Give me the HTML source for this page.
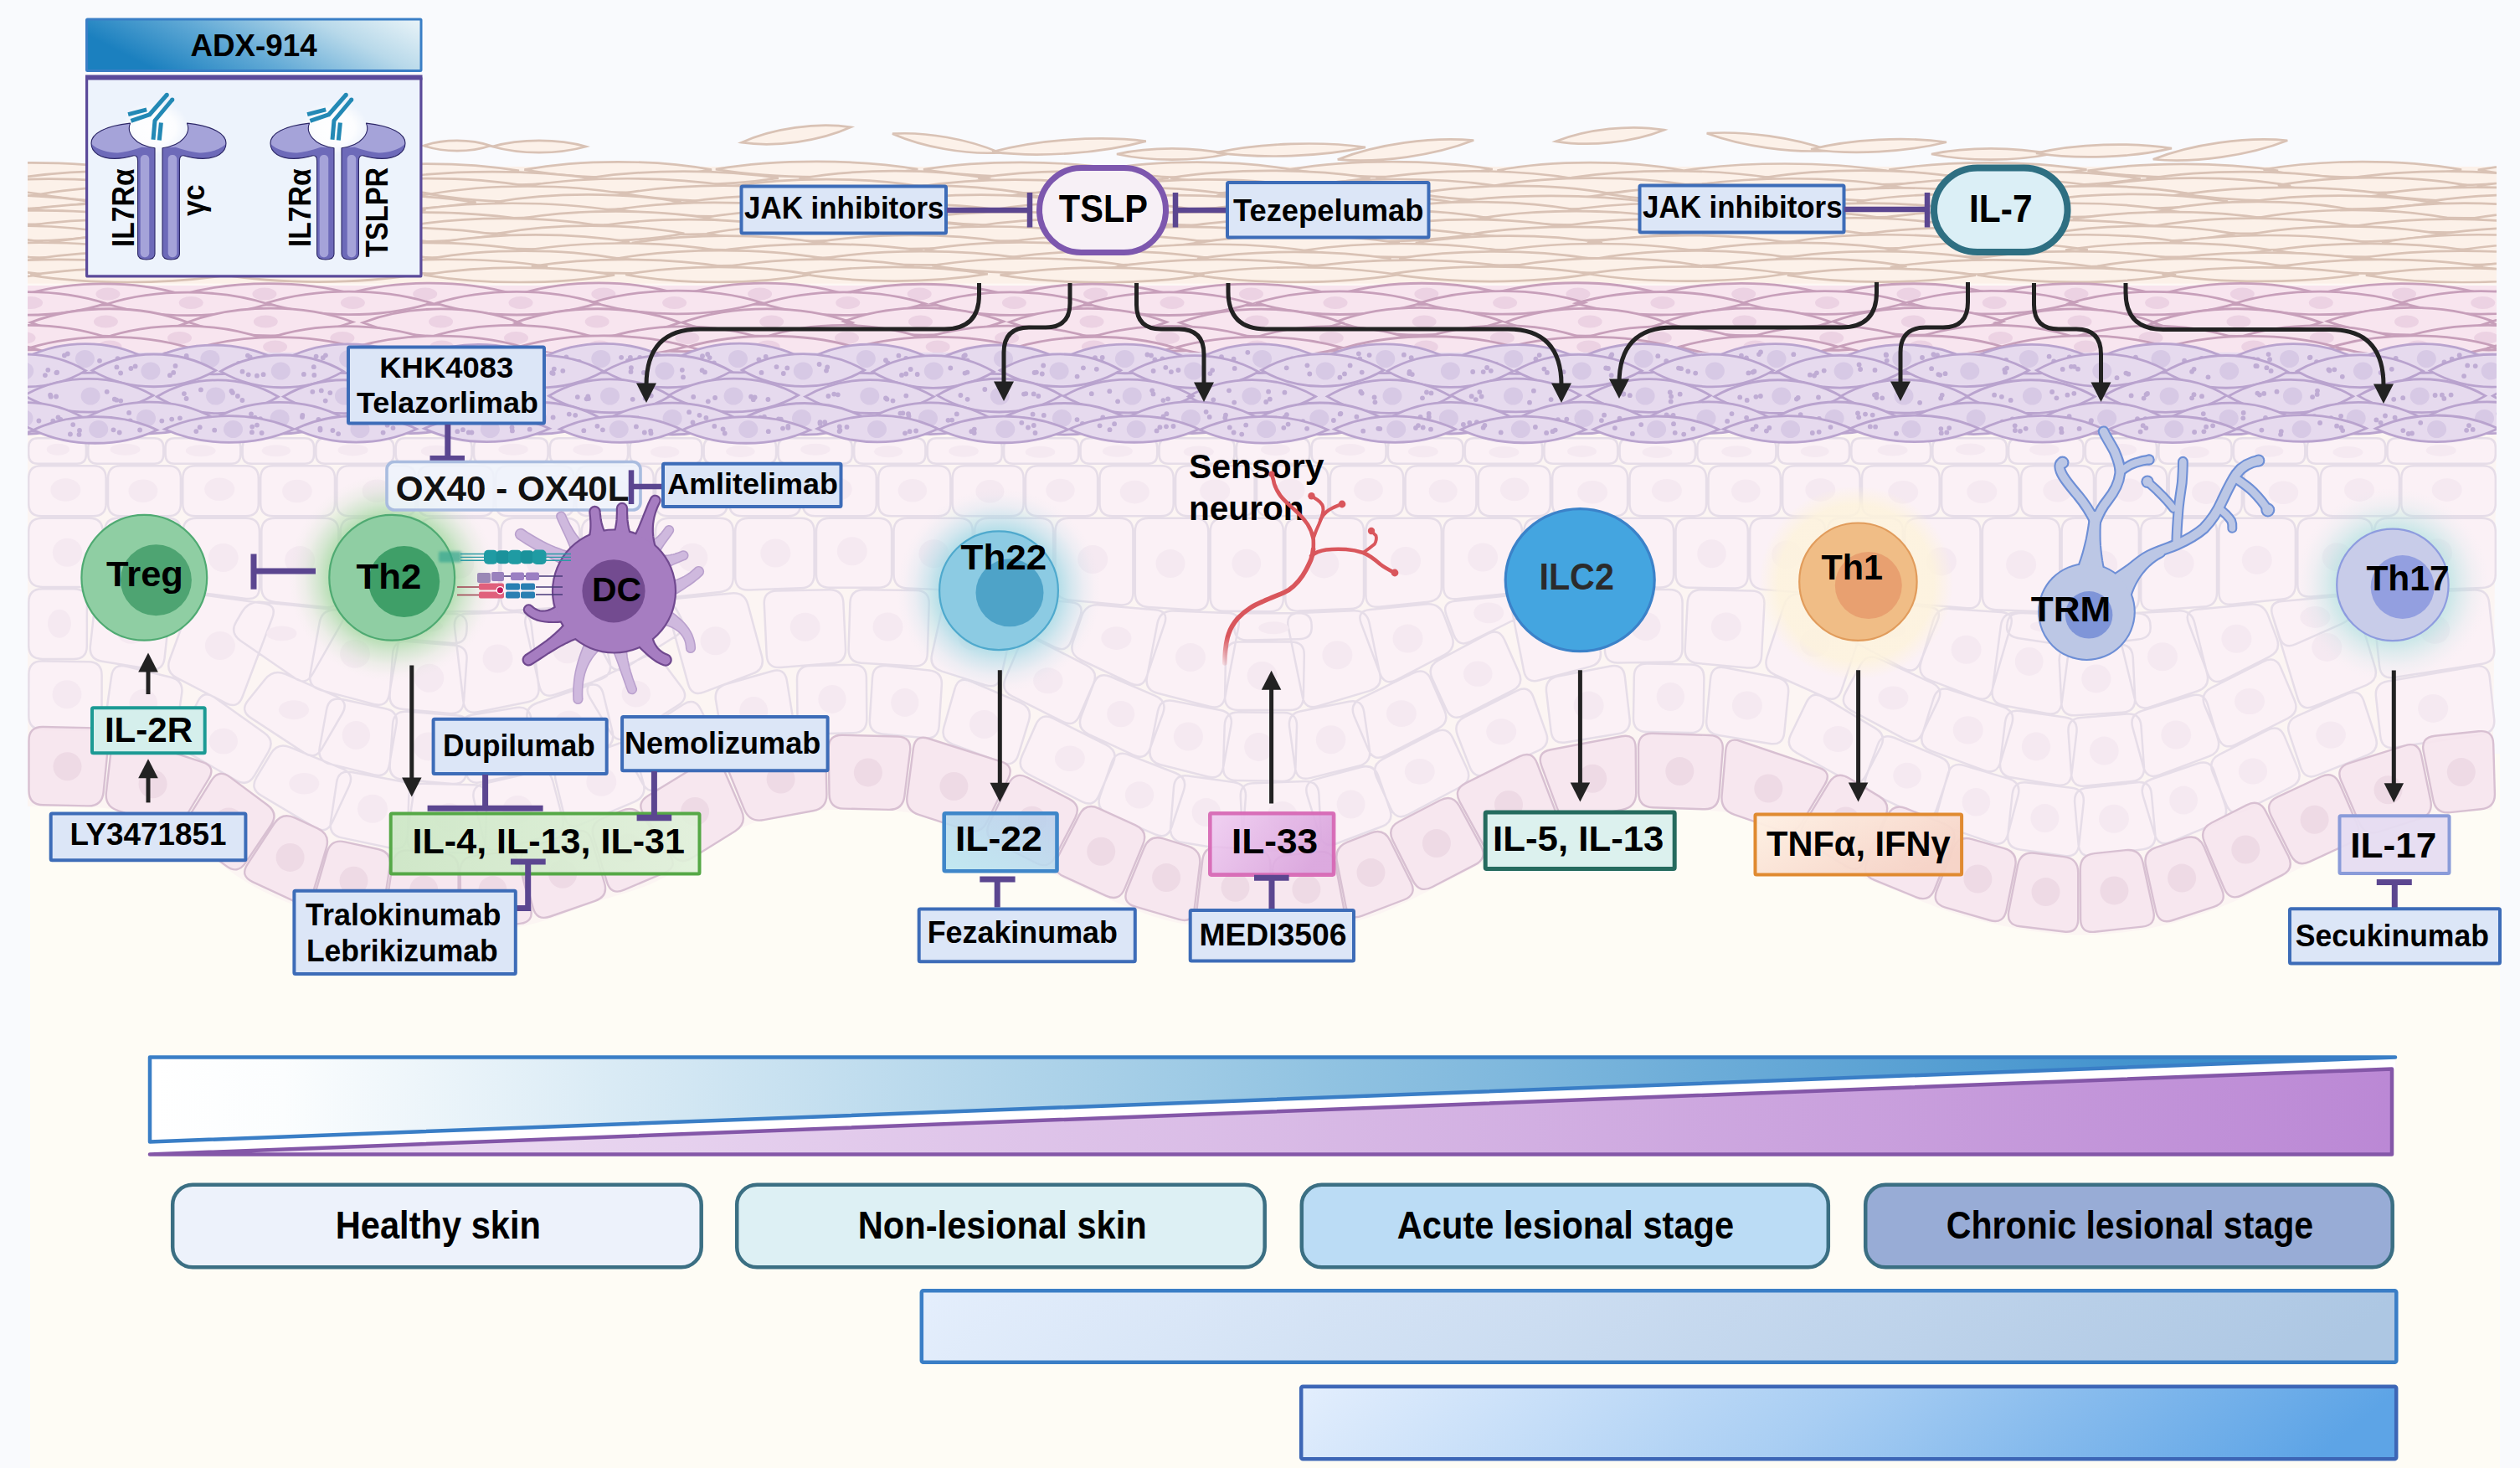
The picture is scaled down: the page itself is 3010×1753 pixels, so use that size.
<!DOCTYPE html>
<html lang="en"><head><meta charset="utf-8"><title>Atopic dermatitis pathways</title>
<style>html,body{margin:0;padding:0;background:#f9fafd;}svg{display:block;}</style></head>
<body>
<svg width="3010" height="1753" viewBox="0 0 3010 1753" font-family="'Liberation Sans', Arial, sans-serif" font-weight="700">
<defs>
<linearGradient id="gADX" x1="0" x2="1" y1="0.3" y2="0"><stop offset="0" stop-color="#1b80bf"/><stop offset="0.35" stop-color="#62aad6"/><stop offset="0.7" stop-color="#b8d9ea"/><stop offset="1" stop-color="#eaf4f8"/></linearGradient>
<radialGradient id="gCup"><stop offset="0" stop-color="#fff" stop-opacity="1"/><stop offset="0.6" stop-color="#fff" stop-opacity="0.85"/><stop offset="1" stop-color="#fff" stop-opacity="0"/></radialGradient>
<radialGradient id="glTh2"><stop offset="0%" stop-color="#a3d9a1" stop-opacity="0.780"/><stop offset="60%" stop-color="#a3d9a1" stop-opacity="0.780"/><stop offset="72%" stop-color="#a3d9a1" stop-opacity="0.429"/><stop offset="84%" stop-color="#a3d9a1" stop-opacity="0.156"/><stop offset="94%" stop-color="#a3d9a1" stop-opacity="0.031"/><stop offset="100%" stop-color="#a3d9a1" stop-opacity="0.000"/></radialGradient>
<filter id="fBlur" x="-20%" y="-40%" width="140%" height="180%"><feGaussianBlur stdDeviation="1.6"/></filter>
<linearGradient id="gIL4" x1="0" x2="1"><stop offset="0" stop-color="#cbe7c4" stop-opacity="0.9"/><stop offset="1" stop-color="#e0f1da" stop-opacity="0.9"/></linearGradient>
<radialGradient id="glTh22"><stop offset="0%" stop-color="#9dd8e4" stop-opacity="0.750"/><stop offset="58%" stop-color="#9dd8e4" stop-opacity="0.750"/><stop offset="70.6%" stop-color="#9dd8e4" stop-opacity="0.413"/><stop offset="83.2%" stop-color="#9dd8e4" stop-opacity="0.150"/><stop offset="93.7%" stop-color="#9dd8e4" stop-opacity="0.030"/><stop offset="100%" stop-color="#9dd8e4" stop-opacity="0.000"/></radialGradient>
<linearGradient id="gIL22" x1="0" x2="1" y1="1" y2="0"><stop offset="0" stop-color="#b9e6f0"/><stop offset="1" stop-color="#bbcfec"/></linearGradient>
<linearGradient id="gNeu" gradientUnits="userSpaceOnUse" x1="0" y1="760" x2="0" y2="796"><stop offset="0" stop-color="#d9565c"/><stop offset="1" stop-color="#d9565c" stop-opacity="0.1"/></linearGradient>
<linearGradient id="gIL33" x1="0" x2="1" y1="0" y2="0.4"><stop offset="0" stop-color="#efcdf1"/><stop offset="1" stop-color="#d9a3dd"/></linearGradient>
<radialGradient id="glTh1"><stop offset="0%" stop-color="#fdf3dc" stop-opacity="0.850"/><stop offset="80%" stop-color="#fdf3dc" stop-opacity="0.850"/><stop offset="100%" stop-color="#fdf3dc" stop-opacity="0.000"/></radialGradient>
<linearGradient id="gTNF" x1="0" x2="1" y1="0" y2="0.6"><stop offset="0" stop-color="#fef1e4"/><stop offset="1" stop-color="#f6d3c6"/></linearGradient>
<radialGradient id="glTh17"><stop offset="0%" stop-color="#a8e0de" stop-opacity="0.600"/><stop offset="58%" stop-color="#a8e0de" stop-opacity="0.600"/><stop offset="70.6%" stop-color="#a8e0de" stop-opacity="0.330"/><stop offset="83.2%" stop-color="#a8e0de" stop-opacity="0.120"/><stop offset="93.7%" stop-color="#a8e0de" stop-opacity="0.024"/><stop offset="100%" stop-color="#a8e0de" stop-opacity="0.000"/></radialGradient>
<linearGradient id="gBlueW" x1="0" x2="1" y1="0" y2="0"><stop offset="0" stop-color="#ffffff"/><stop offset="0.06" stop-color="#fbfdfe"/><stop offset="0.5" stop-color="#96c6e3"/><stop offset="1" stop-color="#2a84c7"/></linearGradient>
<linearGradient id="gPurW" x1="0" x2="1" y1="0" y2="0"><stop offset="0" stop-color="#f1e4f5"/><stop offset="0.5" stop-color="#d9bbe6"/><stop offset="1" stop-color="#bb88d5"/></linearGradient>
<linearGradient id="gBar1" x1="0" x2="1" y1="0" y2="0.05"><stop offset="0" stop-color="#e4eefc"/><stop offset="1" stop-color="#adc7e3"/></linearGradient>
<linearGradient id="gBar2" x1="0" x2="1" y1="0" y2="0.08"><stop offset="0" stop-color="#e3eefd"/><stop offset="0.5" stop-color="#a9cef3"/><stop offset="1" stop-color="#5da4e6"/></linearGradient>
</defs>
<rect x="0" y="0" width="3010" height="1753" fill="#f9fafd"/>
<clipPath id="skinclip"><rect x="33" y="0" width="2949" height="1753"/></clipPath>
<rect x="36" y="900" width="2950" height="853" fill="#fefcf5"/>
<g clip-path="url(#skinclip)">
<path d="M33 500 L33 963 L41 963 L49 963 L57 963 L65 963 L73 963 L81 963.1 L89 963.1 L97 963.3 L105 963.6 L113 964 L121 964.6 L129 965.5 L137 966.6 L145 968 L153 969.7 L161 971.7 L169 973.9 L177 976.6 L185 979.6 L193 983.1 L201 987.1 L209 991.5 L217 996.4 L225 1001.8 L233 1007.6 L241 1013.8 L249 1020.1 L257 1026.6 L265 1032.9 L273 1039 L281 1044.8 L289 1050.1 L297 1055 L305 1059.6 L313 1063.8 L321 1067.8 L329 1071.5 L337 1075 L345 1078.2 L353 1081.1 L361 1083.8 L369 1086.2 L377 1088.5 L385 1090.7 L393 1092.8 L401 1094.8 L409 1096.6 L417 1098.4 L425 1100 L433 1101.5 L441 1102.9 L449 1104.2 L457 1105.5 L465 1106.7 L473 1107.8 L481 1108.9 L489 1109.9 L497 1110.8 L505 1111.6 L513 1112.3 L521 1112.8 L529 1113.2 L537 1113.5 L545 1113.7 L553 1113.7 L561 1113.4 L569 1113 L577 1112.4 L585 1111.6 L593 1110.7 L601 1109.7 L609 1108.5 L617 1107.3 L625 1105.8 L633 1104.1 L641 1102.1 L649 1099.8 L657 1097.3 L665 1094.5 L673 1091.5 L681 1088.4 L689 1085.3 L697 1082.2 L705 1079.4 L713 1076.7 L721 1074.1 L729 1071.7 L737 1069.3 L745 1066.9 L753 1064.4 L761 1061.8 L769 1058.9 L777 1055.7 L785 1052.1 L793 1048 L801 1043.4 L809 1038.2 L817 1032.6 L825 1026.7 L833 1020.9 L841 1015.2 L849 1009.7 L857 1004.6 L865 999.8 L873 995.3 L881 991.1 L889 987.2 L897 983.7 L905 980.6 L913 977.9 L921 975.7 L929 973.8 L937 972.1 L945 970.8 L953 969.6 L961 968.7 L969 968.1 L977 967.6 L985 967.3 L993 967.1 L1001 967.1 L1009 967 L1017 967 L1025 967 L1033 967.1 L1041 967.2 L1049 967.3 L1057 967.6 L1065 968.1 L1073 968.8 L1081 969.7 L1089 970.8 L1097 972.1 L1105 973.8 L1113 975.6 L1121 977.9 L1129 980.5 L1137 983.4 L1145 986.7 L1153 990.2 L1161 994 L1169 997.8 L1177 1001.7 L1185 1005.7 L1193 1009.7 L1201 1013.8 L1209 1017.9 L1217 1022 L1225 1026.2 L1233 1030.4 L1241 1034.5 L1249 1038.7 L1257 1042.8 L1265 1046.8 L1273 1050.7 L1281 1054.6 L1289 1058.3 L1297 1061.9 L1305 1065.4 L1313 1068.9 L1321 1072.3 L1329 1075.7 L1337 1079 L1345 1082.3 L1353 1085.4 L1361 1088.5 L1369 1091.4 L1377 1094.2 L1385 1096.6 L1393 1098.9 L1401 1100.8 L1409 1102.4 L1417 1103.7 L1425 1104.8 L1433 1105.7 L1441 1106.5 L1449 1107.2 L1457 1107.9 L1465 1108.5 L1473 1109.2 L1481 1109.8 L1489 1110.3 L1497 1110.8 L1505 1111.2 L1513 1111.3 L1521 1111.3 L1529 1111 L1537 1110.6 L1545 1110 L1553 1109.2 L1561 1108.4 L1569 1107.5 L1577 1106.6 L1585 1105.6 L1593 1104.6 L1601 1103.4 L1609 1102 L1617 1100.4 L1625 1098.5 L1633 1096.2 L1641 1093.6 L1649 1090.7 L1657 1087.5 L1665 1084 L1673 1080.3 L1681 1076.5 L1689 1072.6 L1697 1068.6 L1705 1064.5 L1713 1060.5 L1721 1056.4 L1729 1052.3 L1737 1048.2 L1745 1044.1 L1753 1039.9 L1761 1035.6 L1769 1031.4 L1777 1027 L1785 1022.7 L1793 1018.3 L1801 1013.9 L1809 1009.5 L1817 1005.2 L1825 1001 L1833 997 L1841 993.1 L1849 989.5 L1857 986.1 L1865 983 L1873 980.1 L1881 977.4 L1889 974.9 L1897 972.7 L1905 970.8 L1913 969.2 L1921 968 L1929 967.1 L1937 966.4 L1945 966 L1953 965.8 L1961 965.8 L1969 965.8 L1977 965.9 L1985 966.1 L1993 966.2 L2001 966.4 L2009 966.6 L2017 966.9 L2025 967.2 L2033 967.6 L2041 968.1 L2049 968.6 L2057 969.2 L2065 970 L2073 971.1 L2081 972.5 L2089 974.3 L2097 976.7 L2105 979.7 L2113 983.2 L2121 987.1 L2129 991.5 L2137 996 L2145 1000.8 L2153 1005.7 L2161 1010.8 L2169 1015.9 L2177 1021 L2185 1026.1 L2193 1031 L2201 1035.6 L2209 1039.9 L2217 1043.9 L2225 1047.6 L2233 1051 L2241 1054.2 L2249 1057.4 L2257 1060.6 L2265 1063.8 L2273 1067 L2281 1070.3 L2289 1073.6 L2297 1076.9 L2305 1080.1 L2313 1083.3 L2321 1086.2 L2329 1089 L2337 1091.6 L2345 1094 L2353 1096.3 L2361 1098.4 L2369 1100.4 L2377 1102.3 L2385 1104 L2393 1105.7 L2401 1107.3 L2409 1108.8 L2417 1110.1 L2425 1111.4 L2433 1112.6 L2441 1113.6 L2449 1114.6 L2457 1115.3 L2465 1115.9 L2473 1116.3 L2481 1116.5 L2489 1116.5 L2497 1116.3 L2505 1115.9 L2513 1115.4 L2521 1114.8 L2529 1114 L2537 1113.2 L2545 1112.1 L2553 1111 L2561 1109.7 L2569 1108.2 L2577 1106.6 L2585 1104.8 L2593 1102.9 L2601 1100.7 L2609 1098.4 L2617 1095.9 L2625 1093.2 L2633 1090.4 L2641 1087.5 L2649 1084.4 L2657 1081.2 L2665 1077.9 L2673 1074.4 L2681 1070.7 L2689 1066.8 L2697 1062.7 L2705 1058.5 L2713 1054.3 L2721 1050.1 L2729 1045.8 L2737 1041.7 L2745 1037.7 L2753 1033.7 L2761 1029.8 L2769 1026 L2777 1022.2 L2785 1018.5 L2793 1014.8 L2801 1011.2 L2809 1007.6 L2817 1004.1 L2825 1000.6 L2833 997.2 L2841 993.9 L2849 990.8 L2857 987.9 L2865 985.2 L2873 982.8 L2881 980.6 L2889 978.5 L2897 976.6 L2905 974.9 L2913 973.2 L2921 971.8 L2929 970.5 L2937 969.5 L2945 968.6 L2953 968 L2961 967.4 L2969 967 L2977 966.7 L2982 500 Z" fill="#fcf5f3"/>
<path d="M34.2 534.2Q34.2 523.2 45.2 523.2L91.9 523.2Q102.9 523.2 102.9 534.2L102.9 542.8Q102.9 553.8 91.9 553.8L45.2 553.8Q34.2 553.8 34.2 542.8ZM105.3 534.2Q105.3 523.2 116.3 523.2L184.2 523.2Q195.2 523.2 195.2 534.2L195.2 542.8Q195.2 553.8 184.2 553.8L116.3 553.8Q105.3 553.8 105.3 542.8ZM197.6 534.2Q197.6 523.2 208.6 523.2L276.3 523.2Q287.3 523.2 287.3 534.2L287.3 542.8Q287.3 553.8 276.3 553.8L208.6 553.8Q197.6 553.8 197.6 542.8ZM289.7 534.2Q289.7 523.2 300.7 523.2L364 523.2Q375 523.2 375 534.2L375 542.8Q375 553.8 364 553.8L300.7 553.8Q289.7 553.8 289.7 542.8ZM377.4 534.2Q377.4 523.2 388.4 523.2L459.3 523.2Q470.3 523.2 470.3 534.2L470.3 542.8Q470.3 553.8 459.3 553.8L388.4 553.8Q377.4 553.8 377.4 542.8ZM472.7 534.2Q472.7 523.2 483.7 523.2L552.6 523.2Q563.6 523.2 563.6 534.2L563.6 542.8Q563.6 553.8 552.6 553.8L483.7 553.8Q472.7 553.8 472.7 542.8ZM566 534.2Q566 523.2 577 523.2L643.5 523.2Q654.5 523.2 654.5 534.2L654.5 542.8Q654.5 553.8 643.5 553.8L577 553.8Q566 553.8 566 542.8ZM656.9 534.2Q656.9 523.2 667.9 523.2L739.1 523.2Q750.1 523.2 750.1 534.2L750.1 542.8Q750.1 553.8 739.1 553.8L667.9 553.8Q656.9 553.8 656.9 542.8ZM752.5 534.2Q752.5 523.2 763.5 523.2L827.3 523.2Q838.3 523.2 838.3 534.2L838.3 542.8Q838.3 553.8 827.3 553.8L763.5 553.8Q752.5 553.8 752.5 542.8ZM840.7 534.2Q840.7 523.2 851.7 523.2L916.1 523.2Q927.1 523.2 927.1 534.2L927.1 542.8Q927.1 553.8 916.1 553.8L851.7 553.8Q840.7 553.8 840.7 542.8ZM929.5 534.2Q929.5 523.2 940.5 523.2L1006.8 523.2Q1017.8 523.2 1017.8 534.2L1017.8 542.8Q1017.8 553.8 1006.8 553.8L940.5 553.8Q929.5 553.8 929.5 542.8ZM1020.2 534.2Q1020.2 523.2 1031.2 523.2L1094.4 523.2Q1105.4 523.2 1105.4 534.2L1105.4 542.8Q1105.4 553.8 1094.4 553.8L1031.2 553.8Q1020.2 553.8 1020.2 542.8ZM1107.8 534.2Q1107.8 523.2 1118.8 523.2L1185.7 523.2Q1196.7 523.2 1196.7 534.2L1196.7 542.8Q1196.7 553.8 1185.7 553.8L1118.8 553.8Q1107.8 553.8 1107.8 542.8ZM1199.1 534.2Q1199.1 523.2 1210.1 523.2L1277.2 523.2Q1288.2 523.2 1288.2 534.2L1288.2 542.8Q1288.2 553.8 1277.2 553.8L1210.1 553.8Q1199.1 553.8 1199.1 542.8ZM1290.6 534.2Q1290.6 523.2 1301.6 523.2L1371.2 523.2Q1382.2 523.2 1382.2 534.2L1382.2 542.8Q1382.2 553.8 1371.2 553.8L1301.6 553.8Q1290.6 553.8 1290.6 542.8ZM1384.6 534.2Q1384.6 523.2 1395.6 523.2L1463.5 523.2Q1474.5 523.2 1474.5 534.2L1474.5 542.8Q1474.5 553.8 1463.5 553.8L1395.6 553.8Q1384.6 553.8 1384.6 542.8ZM1476.9 534.2Q1476.9 523.2 1487.9 523.2L1553.3 523.2Q1564.3 523.2 1564.3 534.2L1564.3 542.8Q1564.3 553.8 1553.3 553.8L1487.9 553.8Q1476.9 553.8 1476.9 542.8ZM1566.7 534.2Q1566.7 523.2 1577.7 523.2L1644.5 523.2Q1655.5 523.2 1655.5 534.2L1655.5 542.8Q1655.5 553.8 1644.5 553.8L1577.7 553.8Q1566.7 553.8 1566.7 542.8ZM1657.9 534.2Q1657.9 523.2 1668.9 523.2L1736.4 523.2Q1747.4 523.2 1747.4 534.2L1747.4 542.8Q1747.4 553.8 1736.4 553.8L1668.9 553.8Q1657.9 553.8 1657.9 542.8ZM1749.8 534.2Q1749.8 523.2 1760.8 523.2L1831.1 523.2Q1842.1 523.2 1842.1 534.2L1842.1 542.8Q1842.1 553.8 1831.1 553.8L1760.8 553.8Q1749.8 553.8 1749.8 542.8ZM1844.5 534.2Q1844.5 523.2 1855.5 523.2L1921.2 523.2Q1932.2 523.2 1932.2 534.2L1932.2 542.8Q1932.2 553.8 1921.2 553.8L1855.5 553.8Q1844.5 553.8 1844.5 542.8ZM1934.6 534.2Q1934.6 523.2 1945.6 523.2L2014 523.2Q2025 523.2 2025 534.2L2025 542.8Q2025 553.8 2014 553.8L1945.6 553.8Q1934.6 553.8 1934.6 542.8ZM2027.4 534.2Q2027.4 523.2 2038.4 523.2L2110.4 523.2Q2121.4 523.2 2121.4 534.2L2121.4 542.8Q2121.4 553.8 2110.4 553.8L2038.4 553.8Q2027.4 553.8 2027.4 542.8ZM2123.8 534.2Q2123.8 523.2 2134.8 523.2L2198 523.2Q2209 523.2 2209 534.2L2209 542.8Q2209 553.8 2198 553.8L2134.8 553.8Q2123.8 553.8 2123.8 542.8ZM2211.4 534.2Q2211.4 523.2 2222.4 523.2L2295 523.2Q2306 523.2 2306 534.2L2306 542.8Q2306 553.8 2295 553.8L2222.4 553.8Q2211.4 553.8 2211.4 542.8ZM2308.4 534.2Q2308.4 523.2 2319.4 523.2L2385.8 523.2Q2396.8 523.2 2396.8 534.2L2396.8 542.8Q2396.8 553.8 2385.8 553.8L2319.4 553.8Q2308.4 553.8 2308.4 542.8ZM2399.2 534.2Q2399.2 523.2 2410.2 523.2L2477.5 523.2Q2488.5 523.2 2488.5 534.2L2488.5 542.8Q2488.5 553.8 2477.5 553.8L2410.2 553.8Q2399.2 553.8 2399.2 542.8ZM2490.9 534.2Q2490.9 523.2 2501.9 523.2L2565 523.2Q2576 523.2 2576 534.2L2576 542.8Q2576 553.8 2565 553.8L2501.9 553.8Q2490.9 553.8 2490.9 542.8ZM2578.4 534.2Q2578.4 523.2 2589.4 523.2L2654.5 523.2Q2665.5 523.2 2665.5 534.2L2665.5 542.8Q2665.5 553.8 2654.5 553.8L2589.4 553.8Q2578.4 553.8 2578.4 542.8ZM2667.9 534.2Q2667.9 523.2 2678.9 523.2L2742.3 523.2Q2753.3 523.2 2753.3 534.2L2753.3 542.8Q2753.3 553.8 2742.3 553.8L2678.9 553.8Q2667.9 553.8 2667.9 542.8ZM2755.7 534.2Q2755.7 523.2 2766.7 523.2L2838.2 523.2Q2849.2 523.2 2849.2 534.2L2849.2 542.8Q2849.2 553.8 2838.2 553.8L2766.7 553.8Q2755.7 553.8 2755.7 542.8ZM2851.6 534.2Q2851.6 523.2 2862.6 523.2L2969.8 523.2Q2980.8 523.2 2980.8 534.2L2980.8 542.8Q2980.8 553.8 2969.8 553.8L2862.6 553.8Q2851.6 553.8 2851.6 542.8ZM34.2 571.2Q34.2 556.2 49.2 556.2L111.6 556.2Q126.6 556.2 126.6 571.2L126.6 601.3Q126.6 616.3 111.6 616.3L49.2 616.3Q34.2 616.3 34.2 601.3ZM129 571.2Q129 556.2 144 556.2L200.9 556.2Q215.9 556.2 215.9 571.2L215.9 601.3Q215.9 616.3 200.9 616.3L144 616.3Q129 616.3 129 601.3ZM218.3 571.2Q218.3 556.2 233.3 556.2L293.8 556.2Q308.8 556.2 308.8 571.2L308.8 601.3Q308.8 616.3 293.8 616.3L233.3 616.3Q218.3 616.3 218.3 601.3ZM311.2 571.2Q311.2 556.2 326.2 556.2L385 556.2Q400 556.2 400 571.2L400 601.3Q400 616.3 385 616.3L326.2 616.3Q311.2 616.3 311.2 601.3ZM402.4 571.2Q402.4 556.2 417.4 556.2L481.6 556.2Q496.6 556.2 496.6 571.2L496.6 601.3Q496.6 616.3 481.6 616.3L417.4 616.3Q402.4 616.3 402.4 601.3ZM499 571.2Q499 556.2 514 556.2L574.7 556.2Q589.7 556.2 589.7 571.2L589.7 601.3Q589.7 616.3 574.7 616.3L514 616.3Q499 616.3 499 601.3ZM592.1 571.2Q592.1 556.2 607.1 556.2L670.7 556.2Q685.7 556.2 685.7 571.2L685.7 601.3Q685.7 616.3 670.7 616.3L607.1 616.3Q592.1 616.3 592.1 601.3ZM688.1 571.2Q688.1 556.2 703.1 556.2L765.7 556.2Q780.7 556.2 780.7 571.2L780.7 601.3Q780.7 616.3 765.7 616.3L703.1 616.3Q688.1 616.3 688.1 601.3ZM783.1 571.2Q783.1 556.2 798.1 556.2L853.7 556.2Q868.7 556.2 868.7 571.2L868.7 601.3Q868.7 616.3 853.7 616.3L798.1 616.3Q783.1 616.3 783.1 601.3ZM871.1 571.2Q871.1 556.2 886.1 556.2L941.4 556.2Q956.4 556.2 956.4 571.2L956.4 601.3Q956.4 616.3 941.4 616.3L886.1 616.3Q871.1 616.3 871.1 601.3ZM958.8 571.2Q958.8 556.2 973.8 556.2L1031.8 556.2Q1046.8 556.2 1046.8 571.2L1046.8 601.3Q1046.8 616.3 1031.8 616.3L973.8 616.3Q958.8 616.3 958.8 601.3ZM1049.2 571.2Q1049.2 556.2 1064.2 556.2L1120.3 556.2Q1135.3 556.2 1135.3 571.2L1135.3 601.3Q1135.3 616.3 1120.3 616.3L1064.2 616.3Q1049.2 616.3 1049.2 601.3ZM1137.7 571.2Q1137.7 556.2 1152.7 556.2L1207.6 556.2Q1222.6 556.2 1222.6 571.2L1222.6 601.3Q1222.6 616.3 1207.6 616.3L1152.7 616.3Q1137.7 616.3 1137.7 601.3ZM1225 571.2Q1225 556.2 1240 556.2L1296.1 556.2Q1311.1 556.2 1311.1 571.2L1311.1 601.3Q1311.1 616.3 1296.1 616.3L1240 616.3Q1225 616.3 1225 601.3ZM1313.5 571.2Q1313.5 556.2 1328.5 556.2L1386.7 556.2Q1401.7 556.2 1401.7 571.2L1401.7 601.3Q1401.7 616.3 1386.7 616.3L1328.5 616.3Q1313.5 616.3 1313.5 601.3ZM1404.1 571.2Q1404.1 556.2 1419.1 556.2L1483.6 556.2Q1498.6 556.2 1498.6 571.2L1498.6 601.3Q1498.6 616.3 1483.6 616.3L1419.1 616.3Q1404.1 616.3 1404.1 601.3ZM1501 571.2Q1501 556.2 1516 556.2L1571.5 556.2Q1586.5 556.2 1586.5 571.2L1586.5 601.3Q1586.5 616.3 1571.5 616.3L1516 616.3Q1501 616.3 1501 601.3ZM1588.9 571.2Q1588.9 556.2 1603.9 556.2L1661.2 556.2Q1676.2 556.2 1676.2 571.2L1676.2 601.3Q1676.2 616.3 1661.2 616.3L1603.9 616.3Q1588.9 616.3 1588.9 601.3ZM1678.6 571.2Q1678.6 556.2 1693.6 556.2L1748.4 556.2Q1763.4 556.2 1763.4 571.2L1763.4 601.3Q1763.4 616.3 1748.4 616.3L1693.6 616.3Q1678.6 616.3 1678.6 601.3ZM1765.8 571.2Q1765.8 556.2 1780.8 556.2L1836.8 556.2Q1851.8 556.2 1851.8 571.2L1851.8 601.3Q1851.8 616.3 1836.8 616.3L1780.8 616.3Q1765.8 616.3 1765.8 601.3ZM1854.2 571.2Q1854.2 556.2 1869.2 556.2L1929.1 556.2Q1944.1 556.2 1944.1 571.2L1944.1 601.3Q1944.1 616.3 1929.1 616.3L1869.2 616.3Q1854.2 616.3 1854.2 601.3ZM1946.5 571.2Q1946.5 556.2 1961.5 556.2L2023.1 556.2Q2038.1 556.2 2038.1 571.2L2038.1 601.3Q2038.1 616.3 2023.1 616.3L1961.5 616.3Q1946.5 616.3 1946.5 601.3ZM2040.5 571.2Q2040.5 556.2 2055.5 556.2L2111.8 556.2Q2126.8 556.2 2126.8 571.2L2126.8 601.3Q2126.8 616.3 2111.8 616.3L2055.5 616.3Q2040.5 616.3 2040.5 601.3ZM2129.2 571.2Q2129.2 556.2 2144.2 556.2L2206.6 556.2Q2221.6 556.2 2221.6 571.2L2221.6 601.3Q2221.6 616.3 2206.6 616.3L2144.2 616.3Q2129.2 616.3 2129.2 601.3ZM2224 571.2Q2224 556.2 2239 556.2L2301.7 556.2Q2316.7 556.2 2316.7 571.2L2316.7 601.3Q2316.7 616.3 2301.7 616.3L2239 616.3Q2224 616.3 2224 601.3ZM2319.1 571.2Q2319.1 556.2 2334.1 556.2L2396.7 556.2Q2411.7 556.2 2411.7 571.2L2411.7 601.3Q2411.7 616.3 2396.7 616.3L2334.1 616.3Q2319.1 616.3 2319.1 601.3ZM2414.1 571.2Q2414.1 556.2 2429.1 556.2L2486 556.2Q2501 556.2 2501 571.2L2501 601.3Q2501 616.3 2486 616.3L2429.1 616.3Q2414.1 616.3 2414.1 601.3ZM2503.4 571.2Q2503.4 556.2 2518.4 556.2L2573.3 556.2Q2588.3 556.2 2588.3 571.2L2588.3 601.3Q2588.3 616.3 2573.3 616.3L2518.4 616.3Q2503.4 616.3 2503.4 601.3ZM2590.7 571.2Q2590.7 556.2 2605.7 556.2L2662.9 556.2Q2677.9 556.2 2677.9 571.2L2677.9 601.3Q2677.9 616.3 2662.9 616.3L2605.7 616.3Q2590.7 616.3 2590.7 601.3ZM2680.3 571.2Q2680.3 556.2 2695.3 556.2L2754.4 556.2Q2769.4 556.2 2769.4 571.2L2769.4 601.3Q2769.4 616.3 2754.4 616.3L2695.3 616.3Q2680.3 616.3 2680.3 601.3ZM2771.8 571.2Q2771.8 556.2 2786.8 556.2L2850.9 556.2Q2865.9 556.2 2865.9 571.2L2865.9 601.3Q2865.9 616.3 2850.9 616.3L2786.8 616.3Q2771.8 616.3 2771.8 601.3ZM2868.3 571.2Q2868.3 556.2 2883.3 556.2L2965.8 556.2Q2980.8 556.2 2980.8 571.2L2980.8 601.3Q2980.8 616.3 2965.8 616.3L2883.3 616.3Q2868.3 616.3 2868.3 601.3ZM34.2 634.7Q34.2 618.7 50.2 618.7L106.7 618.7Q122.7 618.7 122.7 634.7L122.7 685.1Q122.7 701.1 106.7 701L50.2 700.9Q34.2 700.8 34.2 684.8ZM125.1 634.7Q125.1 618.7 141.1 618.7L200.2 618.7Q216.2 618.7 216.2 634.7L216.2 689.2Q216.2 705.2 200.3 704.5L141.1 701.8Q125.1 701.1 125.1 685.1ZM218.6 634.7Q218.6 618.7 234.6 618.7L293.9 618.7Q309.9 618.7 309.9 634.7L309.9 700.9Q309.9 716.9 294 714.9L234.5 707.4Q218.6 705.4 218.6 689.4ZM312.3 634.7Q312.3 618.7 328.3 618.7L388.4 618.7Q404.4 618.7 404.4 634.7L404.4 710.7Q404.4 726.7 388.4 725.1L328.2 718.9Q312.3 717.2 312.3 701.2ZM406.8 634.7Q406.8 618.7 422.8 618.7L483.2 618.7Q499.2 618.7 499.2 634.7L499.2 714.3Q499.2 730.3 483.3 729.7L422.7 727.5Q406.8 726.9 406.8 710.9ZM501.6 634.7Q501.6 618.7 517.6 618.7L580 618.7Q596 618.7 596 634.7L596 714.1Q596 730.1 580 730.1L517.6 730.3Q501.6 730.4 501.6 714.4ZM598.4 634.7Q598.4 618.7 614.4 618.7L676.4 618.7Q692.4 618.7 692.4 634.7L692.4 707.9Q692.4 723.9 676.5 725L614.3 729Q598.4 730 598.4 714ZM694.8 634.7Q694.8 618.7 710.8 618.7L764.7 618.7Q780.7 618.7 780.7 634.7L780.7 699.7Q780.7 715.7 764.8 717.2L710.8 722.3Q694.8 723.8 694.8 707.8ZM783.1 634.7Q783.1 618.7 799.1 618.7L859.8 618.7Q875.8 618.7 875.8 634.7L875.8 689.3Q875.8 705.3 859.9 707L799 713.6Q783.1 715.3 783.1 699.3ZM878.2 634.7Q878.2 618.7 894.2 618.7L956.6 618.7Q972.6 618.7 972.6 634.7L972.6 685.7Q972.6 701.7 956.6 702.3L894.2 704.5Q878.2 705.1 878.2 689.1ZM975 634.7Q975 618.7 991 618.7L1049.1 618.7Q1065.1 618.7 1065.1 634.7L1065.1 685.8Q1065.1 701.8 1049.1 701.8L991 701.7Q975 701.7 975 685.7ZM1067.5 634.7Q1067.5 618.7 1083.5 618.7L1145.8 618.7Q1161.8 618.7 1161.8 634.7L1161.8 689.5Q1161.8 705.5 1145.8 704.9L1083.4 702.4Q1067.5 701.8 1067.5 685.8ZM1164.2 634.7Q1164.2 618.7 1180.2 618.7L1242.1 618.7Q1258.1 618.7 1258.1 634.7L1258.1 698.6Q1258.1 714.6 1242.2 713.1L1180.1 707.2Q1164.2 705.7 1164.2 689.7ZM1260.5 634.7Q1260.5 618.7 1276.5 618.7L1337.4 618.7Q1353.4 618.7 1353.4 634.7L1353.4 707.8Q1353.4 723.8 1337.4 722.3L1276.4 716.4Q1260.5 714.8 1260.5 698.8ZM1355.8 634.7Q1355.8 618.7 1371.8 618.7L1427.3 618.7Q1443.3 618.7 1443.3 634.7L1443.3 713.5Q1443.3 729.5 1427.3 728.5L1371.7 725Q1355.8 724 1355.8 708ZM1445.7 634.7Q1445.7 618.7 1461.7 618.7L1516.9 618.7Q1532.9 618.7 1532.9 634.7L1532.9 714.3Q1532.9 730.3 1516.9 730.2L1461.7 729.7Q1445.7 729.5 1445.7 713.5ZM1535.3 634.7Q1535.3 618.7 1551.3 618.7L1613 618.7Q1629 618.7 1629 634.7L1629 710.5Q1629 726.5 1613 727.1L1551.3 729.6Q1535.3 730.3 1535.3 714.3ZM1631.4 634.7Q1631.4 618.7 1647.4 618.7L1705.8 618.7Q1721.8 618.7 1721.8 634.7L1721.8 701.1Q1721.8 717.1 1705.9 718.7L1647.3 724.7Q1631.4 726.3 1631.4 710.3ZM1724.2 634.7Q1724.2 618.7 1740.2 618.7L1802 618.7Q1818 618.7 1818 634.7L1818 691.2Q1818 707.2 1802.1 708.8L1740.1 715.2Q1724.2 716.8 1724.2 700.8ZM1820.4 634.7Q1820.4 618.7 1836.4 618.7L1894.2 618.7Q1910.2 618.7 1910.2 634.7L1910.2 685.9Q1910.2 701.9 1894.3 702.8L1836.4 706.1Q1820.4 707 1820.4 691ZM1912.6 634.7Q1912.6 618.7 1928.6 618.7L1983.1 618.7Q1999.1 618.7 1999.1 634.7L1999.1 685.5Q1999.1 701.5 1983.1 701.5L1928.6 701.8Q1912.6 701.9 1912.6 685.9ZM2001.5 634.7Q2001.5 618.7 2017.5 618.7L2071.8 618.7Q2087.8 618.7 2087.8 634.7L2087.8 686.7Q2087.8 702.7 2071.8 702.4L2017.5 701.7Q2001.5 701.5 2001.5 685.5ZM2090.2 634.7Q2090.2 618.7 2106.2 618.7L2164.4 618.7Q2180.4 618.7 2180.4 634.7L2180.4 693.6Q2180.4 709.6 2164.4 708.4L2106.1 703.9Q2090.2 702.7 2090.2 686.7ZM2182.8 634.7Q2182.8 618.7 2198.8 618.7L2256.9 618.7Q2272.9 618.7 2272.9 634.7L2272.9 704.2Q2272.9 720.2 2257 718.4L2198.6 711.7Q2182.8 709.9 2182.8 693.9ZM2275.3 634.7Q2275.3 618.7 2291.3 618.7L2349.5 618.7Q2365.5 618.7 2365.5 634.7L2365.5 711.4Q2365.5 727.4 2349.6 726.2L2291.3 721.6Q2275.3 720.4 2275.3 704.4ZM2367.9 634.7Q2367.9 618.7 2383.9 618.7L2444.2 618.7Q2460.2 618.7 2460.2 634.7L2460.2 715.3Q2460.2 731.3 2444.2 730.6L2383.9 728.2Q2367.9 727.6 2367.9 711.6ZM2462.6 634.7Q2462.6 618.7 2478.6 618.7L2538.8 618.7Q2554.8 618.7 2554.8 634.7L2554.8 714.1Q2554.8 730.1 2538.8 730.3L2478.6 731.1Q2462.6 731.3 2462.6 715.3ZM2557.2 634.7Q2557.2 618.7 2573.2 618.7L2632 618.7Q2648 618.7 2648 634.7L2648 707.5Q2648 723.5 2632 724.6L2573.2 728.8Q2557.2 730 2557.2 714ZM2650.4 634.7Q2650.4 618.7 2666.4 618.7L2725.9 618.7Q2741.9 618.7 2741.9 634.7L2741.9 698Q2741.9 714 2726 715.6L2666.3 721.7Q2650.4 723.3 2650.4 707.3ZM2744.3 634.7Q2744.3 618.7 2760.3 618.7L2817.7 618.7Q2833.7 618.7 2833.7 634.7L2833.7 690.3Q2833.7 706.3 2817.7 707.7L2760.2 712.5Q2744.3 713.8 2744.3 697.8ZM2836.1 634.7Q2836.1 618.7 2852.1 618.7L2964.8 618.7Q2980.8 618.7 2980.8 634.7L2980.8 685.5Q2980.8 701.5 2964.8 702L2852.1 705.7Q2836.1 706.2 2836.1 690.2ZM34.4 805.2Q34.5 789.2 50.5 789.5L105.7 790.3Q121.7 790.6 121.6 806.6L121.5 856.2Q121.4 872.2 105.4 871.9L50.2 871Q34.2 870.8 34.3 854.8ZM133.1 807.7Q135.4 791.8 150.9 795.7L203.9 808.8Q219.4 812.6 217.1 828.4L210.3 874Q207.9 889.8 192.2 886.5L139.5 875.6Q123.8 872.3 126.1 856.5ZM236.1 838Q243.1 823.6 256.1 832.8L315.5 874.9Q328.6 884.1 320.5 897.9L303.9 926.1Q295.8 939.9 281.9 931.9L224.2 898.7Q210.3 890.7 217.3 876.3ZM323.4 900.1Q331.7 886.4 346.5 892.4L408.9 917.8Q423.7 923.8 417 938.4L396.9 981.8Q390.2 996.4 376.4 988.2L311.9 949.9Q298.2 941.8 306.5 928.1ZM402 934.7Q404.3 918.9 420.1 921.9L479.8 933.2Q495.5 936.2 493.2 952.1L486.1 1000.4Q483.8 1016.2 468.1 1013L408.2 1000.4Q392.6 997.1 395 981.3ZM488.3 951.3Q488.8 935.3 504.8 935.7L566 937.2Q582 937.6 581.5 953.6L579.9 1003.5Q579.4 1019.5 563.4 1019L502.2 1017.1Q486.2 1016.6 486.7 1000.6ZM566.1 955Q562.3 939.5 577.9 935.8L640.8 921.2Q656.3 917.5 660.4 933L671.8 976.5Q675.8 992 660.4 996.4L597.1 1014.8Q581.8 1019.2 578 1003.7ZM663.7 931.7Q659.9 916.2 675 910.8L739.3 887.8Q754.4 882.4 758.5 897.9L768.6 935.6Q772.7 951 758 957.3L692.9 984.9Q678.2 991.2 674.4 975.6ZM749.5 903Q741.8 889 755.3 880.3L816.1 841.2Q829.6 832.6 836.8 846.8L855.6 883.8Q862.9 898.1 849 906.2L788.9 941.2Q775.1 949.3 767.4 935.3ZM855.1 836.8Q852.4 821 867.8 816.7L922 801.5Q937.4 797.1 939.9 812.9L947.7 861.4Q950.2 877.2 934.6 880.8L880.8 893.5Q865.3 897.1 862.6 881.4ZM952 811.4Q951.9 795.4 967.9 795L1018.7 793.7Q1034.7 793.3 1034.9 809.3L1035.3 858.9Q1035.4 874.9 1019.4 875.3L968.6 876.5Q952.6 876.9 952.5 860.9ZM1042 809.3Q1043 793.4 1059 795.1L1110 800.6Q1125.9 802.4 1124.8 818.3L1121.7 866.9Q1120.7 882.9 1104.7 881.3L1053.8 876.4Q1037.8 874.9 1038.9 858.9ZM1140.4 822.6Q1144.8 807.2 1159.5 813.5L1218.8 839.1Q1233.5 845.5 1228.8 860.8L1216.5 900.9Q1211.8 916.2 1196.8 910.7L1138.1 888.9Q1123.1 883.4 1127.5 868ZM1237.3 865.3Q1243.8 850.7 1258.1 857.9L1321.6 889.6Q1335.9 896.8 1329.5 911.5L1312.7 949.8Q1306.3 964.5 1292 957.2L1228.5 924.7Q1214.2 917.4 1220.7 902.8ZM1327.8 910.7Q1333.1 895.6 1348 901.3L1404 923Q1418.9 928.7 1413.9 943.9L1399.5 987.5Q1394.5 1002.7 1379.8 996.3L1323.4 972Q1308.7 965.7 1313.9 950.6ZM1402 940.2Q1403.3 924.2 1419.2 926.5L1473.3 934.1Q1489.2 936.3 1487.9 952.3L1484 1001.5Q1482.7 1017.5 1466.9 1014.9L1412.6 1006.1Q1396.9 1003.5 1398.2 987.6ZM1481.8 951.7Q1481 935.7 1497 935.2L1558.6 933Q1574.6 932.4 1575.4 948.4L1577.8 997.5Q1578.6 1013.5 1562.7 1014.2L1501.1 1016.9Q1485.1 1017.6 1484.3 1001.7ZM1561.4 949.8Q1556.7 934.5 1572.2 930.4L1625.7 916Q1641.1 911.9 1646.4 927L1660.1 966.3Q1665.4 981.4 1650.5 987L1596 1007.5Q1581 1013.2 1576.3 997.9ZM1644.2 928.2Q1637.6 913.6 1651.9 906.3L1714.4 874.2Q1728.6 866.9 1735.4 881.5L1752.1 917.5Q1758.8 932 1744.7 939.5L1682 972.7Q1667.8 980.2 1661.2 965.6ZM1741 878.3Q1735.3 863.3 1749.6 856.1L1811.9 824.9Q1826.2 817.7 1831.6 832.7L1846.7 874.8Q1852.1 889.9 1837.5 896.4L1775.8 924.2Q1761.2 930.7 1755.5 915.8ZM1847.1 826.5Q1845.3 810.6 1861 807.5L1923.4 795.4Q1939.1 792.4 1940.9 808.3L1946.5 857.8Q1948.4 873.7 1932.6 876.3L1870.3 886.5Q1854.5 889.1 1852.6 873.2ZM1951.8 808Q1952 792 1968 792.4L2019.6 793.5Q2035.6 793.8 2035.4 809.8L2034.6 859.4Q2034.4 875.4 2018.4 875L1966.8 874Q1950.8 873.6 1951 857.6ZM2043.1 810.2Q2044.7 794.3 2060.4 797.3L2121.9 808.9Q2137.6 811.9 2136 827.8L2131.3 874.6Q2129.7 890.5 2113.9 888L2052.6 878Q2036.8 875.5 2038.3 859.5ZM2157.6 838.8Q2164.5 824.4 2178.3 832.6L2240 869.6Q2253.8 877.8 2246.4 892L2228.7 926Q2221.3 940.2 2207.3 932.5L2146.2 899.1Q2132.1 891.4 2139.1 877ZM2242.6 889.9Q2248 874.8 2262.8 881L2317.4 904Q2332.2 910.2 2327 925.3L2313 966.6Q2307.9 981.7 2293.5 974.9L2238.2 948.6Q2223.7 941.7 2229.2 926.7ZM2326.4 925Q2330.6 909.5 2346 914.1L2399.2 929.9Q2414.6 934.4 2410.5 949.9L2398.3 996.2Q2394.2 1011.6 2379.1 1006.4L2325.4 987.9Q2310.3 982.7 2314.6 967.3ZM2403.6 948.4Q2405.3 932.5 2421.2 934.4L2474.5 940.7Q2490.3 942.6 2488.7 958.5L2483.3 1008.4Q2481.6 1024.3 2465.8 1022L2412.5 1014.4Q2396.6 1012.2 2398.4 996.3ZM2478.2 958.5Q2476.8 942.6 2492.7 940.8L2552.6 934.2Q2568.5 932.4 2569.9 948.3L2574.3 996.1Q2575.7 1012.1 2559.9 1014.2L2499.9 1022.2Q2484 1024.3 2482.6 1008.3ZM2559.8 950.7Q2555.2 935.4 2570.4 930.2L2624.8 911.8Q2640 906.6 2644.9 921.8L2657.9 961.5Q2662.9 976.7 2648.1 982.7L2593 1005.3Q2578.1 1011.4 2573.5 996.1ZM2643.1 922.8Q2636.9 908 2651.2 900.8L2708.3 871.8Q2722.5 864.5 2728.7 879.3L2744.8 918Q2750.9 932.8 2736.6 939.9L2679.6 968.3Q2665.3 975.4 2659.1 960.7ZM2734.5 876.4Q2729.4 861.3 2744 854.8L2803.9 828.6Q2818.6 822.2 2823.5 837.4L2837.6 880.5Q2842.5 895.7 2827.7 901.7L2768.1 925.7Q2753.3 931.7 2748.1 916.6ZM2838 832Q2836.2 816.1 2852 813.4L2956.4 795.7Q2972.1 793 2973.8 808.9L2979.1 858.4Q2980.8 874.3 2965 876.7L2860.7 892.6Q2844.9 895 2843.2 879.1ZM34.3 719.2Q34.3 703.2 50.3 703.2L87.9 703.3Q103.9 703.3 103.9 719.3L103.8 771.2Q103.8 787.2 87.8 787.1L50.2 786.9Q34.2 786.8 34.2 770.8ZM113.6 719.3Q115.3 703.4 131.3 704L189.2 706.2Q205.2 706.8 203.5 722.7L196.6 785.6Q194.8 801.5 179 799L122 789.8Q106.2 787.3 107.9 771.4ZM226 724Q231.5 708.9 247.3 711.1L315.1 720.4Q330.9 722.5 325.3 737.5L289.6 832Q284 846.9 269.7 839.6L211.5 809.6Q197.2 802.2 202.8 787.2ZM316.6 811.2Q326.6 798.7 341.3 805.1L402.2 831.8Q416.9 838.2 408.9 852L384.6 893.8Q376.6 907.6 363.2 898.9L299.8 857.4Q286.4 848.7 296.4 836.2ZM390.1 847.4Q392.9 831.6 408.6 835L460.6 846.2Q476.2 849.5 473.4 865.3L465 913.2Q462.2 929 446.7 925.2L394.5 912.4Q379 908.5 381.8 892.8ZM469.1 864.6Q470.1 848.6 486.1 849.8L545.7 854.3Q561.6 855.5 560.6 871.5L557.2 921.4Q556.1 937.4 540.2 936L480.6 930.8Q464.6 929.4 465.7 913.4ZM550.8 871.8Q548.9 855.9 564.7 853.4L616.7 845.1Q632.5 842.6 634.5 858.5L640.2 904.7Q642.2 920.6 626.5 923.7L574.2 934.1Q558.5 937.3 556.7 921.4ZM630.1 860.3Q626.4 844.8 641.5 839.5L701.9 818.7Q717 813.5 720.7 829L731.5 873.6Q735.2 889.2 720 894.3L659.7 914.6Q644.6 919.7 640.8 904.1ZM704.6 833.4Q696.3 819.7 710.8 812.8L768 785.2Q782.5 778.3 792 791.1L814.1 820.6Q823.7 833.4 810.2 842L751.1 879.7Q737.6 888.3 729.3 874.6ZM798.6 731.6Q794.4 716.2 810.3 714.6L873.5 708.4Q889.4 706.8 893.5 722.2L909.9 783.2Q914.1 798.7 899.1 804.4L841.1 826.4Q826.1 832.1 821.9 816.6ZM912.8 721.6Q912 705.7 928 705.4L990.6 704.3Q1006.6 704 1007.4 720L1010 774.8Q1010.7 790.8 994.8 792.1L932.4 797Q916.5 798.2 915.7 782.2ZM1015.4 720Q1015.9 704 1031.9 704.2L1094.2 705Q1110.2 705.2 1109.7 721.2L1107.8 780.4Q1107.3 796.4 1091.4 795.4L1029.1 791.8Q1013.1 790.8 1013.6 774.8ZM1126.5 721.6Q1129.9 706 1145.9 707.3L1201.2 711.6Q1217.2 712.8 1213.7 728.4L1195.9 807.3Q1192.3 823 1177.1 818.1L1125 801.6Q1109.7 796.8 1113.2 781.2ZM1217.4 771.3Q1223.7 756.6 1238 763.8L1298.1 794.6Q1312.4 801.9 1306 816.6L1289.7 854.1Q1283.4 868.8 1269.1 861.6L1209 831.3Q1194.7 824.1 1201.1 809.4ZM1306.2 816.6Q1311.9 801.7 1326.6 808L1379.9 830.8Q1394.6 837.1 1389 852.1L1373.9 893.3Q1368.4 908.3 1353.9 901.6L1300.3 876.8Q1285.8 870 1291.5 855.1ZM1382.9 849.5Q1386 833.8 1401.7 836.9L1457.7 848Q1473.4 851.1 1470.4 866.8L1461.2 915.7Q1458.2 931.5 1442.7 927.5L1386.3 913.2Q1370.8 909.3 1374 893.6ZM1462.7 866.3Q1463.3 850.3 1479.3 850.5L1533.5 851.1Q1549.5 851.3 1549 867.3L1547.4 917.2Q1546.9 933.2 1530.9 932.9L1476.6 931.9Q1460.6 931.7 1461.1 915.7ZM1540.2 868.3Q1538 852.4 1553.7 849.3L1611.2 837.7Q1626.9 834.6 1629.3 850.4L1635.9 895.1Q1638.2 910.9 1622.7 914.7L1564.8 929.1Q1549.3 932.9 1547 917.1ZM1617.6 855.5Q1611.4 840.8 1625.8 833.8L1688.2 803.7Q1702.6 796.8 1709.1 811.4L1725.3 848.2Q1731.8 862.8 1717.6 870.1L1654.8 902.4Q1640.6 909.7 1634.4 895ZM1710.8 810.5Q1704.1 796 1718.2 788.4L1776.5 757.2Q1790.6 749.6 1797.1 764.2L1814.2 802.8Q1820.7 817.5 1806.5 824.7L1748.5 854.3Q1734.2 861.5 1727.5 847ZM1805.5 726.6Q1802.5 710.9 1818.4 709.9L1881.6 705.8Q1897.5 704.7 1900.6 720.4L1911.4 776.2Q1914.4 791.9 1899 796.1L1838.6 812.3Q1823.1 816.5 1820.1 800.8ZM1917 720.2Q1917 704.2 1933 704.1L1993.6 704Q2009.6 703.9 2009.6 719.9L2009.5 774.4Q2009.4 790.4 1993.4 790.6L1932.8 791.4Q1916.8 791.6 1916.9 775.6ZM2015.6 719.9Q2016.5 704 2032.5 704.3L2092.2 705.5Q2108.2 705.9 2107.4 721.8L2104.1 783Q2103.2 798.9 2087.3 797.5L2027.8 792Q2011.8 790.5 2012.7 774.5ZM2130.9 722.8Q2135.9 707.6 2151.8 709.4L2219.2 717Q2235.1 718.8 2230 734L2199.6 824.1Q2194.5 839.2 2179.9 832.7L2120.3 806Q2105.6 799.5 2110.7 784.3ZM2222.1 794Q2229.7 779.9 2244.3 786.6L2307.4 815.3Q2322 822 2315.1 836.4L2296.1 875.8Q2289.2 890.2 2275.1 882.7L2211 848.3Q2196.9 840.7 2204.5 826.6ZM2309.5 834.1Q2314.3 818.8 2329.5 823.7L2392.4 844.1Q2407.6 849 2403.1 864.4L2389.5 910Q2384.9 925.4 2369.9 919.9L2306.6 896.7Q2291.6 891.2 2296.4 875.9ZM2395 862.5Q2396.9 846.7 2412.8 848.9L2466.4 856.4Q2482.3 858.7 2480.4 874.6L2474.5 924.1Q2472.7 940 2456.9 937.4L2403.1 928.6Q2387.3 926 2389.2 910.1ZM2470.5 874.2Q2469.4 858.2 2485.4 856.9L2540.4 852.5Q2556.3 851.2 2557.5 867.1L2560.9 915.6Q2562 931.5 2546.1 933.1L2491 938.5Q2475.1 940.1 2474 924.1ZM2547.4 869.1Q2543.1 853.6 2558.4 848.9L2617.1 830.8Q2632.4 826 2637 841.4L2649.1 882.1Q2653.7 897.5 2638.7 903.1L2579.4 925.4Q2564.4 931 2560.1 915.6ZM2633.5 843Q2627.3 828.3 2641.6 821.1L2703.7 789.9Q2718 782.7 2724.3 797.4L2740.6 835.9Q2746.9 850.7 2732.6 857.9L2670.4 889Q2656.1 896.2 2649.8 881.5ZM2714.3 734.8Q2709.7 719.5 2725.6 718.1L2794.8 711.8Q2810.7 710.4 2815.3 725.7L2836.8 796.7Q2841.4 812 2826.6 818.1L2764.1 843.5Q2749.3 849.6 2744.6 834.3ZM2834.5 724.7Q2832.8 708.8 2848.8 708.2L2955.5 704.5Q2971.5 704 2973.2 719.9L2979.1 774.4Q2980.8 790.3 2965 792.7L2859.6 808.9Q2843.8 811.3 2842.1 795.4ZM288.9 731Q297.1 717.2 313 718.9L400.2 728.1Q416.1 729.8 408.2 743.7L373.3 805Q365.4 818.9 352.2 809.8L287.2 765Q274.1 755.9 282.3 742.1ZM381.6 743.7Q384.4 727.9 400.4 728.6L466.3 731.5Q482.3 732.2 479.4 748L464.9 829.2Q462.1 845 446.6 840.9L383.3 824.1Q367.8 820 370.6 804.2ZM469.1 780.6Q470.2 764.6 486.2 765.9L542.6 770.4Q558.6 771.7 557.5 787.6L554 837.5Q552.9 853.4 536.9 852L480.4 846.8Q464.5 845.4 465.6 829.4ZM543 749.2Q541.1 733.3 557.1 732.9L616.8 731.1Q632.8 730.7 634.7 746.6L643.4 819.5Q645.3 835.4 629.6 838.5L571 850.3Q555.3 853.4 553.4 837.5ZM627.8 746.9Q624.3 731.2 640.2 730.1L697.7 726.2Q713.7 725.1 717.2 740.7L728.5 790.7Q732 806.3 716.9 811.4L662.8 829.4Q647.7 834.5 644.1 818.9ZM700.2 740.5Q692.7 726.3 708.6 724.7L785.2 716.9Q801.2 715.3 808.8 729.3L813 737.1Q820.7 751.1 807.1 759.7L748 796.9Q734.4 805.4 727 791.3ZM1188.3 721.5Q1192.3 710.4 1208.2 712L1279.7 719.3Q1295.7 720.9 1290.2 735.9L1279.6 764.9Q1274.1 780 1259.8 772.9L1197.7 742.1Q1183.4 735 1187.4 723.9ZM1291.9 736.2Q1297 721 1313 722.4L1380.2 728.3Q1396.1 729.7 1391 744.9L1369.8 807.6Q1364.7 822.8 1350.2 815.9L1291 788Q1276.5 781.2 1281.7 766.1ZM1382.4 744.6Q1385.4 728.9 1401.4 729.5L1466.4 731.9Q1482.4 732.5 1479.4 748.2L1463.4 831.9Q1460.4 847.6 1444.9 843.7L1382.6 827.7Q1367.1 823.8 1370.1 808.1ZM1464 782.4Q1464.3 766.4 1480.3 766.4L1542.1 766.4Q1558.1 766.4 1557.8 782.4L1556.9 832.1Q1556.7 848.1 1540.7 848.1L1478.8 847.9Q1462.8 847.9 1463.1 831.9ZM1538.7 748.4Q1535.5 732.7 1551.5 732L1616.4 729.3Q1632.4 728.6 1635.7 744.2L1648.2 804.7Q1651.5 820.4 1636.2 824.9L1574.4 843.3Q1559.1 847.9 1555.8 832.2ZM1625.9 744.6Q1620.3 729.6 1636.2 728.1L1703.1 721.4Q1719.1 719.8 1724.7 734.7L1734.1 759.5Q1739.7 774.5 1725.5 781.9L1668.1 811.8Q1653.9 819.2 1648.3 804.2ZM1727.6 734.4Q1722 719.5 1737.9 717.8L1803.4 711.1Q1819.3 709.4 1822.9 719.1L1823.7 721.2Q1827.2 730.8 1812.9 738L1756.4 766.1Q1742.1 773.2 1736.5 758.2ZM2210.1 731.2Q2216.3 716.4 2232.3 718L2304.4 724.9Q2320.4 726.4 2314.2 741.2L2293.6 790.8Q2287.5 805.6 2273.4 798L2212.9 765.4Q2198.8 757.9 2205 743.1ZM2309 741.2Q2313.5 725.8 2329.4 726.9L2390.3 730.9Q2406.2 731.9 2401.8 747.3L2379.7 823.4Q2375.3 838.8 2360.3 833.1L2304.9 812.2Q2289.9 806.5 2294.4 791.2ZM2389.9 747.1Q2392 731.3 2408 731.8L2460.6 733.4Q2476.6 733.9 2474.5 749.7L2462.7 839.2Q2460.6 855.1 2444.9 852.1L2393.4 842.4Q2377.7 839.5 2379.8 823.6ZM2459.7 789.3Q2458.9 773.3 2474.9 772.5L2530.9 769.8Q2546.9 769 2547.7 784.9L2550.2 833.8Q2551 849.8 2535 850.8L2478.9 854.3Q2463 855.3 2462.2 839.3ZM2529 748.9Q2525.2 733.4 2541.2 732.6L2601.6 729.4Q2617.6 728.6 2621.4 744.1L2636.3 804.6Q2640.1 820.1 2625 825.3L2568.6 844.2Q2553.4 849.4 2549.6 833.8ZM2614.2 744.3Q2608.5 729.3 2624.4 727.8L2687.6 721.7Q2703.5 720.1 2709.2 735.1L2719.4 761.9Q2725.1 776.9 2710.9 784.1L2656.8 811.7Q2642.5 819 2636.8 804ZM2714.3 734.8Q2709.4 719.5 2725.3 718.1L2786.8 712.5Q2802.8 711 2806.7 723.4L2807.6 726.1Q2811.6 738.5 2797 744.9L2742.2 769.2Q2727.5 775.7 2722.6 760.5ZM471.5 745.6Q472.4 732 488.4 732.2L542.6 733Q558.6 733.3 557.6 749.3L557.4 753.4Q556.4 769.4 540.4 768L486.4 763.6Q470.5 762.3 471.3 748.6ZM1474.3 747Q1474 732.4 1490 732.3L1550.4 732.1Q1566.4 732 1566.6 746L1566.7 749.1Q1566.9 763 1550.9 763.3L1490.6 764.5Q1474.6 764.8 1474.3 750.2ZM2397.6 744.4Q2399 731.6 2414.9 732L2467.2 733.5Q2483.2 733.9 2481.5 749.8L2480.8 756.3Q2479 772.2 2463.2 769.9L2411.7 762.3Q2395.8 760 2397.2 747.2ZM2479.6 749.8Q2478.3 733.9 2494.3 733.5L2551.3 732.3Q2567.3 731.9 2568.4 745.3L2568.6 748.3Q2569.7 761.7 2553.8 763.6L2497.3 770.4Q2481.4 772.3 2480.1 756.3Z" fill="#fbf1f6" stroke="#e6dde8" stroke-width="2.5"/>
<g fill="#f5e9f1"><ellipse cx="69.4" cy="536.8" rx="13.7" ry="7"/><ellipse cx="149.5" cy="536.7" rx="18" ry="7"/><ellipse cx="239.7" cy="538.2" rx="17.9" ry="7"/><ellipse cx="329.9" cy="538.2" rx="17.1" ry="7"/><ellipse cx="421.6" cy="537.4" rx="18" ry="7"/><ellipse cx="520.8" cy="538.8" rx="18" ry="7"/><ellipse cx="613.1" cy="536.7" rx="17.7" ry="7"/><ellipse cx="702.3" cy="537.1" rx="18" ry="7"/><ellipse cx="794.2" cy="539.8" rx="17.2" ry="7"/><ellipse cx="884.4" cy="539.1" rx="17.3" ry="7"/><ellipse cx="973.9" cy="536.8" rx="17.7" ry="7"/><ellipse cx="1061.1" cy="539.2" rx="17" ry="7"/><ellipse cx="1151.1" cy="538.8" rx="17.8" ry="7"/><ellipse cx="1242.5" cy="539.7" rx="17.8" ry="7"/><ellipse cx="1334.9" cy="538.8" rx="18" ry="7"/><ellipse cx="1431.8" cy="539.4" rx="18" ry="7"/><ellipse cx="1523.5" cy="537" rx="17.5" ry="7"/><ellipse cx="1612.7" cy="537.1" rx="17.8" ry="7"/><ellipse cx="1699.9" cy="539.2" rx="17.9" ry="7"/><ellipse cx="1796.4" cy="540" rx="18" ry="7"/><ellipse cx="1889.5" cy="538.9" rx="17.5" ry="7"/><ellipse cx="1979.5" cy="539.9" rx="18" ry="7"/><ellipse cx="2074.3" cy="539.2" rx="18" ry="7"/><ellipse cx="2167.7" cy="539.1" rx="17" ry="7"/><ellipse cx="2260.6" cy="537.6" rx="18" ry="7"/><ellipse cx="2353.6" cy="536.6" rx="17.7" ry="7"/><ellipse cx="2441.9" cy="537" rx="17.8" ry="7"/><ellipse cx="2535.1" cy="537" rx="17" ry="7"/><ellipse cx="2621.3" cy="540" rx="17.4" ry="7"/><ellipse cx="2710.3" cy="538.7" rx="17.1" ry="7"/><ellipse cx="2804.4" cy="540" rx="18" ry="7"/><ellipse cx="2915.7" cy="537.9" rx="18" ry="7"/><ellipse cx="78.3" cy="585" rx="18" ry="13.8"/><ellipse cx="170.9" cy="586.2" rx="17.4" ry="13.8"/><ellipse cx="262.2" cy="584.3" rx="18" ry="13.8"/><ellipse cx="354.9" cy="586.5" rx="17.8" ry="13.8"/><ellipse cx="450.6" cy="586.3" rx="18" ry="13.8"/><ellipse cx="545.4" cy="584.5" rx="18" ry="13.8"/><ellipse cx="640.6" cy="587.7" rx="18" ry="13.8"/><ellipse cx="733.8" cy="585.8" rx="18" ry="13.8"/><ellipse cx="826.7" cy="584.5" rx="17.1" ry="13.8"/><ellipse cx="912" cy="584.9" rx="17.1" ry="13.8"/><ellipse cx="1000.1" cy="584.3" rx="17.6" ry="13.8"/><ellipse cx="1089.9" cy="585.7" rx="17.2" ry="13.8"/><ellipse cx="1182.4" cy="586.7" rx="17" ry="13.8"/><ellipse cx="1266.5" cy="585.6" rx="17.2" ry="13.8"/><ellipse cx="1355.3" cy="587.6" rx="17.6" ry="13.8"/><ellipse cx="1451.2" cy="586.2" rx="18" ry="13.8"/><ellipse cx="1541.4" cy="585.6" rx="17.1" ry="13.8"/><ellipse cx="1634.5" cy="584.9" rx="17.4" ry="13.8"/><ellipse cx="1723.7" cy="586.4" rx="17" ry="13.8"/><ellipse cx="1809.1" cy="584.4" rx="17.2" ry="13.8"/><ellipse cx="1902.1" cy="587.7" rx="18" ry="13.8"/><ellipse cx="1990.9" cy="585.7" rx="18" ry="13.8"/><ellipse cx="2085.3" cy="586.4" rx="17.3" ry="13.8"/><ellipse cx="2174.3" cy="585.1" rx="18" ry="13.8"/><ellipse cx="2273.2" cy="587.7" rx="18" ry="13.8"/><ellipse cx="2367.3" cy="587.2" rx="18" ry="13.8"/><ellipse cx="2457.7" cy="585.7" rx="17.4" ry="13.8"/><ellipse cx="2543" cy="585.4" rx="17" ry="13.8"/><ellipse cx="2635.4" cy="588.1" rx="17.4" ry="13.8"/><ellipse cx="2727.4" cy="588.2" rx="17.8" ry="13.8"/><ellipse cx="2818" cy="585.1" rx="18" ry="13.8"/><ellipse cx="2922.7" cy="585.1" rx="18" ry="13.8"/><ellipse cx="80.5" cy="659.7" rx="17.7" ry="17"/><ellipse cx="172.5" cy="659.3" rx="18" ry="17"/><ellipse cx="266.7" cy="666" rx="18" ry="17"/><ellipse cx="358.2" cy="669.1" rx="18" ry="17"/><ellipse cx="452" cy="674.8" rx="18" ry="17"/><ellipse cx="548.2" cy="674.1" rx="18" ry="17"/><ellipse cx="646.7" cy="671.5" rx="18" ry="17"/><ellipse cx="735.7" cy="670.8" rx="17.2" ry="17"/><ellipse cx="827.3" cy="665.8" rx="18" ry="17"/><ellipse cx="926.3" cy="660.5" rx="18" ry="17"/><ellipse cx="1017.8" cy="658.3" rx="18" ry="17"/><ellipse cx="1115.5" cy="661.3" rx="18" ry="17"/><ellipse cx="1210.7" cy="665.9" rx="18" ry="17"/><ellipse cx="1305.2" cy="668" rx="18" ry="17"/><ellipse cx="1398" cy="673.1" rx="17.5" ry="17"/><ellipse cx="1488.8" cy="672.8" rx="17.4" ry="17"/><ellipse cx="1581.3" cy="673.4" rx="18" ry="17"/><ellipse cx="1679" cy="669.9" rx="18" ry="17"/><ellipse cx="1771.1" cy="665.5" rx="18" ry="17"/><ellipse cx="1862.4" cy="661.3" rx="18" ry="17"/><ellipse cx="1952.9" cy="661.4" rx="17.3" ry="17"/><ellipse cx="2044.5" cy="661.3" rx="17.3" ry="17"/><ellipse cx="2134.2" cy="662.5" rx="18" ry="17"/><ellipse cx="2229.5" cy="665.3" rx="18" ry="17"/><ellipse cx="2318.9" cy="670.4" rx="18" ry="17"/><ellipse cx="2414.1" cy="674.3" rx="18" ry="17"/><ellipse cx="2511.2" cy="674.5" rx="18" ry="17"/><ellipse cx="2602.6" cy="672.8" rx="18" ry="17"/><ellipse cx="2695.8" cy="668.8" rx="18" ry="17"/><ellipse cx="2791.6" cy="665.2" rx="17.9" ry="17"/><ellipse cx="2911.1" cy="660.3" rx="18" ry="17"/><ellipse cx="80" cy="829.2" rx="17.4" ry="17"/><ellipse cx="171.3" cy="839.9" rx="16.8" ry="17"/><ellipse cx="266.9" cy="885.2" rx="17.1" ry="15.4"/><ellipse cx="363.3" cy="935.7" rx="18" ry="12.7"/><ellipse cx="445" cy="965.7" rx="18" ry="17"/><ellipse cx="536.9" cy="976.1" rx="18" ry="17"/><ellipse cx="618.4" cy="967" rx="18" ry="17"/><ellipse cx="718.3" cy="933.8" rx="18" ry="17"/><ellipse cx="802.4" cy="891.6" rx="17.6" ry="13.9"/><ellipse cx="900.2" cy="849" rx="17" ry="17"/><ellipse cx="994" cy="834.9" rx="16.6" ry="17"/><ellipse cx="1080.8" cy="838.9" rx="16.6" ry="17"/><ellipse cx="1175.7" cy="865" rx="17.7" ry="17"/><ellipse cx="1277.9" cy="905.8" rx="18" ry="15.3"/><ellipse cx="1361" cy="949.3" rx="17.2" ry="16.1"/><ellipse cx="1440.8" cy="970.1" rx="17.2" ry="17"/><ellipse cx="1531.7" cy="973.9" rx="18" ry="17"/><ellipse cx="1613.6" cy="960.5" rx="16.9" ry="17"/><ellipse cx="1695.8" cy="921.4" rx="18" ry="15.3"/><ellipse cx="1793.2" cy="873.7" rx="18" ry="15.5"/><ellipse cx="1897.6" cy="842.6" rx="18" ry="17"/><ellipse cx="1995.3" cy="832" rx="16.7" ry="17"/><ellipse cx="2086.9" cy="842.4" rx="18" ry="17"/><ellipse cx="2195.5" cy="882.5" rx="17.8" ry="15.4"/><ellipse cx="2278.1" cy="926.1" rx="16.8" ry="15.4"/><ellipse cx="2360.4" cy="957.8" rx="16.8" ry="16.8"/><ellipse cx="2442.4" cy="977.1" rx="17" ry="17"/><ellipse cx="2525" cy="977.8" rx="18" ry="17"/><ellipse cx="2608.1" cy="955.6" rx="16.9" ry="17"/><ellipse cx="2691" cy="921.1" rx="17.1" ry="15.5"/><ellipse cx="2784.1" cy="877.6" rx="17.8" ry="16.2"/><ellipse cx="2906.2" cy="845.9" rx="18" ry="17"/><ellipse cx="71" cy="744.7" rx="13.9" ry="17"/><ellipse cx="156.5" cy="751.7" rx="18" ry="17"/><ellipse cx="262.9" cy="771" rx="18" ry="17"/><ellipse cx="351" cy="847.7" rx="18" ry="11.5"/><ellipse cx="425.4" cy="878" rx="16.7" ry="17"/><ellipse cx="511.7" cy="891.4" rx="18" ry="17"/><ellipse cx="597.6" cy="890.6" rx="16.7" ry="17"/><ellipse cx="679.5" cy="865.7" rx="18" ry="17"/><ellipse cx="759.8" cy="828.6" rx="17.2" ry="15.8"/><ellipse cx="854.6" cy="765.3" rx="18" ry="17"/><ellipse cx="961.7" cy="748.7" rx="18" ry="17"/><ellipse cx="1060.5" cy="748.5" rx="18" ry="17"/><ellipse cx="1161.6" cy="759.5" rx="17.4" ry="17"/><ellipse cx="1251.8" cy="812.8" rx="17.7" ry="15.5"/><ellipse cx="1338.7" cy="852.6" rx="16.5" ry="15.7"/><ellipse cx="1419.4" cy="879.5" rx="17.5" ry="17"/><ellipse cx="1503.5" cy="891.9" rx="17.3" ry="17"/><ellipse cx="1589.6" cy="883.3" rx="17.8" ry="17"/><ellipse cx="1673.9" cy="852.1" rx="18" ry="15.9"/><ellipse cx="1765.3" cy="804.7" rx="17.3" ry="15.1"/><ellipse cx="1860.3" cy="754.2" rx="18" ry="17"/><ellipse cx="1965.6" cy="748" rx="18" ry="17"/><ellipse cx="2061.8" cy="748.4" rx="18" ry="17"/><ellipse cx="2167.8" cy="767.6" rx="18" ry="17"/><ellipse cx="2261.4" cy="833.5" rx="18" ry="14"/><ellipse cx="2350.7" cy="871.9" rx="18" ry="16.7"/><ellipse cx="2432" cy="891.4" rx="17.1" ry="17"/><ellipse cx="2513.3" cy="896.6" rx="17.4" ry="17"/><ellipse cx="2599.2" cy="877.5" rx="17.9" ry="17"/><ellipse cx="2687" cy="837.5" rx="18" ry="15.6"/><ellipse cx="2779.3" cy="772.9" rx="18" ry="17"/><ellipse cx="2908.2" cy="751.9" rx="18" ry="17"/><ellipse cx="336.4" cy="756.4" rx="18" ry="8.9"/><ellipse cx="424.1" cy="780.8" rx="18" ry="17"/><ellipse cx="512.6" cy="809.8" rx="17.7" ry="17"/><ellipse cx="594.5" cy="786.5" rx="18" ry="17"/><ellipse cx="677.9" cy="775.2" rx="17.9" ry="17"/><ellipse cx="762.7" cy="747.6" rx="18" ry="17"/><ellipse cx="1235.1" cy="736.6" rx="18" ry="5.6"/><ellipse cx="1333.4" cy="762.1" rx="18" ry="13.8"/><ellipse cx="1422" cy="785.1" rx="18" ry="17"/><ellipse cx="1507.6" cy="807" rx="18" ry="17"/><ellipse cx="1597.4" cy="782.2" rx="18" ry="17"/><ellipse cx="1681.5" cy="762.6" rx="18" ry="17"/><ellipse cx="1778.2" cy="731.8" rx="18" ry="12.4"/><ellipse cx="2258.1" cy="752.4" rx="18" ry="9.5"/><ellipse cx="2348.6" cy="775.7" rx="18" ry="17"/><ellipse cx="2423.7" cy="789.9" rx="16.9" ry="17"/><ellipse cx="2503.8" cy="810.4" rx="17.6" ry="17"/><ellipse cx="2583" cy="784.2" rx="18" ry="17"/><ellipse cx="2671.4" cy="762.7" rx="18" ry="17"/><ellipse cx="2765.4" cy="737" rx="18" ry="12.9"/><ellipse cx="511.7" cy="747.6" rx="17.3" ry="7"/><ellipse cx="1521.3" cy="749.7" rx="18" ry="7.5"/><ellipse cx="2441.8" cy="747.9" rx="16.9" ry="6.5"/><ellipse cx="2523.2" cy="749.1" rx="17.8" ry="8.8"/></g>
<path d="M34.5 884.6Q34.5 867.6 51.5 868L114.1 869.4Q131.1 869.8 129.5 886.7L123.6 945.8Q122 962.7 105 962.4L51.5 961.3Q34.5 961 34.5 944ZM133.1 892.1Q135 875.2 151.2 880.5L241.9 910.2Q258.1 915.5 249.3 930L221 976.5Q212.2 991 196 985.8L141.2 968.2Q125 963 126.9 946.1ZM252.3 932.3Q261.3 917.9 274.9 928.1L319.4 961.2Q333.1 971.3 323.6 985.4L293.4 1030.2Q283.9 1044.3 270.3 1034.1L228.4 1002.8Q214.8 992.6 223.7 978.2ZM327.5 983.7Q336.8 969.6 352.3 976.7L379.2 989.1Q394.7 996.2 389.8 1012.5L373.3 1067.7Q368.4 1084 353 1076.8L301.8 1053.1Q286.3 1046 295.7 1031.8ZM390.6 1018Q395.3 1001.7 411.9 1005.3L451.6 1014Q468.2 1017.6 465.6 1034.4L457.7 1086.4Q455.1 1103.2 438.5 1099.5L387.9 1088.5Q371.3 1084.8 376 1068.5ZM469.1 1030.8Q471.7 1014 488.6 1015.6L530.7 1019.5Q547.6 1021 547.6 1038L547.6 1094.7Q547.5 1111.7 530.6 1110.2L475 1105.1Q458.1 1103.6 460.6 1086.8ZM549.7 1040.9Q549.5 1023.9 566.4 1021.9L599.1 1017.9Q616 1015.8 620.3 1032.3L633.8 1084.4Q638.1 1100.8 621.2 1102.9L567.4 1109.6Q550.5 1111.7 550.3 1094.7ZM623 1033.3Q618.6 1016.9 634.6 1011.3L686 993.4Q702 987.8 706.9 1004.1L721.9 1054Q726.8 1070.2 710.8 1075.8L657 1094.5Q641 1100.1 636.5 1083.6ZM708.9 999.7Q704.1 983.4 719.9 977.1L742.7 968Q758.5 961.7 768.2 975.6L800 1021.3Q809.7 1035.3 794 1042L745.4 1062.7Q729.7 1069.4 724.9 1053.1ZM769.3 973Q759.5 959.1 774 950.2L841.7 908.7Q856.2 899.8 863 915.4L885.7 967.8Q892.5 983.4 878.1 992.4L826.5 1024.6Q812.1 1033.6 802.3 1019.7ZM867.8 914.8Q861.4 899 878.1 895.9L969.1 878.6Q985.8 875.5 986.2 892.5L987.4 948.2Q987.8 965.2 971.1 968.3L912 979.1Q895.3 982.2 888.9 966.4ZM989.7 894.2Q989.4 877.2 1006.4 877.7L1072.1 879.5Q1089.1 880 1087 896.9L1080.4 950.5Q1078.3 967.3 1061.4 966.9L1007.8 965.6Q990.8 965.2 990.5 948.2ZM1090.9 893.7Q1093.1 876.8 1109.3 882L1195.6 909.4Q1211.8 914.5 1204.3 929.8L1178.9 981.5Q1171.5 996.8 1155.3 991.6L1097.5 972.9Q1081.3 967.7 1083.5 950.8ZM1204.7 936Q1212.2 920.8 1227.3 928.5L1276.8 953.9Q1292 961.6 1284.2 976.7L1260.4 1023.1Q1252.6 1038.3 1237.5 1030.5L1189.3 1005.9Q1174.2 998.1 1181.7 982.9ZM1289.1 973.4Q1296.8 958.2 1312.3 965.3L1356.3 985.3Q1371.7 992.3 1365.3 1008L1343.4 1061.1Q1337 1076.8 1321.5 1069.8L1270.7 1046.7Q1255.3 1039.6 1263 1024.5ZM1366.7 1012.2Q1373.1 996.5 1389.4 1001.4L1418.9 1010.3Q1435.1 1015.3 1433.1 1032.2L1426.6 1085.8Q1424.6 1102.7 1408.3 1097.9L1356.1 1082.7Q1339.8 1078 1346.2 1062.2ZM1436.3 1027.2Q1438.3 1010.3 1455.3 1011.5L1500.3 1014.7Q1517.3 1015.9 1517.5 1032.9L1518.4 1092.3Q1518.7 1109.3 1501.7 1108.2L1444.5 1104.2Q1427.5 1103.1 1429.5 1086.2ZM1520.2 1040Q1519.8 1023 1536.7 1021.3L1575 1017.2Q1591.9 1015.4 1595.1 1032.1L1604.9 1083.5Q1608.1 1100.2 1591.2 1102L1538.6 1107.5Q1521.7 1109.3 1521.3 1092.3ZM1596.9 1028.7Q1593.6 1012 1609.4 1005.7L1637 994.8Q1652.8 988.5 1660.4 1003.7L1685.2 1053.2Q1692.8 1068.4 1676.9 1074.5L1626.9 1093.6Q1611 1099.6 1607.7 1083ZM1663.8 1004Q1656.1 988.8 1671.2 981L1720 955.7Q1735.1 947.8 1743.2 962.8L1768.8 1009.9Q1776.9 1024.8 1761.8 1032.6L1710.6 1059.2Q1695.5 1067.1 1687.8 1051.9ZM1743.7 957.6Q1735.5 942.7 1750.8 935.1L1814.8 903.4Q1830 895.8 1836.1 911.7L1856.8 965.8Q1862.9 981.7 1847.7 989.3L1794.7 1015.8Q1779.5 1023.4 1771.4 1008.4ZM1841.2 914.3Q1835.4 898.4 1852.1 895.2L1936.9 879.3Q1953.6 876.1 1953.7 893.1L1954.2 946.8Q1954.3 963.8 1937.6 967L1882.4 977.4Q1865.7 980.6 1859.8 964.7ZM1957 892.3Q1956.9 875.3 1973.9 875.8L2042.1 878Q2059 878.6 2057.7 895.5L2053.4 949.9Q2052.1 966.8 2035.1 966.3L1974.3 964.3Q1957.3 963.8 1957.2 946.8ZM2061.2 896.5Q2062.7 879.5 2078.8 885L2172.4 916.7Q2188.5 922.1 2179.7 936.7L2151.8 982.8Q2143.1 997.3 2127 991.8L2071.2 972.6Q2055.1 967.1 2056.6 950.1ZM2184.7 934.7Q2193.6 920.2 2208.1 929L2244.5 950.9Q2259 959.7 2251.9 975.1L2227.5 1027.8Q2220.3 1043.3 2205.7 1034.6L2160.2 1007.5Q2145.6 998.9 2154.5 984.3ZM2254.2 974.5Q2261.1 959 2276.9 965.4L2323.4 984.4Q2339.1 990.8 2332.8 1006.6L2310.7 1062Q2304.4 1077.7 2288.6 1071.3L2238.8 1050.9Q2223 1044.5 2230 1029ZM2332.9 1013.2Q2339.1 997.4 2355.4 1002.1L2394.1 1013.2Q2410.4 1017.9 2407.1 1034.6L2396.5 1087Q2393.1 1103.7 2376.8 1099L2323.5 1083.6Q2307.2 1078.8 2313.4 1063ZM2410.1 1033.3Q2413.4 1016.7 2430.3 1018.7L2465.4 1023.1Q2482.3 1025.1 2482.2 1042.1L2482.2 1097.5Q2482.2 1114.5 2465.3 1112.5L2412.9 1106.3Q2396.1 1104.3 2399.4 1087.6ZM2484.8 1037.9Q2484.7 1020.9 2501.6 1019.1L2539.1 1015.1Q2556 1013.3 2559.6 1030L2572.2 1088.2Q2575.7 1104.8 2558.8 1106.6L2502.1 1112.7Q2485.2 1114.5 2485.1 1097.5ZM2563.1 1033.7Q2559.4 1017.1 2575.6 1011.9L2609.8 1000.7Q2625.9 995.5 2632.5 1011.1L2653.9 1062Q2660.4 1077.7 2644.3 1082.9L2594.8 1099Q2578.7 1104.2 2575 1087.6ZM2633.1 1005.8Q2626.5 990.2 2641.7 982.5L2683.5 961.4Q2698.6 953.7 2706.3 968.9L2733.3 1022.3Q2740.9 1037.5 2725.7 1045.1L2678.4 1068.9Q2663.2 1076.5 2656.6 1060.8ZM2712.6 974Q2705 958.8 2720.4 951.6L2772.3 927.5Q2787.8 920.3 2794.5 936L2815.3 984.1Q2822.1 999.7 2806.7 1006.8L2759 1028.9Q2743.6 1036.1 2736 1020.9ZM2796.3 932.2Q2789.6 916.6 2805.8 911.4L2872.5 890.3Q2888.7 885.2 2892.1 901.8L2903.2 955.8Q2906.6 972.5 2890.4 977.6L2841 993.3Q2824.8 998.5 2818.1 982.8ZM2894.7 897.3Q2891.3 880.6 2908.2 878.8L2960.8 873.3Q2977.7 871.5 2978.2 888.5L2979.9 947.6Q2980.4 964.6 2963.5 966.3L2926.5 970.1Q2909.6 971.9 2906.3 955.2Z" fill="#f7e6ee" fill-opacity="0.94" stroke="#d8c0d2" stroke-width="2.4"/>
<g fill="#eedae5"><circle cx="80.5" cy="915.3" r="17"/><circle cx="182.6" cy="936.2" r="17"/><circle cx="273.2" cy="981.5" r="17"/><circle cx="346.6" cy="1023.9" r="17"/><circle cx="422.5" cy="1051.8" r="17"/><circle cx="506.2" cy="1062.6" r="17"/><circle cx="588.5" cy="1063.1" r="17"/><circle cx="672.1" cy="1043.8" r="17"/><circle cx="750.5" cy="1012.4" r="17"/><circle cx="830.1" cy="969" r="17"/><circle cx="932.6" cy="930.5" r="17"/><circle cx="1036.9" cy="922.4" r="17"/><circle cx="1139.4" cy="939" r="17"/><circle cx="1232.7" cy="979.7" r="17"/><circle cx="1315.2" cy="1016.7" r="17"/><circle cx="1393.1" cy="1048.1" r="17"/><circle cx="1475.5" cy="1059.7" r="17"/><circle cx="1560.4" cy="1062" r="17"/><circle cx="1637.5" cy="1042.1" r="17"/><circle cx="1715.9" cy="1007.1" r="17"/><circle cx="1802" cy="960.9" r="17"/><circle cx="1902.2" cy="929.7" r="17"/><circle cx="2006.3" cy="921.1" r="17"/><circle cx="2112.3" cy="941.5" r="17"/><circle cx="2204.6" cy="980.5" r="17"/><circle cx="2281.9" cy="1018" r="17"/><circle cx="2362.4" cy="1049.5" r="17"/><circle cx="2443.5" cy="1065.1" r="17"/><circle cx="2525.4" cy="1063.4" r="17"/><circle cx="2606.1" cy="1048.6" r="17"/><circle cx="2682.3" cy="1014.5" r="17"/><circle cx="2764.6" cy="978.7" r="17"/><circle cx="2852.5" cy="943.2" r="17"/><circle cx="2939.8" cy="922.1" r="17"/></g>
<rect x="33" y="199" width="2949" height="142" fill="#fcf1e9"/>
<path d="M-309.8 202.4C-236.1 189.9 -137.7 189.9 -64 202.4C-137.7 214.8 -236.1 214.8 -309.8 202.4ZM-84.2 203.3C-10.9 191.3 86.8 191.3 160.1 203.3C86.8 215.4 -10.9 215.4 -84.2 203.3ZM162.1 202.3C231.1 191 323.2 191 392.2 202.3C323.2 213.6 231.1 213.6 162.1 202.3ZM399.4 203.9C465.5 192.8 553.7 192.8 619.9 203.9C553.7 215 465.5 215 399.4 203.9ZM626.4 202.7C693.5 190.2 782.9 190.2 850 202.7C782.9 215.2 693.5 215.2 626.4 202.7ZM854.9 202.1C927.3 189.9 1023.8 189.9 1096.3 202.1C1023.8 214.3 927.3 214.3 854.9 202.1ZM1103 202.4C1172.8 191.1 1265.8 191.1 1335.5 202.4C1265.8 213.7 1172.8 213.7 1103 202.4ZM1315.1 202.8C1384 190.5 1475.9 190.5 1544.8 202.8C1475.9 215.2 1384 215.2 1315.1 202.8ZM1541.6 202.1C1613.9 190 1710.4 190 1782.7 202.1C1710.4 214.2 1613.9 214.2 1541.6 202.1ZM1788.4 203.5C1855 191.1 1943.8 191.1 2010.4 203.5C1943.8 215.9 1855 215.9 1788.4 203.5ZM2010.1 203.9C2083.1 192.7 2180.4 192.7 2253.4 203.9C2180.4 215.1 2083.1 215.1 2010.1 203.9ZM2256.3 202.6C2327.2 191.6 2421.6 191.6 2492.5 202.6C2421.6 213.7 2327.2 213.7 2256.3 202.6ZM2493.6 203.8C2561.8 193.3 2652.8 193.3 2721.1 203.8C2652.8 214.4 2561.8 214.4 2493.6 203.8ZM2703.5 202.5C2774.5 190 2869.1 190 2940.1 202.5C2869.1 214.9 2774.5 214.9 2703.5 202.5ZM2959.8 202.8C3029.6 190.3 3122.6 190.3 3192.4 202.8C3122.6 215.3 3029.6 215.3 2959.8 202.8Z" fill="#fcf1e9" stroke="#d9c2b5" stroke-width="2.7"/>
<path d="M-205.7 212C-136.3 200.4 -43.8 200.4 25.6 212C-43.8 223.5 -136.3 223.5 -205.7 212ZM19 213.1C91.2 201.1 187.6 201.1 259.9 213.1C187.6 225.2 91.2 225.2 19 213.1ZM241.4 212.3C312.2 201.1 406.5 201.1 477.3 212.3C406.5 223.5 312.2 223.5 241.4 212.3ZM468.2 213.1C540.3 202.4 636.5 202.4 708.6 213.1C636.5 223.8 540.3 223.8 468.2 213.1ZM703.1 212.7C771.1 202 861.8 202 929.8 212.7C861.8 223.4 771.1 223.4 703.1 212.7ZM954.5 213.6C1023.1 201 1114.6 201 1183.2 213.6C1114.6 226.1 1023.1 226.1 954.5 213.6ZM1168.4 212.6C1236.6 201.9 1327.4 201.9 1395.6 212.6C1327.4 223.3 1236.6 223.3 1168.4 212.6ZM1398 212.4C1469.6 201 1565 201 1636.6 212.4C1565 223.9 1469.6 223.9 1398 212.4ZM1643.5 213.3C1714.4 201.4 1808.9 201.4 1879.7 213.3C1808.9 225.2 1714.4 225.2 1643.5 213.3ZM1877.2 212.2C1948.4 201.4 2043.3 201.4 2114.5 212.2C2043.3 223 1948.4 223 1877.2 212.2ZM2108 212C2178.4 200.7 2272.4 200.7 2342.8 212C2272.4 223.3 2178.4 223.3 2108 212ZM2330 213.4C2398 202.3 2488.7 202.3 2556.7 213.4C2488.7 224.4 2398 224.4 2330 213.4ZM2563.6 213.6C2634.1 202.4 2728.2 202.4 2798.8 213.6C2728.2 224.8 2634.1 224.8 2563.6 213.6ZM2806.4 212.9C2876.4 201.9 2969.7 201.9 3039.7 212.9C2969.7 223.9 2876.4 223.9 2806.4 212.9ZM3024.2 213.2C3097.9 202.5 3196.2 202.5 3269.9 213.2C3196.2 224 3097.9 224 3024.2 213.2Z" fill="#fcf1e9" stroke="#d9c2b5" stroke-width="2.7"/>
<path d="M-302.1 221.4C-229 210.8 -131.5 210.8 -58.4 221.4C-131.5 232.1 -229 232.1 -302.1 221.4ZM-53.9 223.1C13.7 210.5 103.7 210.5 171.3 223.1C103.7 235.6 13.7 235.6 -53.9 223.1ZM172.5 221.7C241.5 209.4 333.5 209.4 402.4 221.7C333.5 234 241.5 234 172.5 221.7ZM391.1 222.4C463.2 209.9 559.3 209.9 631.4 222.4C559.3 234.9 463.2 234.9 391.1 222.4ZM631.4 221.5C702.3 210.5 796.8 210.5 867.7 221.5C796.8 232.5 702.3 232.5 631.4 221.5ZM874.3 222.5C942 211.4 1032.2 211.4 1099.9 222.5C1032.2 233.6 942 233.6 874.3 222.5ZM1099.8 222.6C1167.4 212 1257.7 212 1325.4 222.6C1257.7 233.1 1167.4 233.1 1099.8 222.6ZM1329 222.8C1396.6 211.6 1486.6 211.6 1554.1 222.8C1486.6 234 1396.6 234 1329 222.8ZM1553.9 222C1624.3 211.3 1718 211.3 1788.3 222C1718 232.7 1624.3 232.7 1553.9 222ZM1785.7 221.5C1856 209.7 1949.8 209.7 2020.1 221.5C1949.8 233.4 1856 233.4 1785.7 221.5ZM2020.4 221.8C2091.9 210.4 2187.1 210.4 2258.6 221.8C2187.1 233.2 2091.9 233.2 2020.4 221.8ZM2255.9 221.9C2329.4 210.7 2427.2 210.7 2500.7 221.9C2427.2 233.1 2329.4 233.1 2255.9 221.9ZM2505.1 221.9C2574.4 209.6 2666.8 209.6 2736.1 221.9C2666.8 234.2 2574.4 234.2 2505.1 221.9ZM2720.9 221.2C2788.5 209.2 2878.7 209.2 2946.3 221.2C2878.7 233.2 2788.5 233.2 2720.9 221.2ZM2958.7 222C3031.7 210.6 3129.1 210.6 3202.1 222C3129.1 233.4 3031.7 233.4 2958.7 222Z" fill="#fcf1e9" stroke="#d9c2b5" stroke-width="2.7"/>
<path d="M-184.1 231.9C-114.4 221 -21.6 221 48.1 231.9C-21.6 242.8 -114.4 242.8 -184.1 231.9ZM47.4 232C118.4 219.6 213.1 219.6 284.2 232C213.1 244.4 118.4 244.4 47.4 232ZM284.2 231.4C353.2 219.8 445.1 219.8 514.1 231.4C445.1 242.9 353.2 242.9 284.2 231.4ZM513.4 231.8C583.5 219.4 677 219.4 747.1 231.8C677 244.2 583.5 244.2 513.4 231.8ZM743.9 231.1C816.2 218.5 912.6 218.5 984.9 231.1C912.6 243.6 816.2 243.6 743.9 231.1ZM981 230.9C1054.3 218.4 1152.1 218.4 1225.5 230.9C1152.1 243.4 1054.3 243.4 981 230.9ZM1223.3 232C1296.5 220.7 1394.2 220.7 1467.4 232C1394.2 243.4 1296.5 243.4 1223.3 232ZM1453.8 231.2C1526.2 220.4 1622.8 220.4 1695.2 231.2C1622.8 242.1 1526.2 242.1 1453.8 231.2ZM1692.2 231.2C1761.4 218.9 1853.7 218.9 1922.9 231.2C1853.7 243.4 1761.4 243.4 1692.2 231.2ZM1919.1 231.6C1986.9 220.2 2077.3 220.2 2145.1 231.6C2077.3 242.9 1986.9 242.9 1919.1 231.6ZM2157.3 232.6C2224.3 221.6 2313.8 221.6 2380.8 232.6C2313.8 243.6 2224.3 243.6 2157.3 232.6ZM2391.1 230.9C2457.5 219.2 2546.1 219.2 2612.5 230.9C2546.1 242.6 2457.5 242.6 2391.1 230.9ZM2609.1 231.9C2681.7 221.1 2778.4 221.1 2850.9 231.9C2778.4 242.7 2681.7 242.7 2609.1 231.9ZM2839.5 232C2910.4 220.8 3005 220.8 3075.9 232C3005 243.1 2910.4 243.1 2839.5 232ZM3074.7 231.7C3144.1 219.8 3236.6 219.8 3306 231.7C3236.6 243.6 3144.1 243.6 3074.7 231.7Z" fill="#fcf1e9" stroke="#d9c2b5" stroke-width="2.7"/>
<path d="M-356.6 241.9C-285.8 230.4 -191.3 230.4 -120.4 241.9C-191.3 253.5 -285.8 253.5 -356.6 241.9ZM-128 241.3C-55.9 229.9 40.2 229.9 112.3 241.3C40.2 252.8 -55.9 252.8 -128 241.3ZM118.6 240.6C185.5 229.8 274.8 229.8 341.7 240.6C274.8 251.4 185.5 251.4 118.6 240.6ZM337 241.7C406.5 230.1 499.1 230.1 568.6 241.7C499.1 253.3 406.5 253.3 337 241.7ZM591.2 241.4C658 229.4 747 229.4 813.7 241.4C747 253.5 658 253.5 591.2 241.4ZM814 242.3C880.5 230.7 969.3 230.7 1035.8 242.3C969.3 253.9 880.5 253.9 814 242.3ZM1059.8 241.9C1127 229.6 1216.5 229.6 1283.7 241.9C1216.5 254.2 1127 254.2 1059.8 241.9ZM1282.8 241.4C1355.1 230.4 1451.6 230.4 1524 241.4C1451.6 252.3 1355.1 252.3 1282.8 241.4ZM1493.4 242C1566.8 229.6 1664.8 229.6 1738.2 242C1664.8 254.4 1566.8 254.4 1493.4 242ZM1730.2 241.9C1803.4 231.2 1901.1 231.2 1974.3 241.9C1901.1 252.6 1803.4 252.6 1730.2 241.9ZM1970.2 242C2037.5 229.7 2127.3 229.7 2194.7 242C2127.3 254.4 2037.5 254.4 1970.2 242ZM2217.9 240.8C2285.1 229.3 2374.7 229.3 2441.9 240.8C2374.7 252.4 2285.1 252.4 2217.9 240.8ZM2433.9 240.5C2502.1 228.9 2592.9 228.9 2661 240.5C2592.9 252 2502.1 252 2433.9 240.5ZM2681.8 241.8C2749.3 230.9 2839.3 230.9 2906.8 241.8C2839.3 252.6 2749.3 252.6 2681.8 241.8ZM2901 240.6C2974 229.7 3071.3 229.7 3144.3 240.6C3071.3 251.5 2974 251.5 2901 240.6Z" fill="#fcf1e9" stroke="#d9c2b5" stroke-width="2.7"/>
<path d="M-190.2 251.1C-119.2 239.8 -24.6 239.8 46.4 251.1C-24.6 262.4 -119.2 262.4 -190.2 251.1ZM24 252C94.6 239.6 188.7 239.6 259.3 252C188.7 264.3 94.6 264.3 24 252ZM272 250.5C343 239.2 437.6 239.2 508.5 250.5C437.6 261.9 343 261.9 272 250.5ZM488.9 251.5C562.6 239.8 660.9 239.8 734.6 251.5C660.9 263.2 562.6 263.2 488.9 251.5ZM737.1 250.1C806.6 239.2 899.3 239.2 968.8 250.1C899.3 261 806.6 261 737.1 250.1ZM961.8 252C1034.2 240.9 1130.7 240.9 1203.1 252C1130.7 263 1034.2 263 961.8 252ZM1189 250C1259.6 238.1 1353.7 238.1 1424.3 250C1353.7 261.9 1259.6 261.9 1189 250ZM1435.3 250.9C1501.7 240 1590.2 240 1656.6 250.9C1590.2 261.7 1501.7 261.7 1435.3 250.9ZM1649.6 250.5C1719.6 238.1 1813 238.1 1883 250.5C1813 262.8 1719.6 262.8 1649.6 250.5ZM1876.7 250.7C1947.8 240.1 2042.6 240.1 2113.7 250.7C2042.6 261.3 1947.8 261.3 1876.7 250.7ZM2121 251.2C2187.9 239.9 2277.1 239.9 2344.1 251.2C2277.1 262.4 2187.9 262.4 2121 251.2ZM2356.4 250.9C2427 240 2521.2 240 2591.8 250.9C2521.2 261.9 2427 261.9 2356.4 250.9ZM2585.1 250.3C2652.2 237.8 2741.8 237.8 2808.9 250.3C2741.8 262.7 2652.2 262.7 2585.1 250.3ZM2832.6 251.6C2899.5 239.7 2988.6 239.7 3055.5 251.6C2988.6 263.4 2899.5 263.4 2832.6 251.6ZM3040.1 251.3C3109.3 240.2 3201.5 240.2 3270.7 251.3C3201.5 262.4 3109.3 262.4 3040.1 251.3Z" fill="#fcf1e9" stroke="#d9c2b5" stroke-width="2.7"/>
<path d="M-310.7 261.5C-241.9 249.6 -150.1 249.6 -81.3 261.5C-150.1 273.3 -241.9 273.3 -310.7 261.5ZM-72.5 259.7C-0.8 248.6 94.8 248.6 166.6 259.7C94.8 270.7 -0.8 270.7 -72.5 259.7ZM146.1 259.7C216.2 248.3 309.8 248.3 380 259.7C309.8 271.1 216.2 271.1 146.1 259.7ZM382.4 261.5C454.5 250.9 550.6 250.9 622.7 261.5C550.6 272 454.5 272 382.4 261.5ZM623.9 260.6C691.1 249.7 780.7 249.7 847.9 260.6C780.7 271.6 691.1 271.6 623.9 260.6ZM839.1 260.2C910.2 248 1004.9 248 1075.9 260.2C1004.9 272.4 910.2 272.4 839.1 260.2ZM1092.7 261.2C1161.1 250.5 1252.3 250.5 1320.7 261.2C1252.3 271.8 1161.1 271.8 1092.7 261.2ZM1318.3 261.1C1389.9 250.5 1485.3 250.5 1556.9 261.1C1485.3 271.6 1389.9 271.6 1318.3 261.1ZM1544.1 260.1C1613.7 248 1706.7 248 1776.3 260.1C1706.7 272.1 1613.7 272.1 1544.1 260.1ZM1770.7 260.3C1837.7 249.3 1926.9 249.3 1993.8 260.3C1926.9 271.3 1837.7 271.3 1770.7 260.3ZM2013.9 261C2085.7 249.1 2181.5 249.1 2253.4 261C2181.5 273 2085.7 273 2013.9 261ZM2242.2 261.2C2310.4 249.5 2401.2 249.5 2469.4 261.2C2401.2 272.8 2310.4 272.8 2242.2 261.2ZM2475.9 261.5C2546 250.4 2639.5 250.4 2709.6 261.5C2639.5 272.6 2546 272.6 2475.9 261.5ZM2696.7 260.1C2764.5 247.8 2854.9 247.8 2922.7 260.1C2854.9 272.5 2764.5 272.5 2696.7 260.1ZM2950.8 261.1C3018.7 249 3109.3 249 3177.2 261.1C3109.3 273.1 3018.7 273.1 2950.8 261.1Z" fill="#fcf1e9" stroke="#d9c2b5" stroke-width="2.7"/>
<path d="M-222.7 271C-149.9 259.8 -52.7 259.8 20.1 271C-52.7 282.2 -149.9 282.2 -222.7 271ZM22.7 271.2C93.6 259.2 188.2 259.2 259.2 271.2C188.2 283.1 93.6 283.1 22.7 271.2ZM257.5 270.9C327.2 258.7 420.2 258.7 489.9 270.9C420.2 283.2 327.2 283.2 257.5 270.9ZM486.9 269.8C556.3 257.8 648.9 257.8 718.4 269.8C648.9 281.8 556.3 281.8 486.9 269.8ZM709.9 271C777.7 259.2 868 259.2 935.7 271C868 282.8 777.7 282.8 709.9 271ZM943.5 271.1C1010.7 260.5 1100.3 260.5 1167.6 271.1C1100.3 281.7 1010.7 281.7 943.5 271.1ZM1171 269.3C1239.8 258.5 1331.5 258.5 1400.2 269.3C1331.5 280.1 1239.8 280.1 1171 269.3ZM1414.6 270.7C1486.1 258.8 1581.3 258.8 1652.7 270.7C1581.3 282.5 1486.1 282.5 1414.6 270.7ZM1646.6 270.8C1713.3 259.1 1802.1 259.1 1868.7 270.8C1802.1 282.6 1713.3 282.6 1646.6 270.8ZM1861.9 270.9C1934.3 258.6 2030.8 258.6 2103.2 270.9C2030.8 283.3 1934.3 283.3 1861.9 270.9ZM2093.7 269.6C2166.8 257.1 2264.3 257.1 2337.4 269.6C2264.3 282.1 2166.8 282.1 2093.7 269.6ZM2353.7 270.8C2420.6 260.2 2509.9 260.2 2576.9 270.8C2509.9 281.4 2420.6 281.4 2353.7 270.8ZM2573.8 269.8C2644.8 257.6 2739.4 257.6 2810.4 269.8C2739.4 282 2644.8 282 2573.8 269.8ZM2815.7 269.6C2882.5 258.9 2971.7 258.9 3038.6 269.6C2971.7 280.3 2882.5 280.3 2815.7 269.6ZM3027.2 269.7C3095.7 258.3 3187.2 258.3 3255.7 269.7C3187.2 281.1 3095.7 281.1 3027.2 269.7Z" fill="#fcf1e9" stroke="#d9c2b5" stroke-width="2.7"/>
<path d="M-337.8 280.7C-266.2 269.4 -170.7 269.4 -99.1 280.7C-170.7 292 -266.2 292 -337.8 280.7ZM-95.9 278.9C-25.9 266.6 67.4 266.6 137.3 278.9C67.4 291.1 -25.9 291.1 -95.9 278.9ZM141 279.5C210.2 268.1 302.6 268.1 371.9 279.5C302.6 290.9 210.2 290.9 141 279.5ZM355.9 280.5C427.4 268.9 522.7 268.9 594.3 280.5C522.7 292.2 427.4 292.2 355.9 280.5ZM594.6 278.8C661.4 266.6 750.5 266.6 817.3 278.8C750.5 291 661.4 291 594.6 278.8ZM844.6 278.8C912.2 266.7 1002.4 266.7 1070.1 278.8C1002.4 290.9 912.2 290.9 844.6 278.8ZM1068.5 279.2C1138.4 267.6 1231.6 267.6 1301.5 279.2C1231.6 290.7 1138.4 290.7 1068.5 279.2ZM1301.3 279.3C1371.2 268.1 1464.4 268.1 1534.3 279.3C1464.4 290.6 1371.2 290.6 1301.3 279.3ZM1512.8 280.2C1586.1 269.1 1683.9 269.1 1757.3 280.2C1683.9 291.3 1586.1 291.3 1512.8 280.2ZM1760.6 279C1830.5 268.2 1923.8 268.2 1993.7 279C1923.8 289.7 1830.5 289.7 1760.6 279ZM1992.5 280.1C2064.7 268.1 2160.9 268.1 2233 280.1C2160.9 292 2064.7 292 1992.5 280.1ZM2220.6 280.6C2289.4 269.2 2381.2 269.2 2450.1 280.6C2381.2 291.9 2289.4 291.9 2220.6 280.6ZM2447.2 279.2C2514 266.9 2603 266.9 2669.8 279.2C2603 291.6 2514 291.6 2447.2 279.2ZM2688.3 279.6C2756.5 267.2 2847.3 267.2 2915.5 279.6C2847.3 291.9 2756.5 291.9 2688.3 279.6ZM2911.5 279.9C2984.3 268.8 3081.5 268.8 3154.4 279.9C3081.5 290.9 2984.3 290.9 2911.5 279.9Z" fill="#fcf1e9" stroke="#d9c2b5" stroke-width="2.7"/>
<path d="M-188.7 289.1C-116.8 277.2 -21 277.2 50.9 289.1C-21 300.9 -116.8 300.9 -188.7 289.1ZM58.4 289.9C125.7 277.6 215.5 277.6 282.8 289.9C215.5 302.1 125.7 302.1 58.4 289.9ZM292.9 289.6C360.3 278.1 450.2 278.1 517.6 289.6C450.2 301 360.3 301 292.9 289.6ZM528.1 288.9C595.2 277.4 684.7 277.4 751.8 288.9C684.7 300.4 595.2 300.4 528.1 288.9ZM754.9 290.1C822.5 278.9 912.6 278.9 980.2 290.1C912.6 301.2 822.5 301.2 754.9 290.1ZM976.5 289.1C1043.8 278.2 1133.5 278.2 1200.8 289.1C1133.5 299.9 1043.8 299.9 976.5 289.1ZM1205.7 288.8C1275.8 277.9 1369.3 277.9 1439.4 288.8C1369.3 299.6 1275.8 299.6 1205.7 288.8ZM1426.5 290.3C1500.1 278.3 1598.2 278.3 1671.8 290.3C1598.2 302.4 1500.1 302.4 1426.5 290.3ZM1690.8 290C1757.7 278.7 1846.9 278.7 1913.8 290C1846.9 301.3 1757.7 301.3 1690.8 290ZM1895.9 289.7C1967.6 278.2 2063.2 278.2 2135 289.7C2063.2 301.1 1967.6 301.1 1895.9 289.7ZM2140.5 288.5C2207.4 277.5 2296.7 277.5 2363.6 288.5C2296.7 299.4 2207.4 299.4 2140.5 288.5ZM2376.1 289.4C2445.2 277.2 2537.5 277.2 2606.6 289.4C2537.5 301.6 2445.2 301.6 2376.1 289.4ZM2591.8 289.6C2662.8 278.1 2757.4 278.1 2828.4 289.6C2757.4 301.1 2662.8 301.1 2591.8 289.6ZM2845.1 289.3C2914.4 277.2 3006.6 277.2 3075.9 289.3C3006.6 301.3 2914.4 301.3 2845.1 289.3ZM3063.3 288.9C3133.8 276.8 3227.8 276.8 3298.3 288.9C3227.8 300.9 3133.8 300.9 3063.3 288.9Z" fill="#fcf1e9" stroke="#d9c2b5" stroke-width="2.7"/>
<path d="M-300.2 299.7C-227.3 287.6 -130.2 287.6 -57.3 299.7C-130.2 311.8 -227.3 311.8 -300.2 299.7ZM-71.5 298.6C-0.2 286.8 94.9 286.8 166.2 298.6C94.9 310.5 -0.2 310.5 -71.5 298.6ZM160.3 299.6C231.2 288.8 325.8 288.8 396.8 299.6C325.8 310.3 231.2 310.3 160.3 299.6ZM387.2 298.8C458.7 287 554.2 287 625.8 298.8C554.2 310.7 458.7 310.7 387.2 298.8ZM626.3 299.4C695.9 287.5 788.7 287.5 858.3 299.4C788.7 311.2 695.9 311.2 626.3 299.4ZM858.1 299.6C931.3 288.6 1029 288.6 1102.2 299.6C1029 310.5 931.3 310.5 858.1 299.6ZM1104.7 298.1C1173.8 286.5 1265.9 286.5 1335 298.1C1265.9 309.6 1173.8 309.6 1104.7 298.1ZM1330.1 299.9C1400.4 289 1494.1 289 1564.4 299.9C1494.1 310.7 1400.4 310.7 1330.1 299.9ZM1557.4 299.1C1627.5 288.3 1721 288.3 1791.1 299.1C1721 309.8 1627.5 309.8 1557.4 299.1ZM1788.5 299.7C1860.1 288.1 1955.5 288.1 2027.2 299.7C1955.5 311.2 1860.1 311.2 1788.5 299.7ZM2030.4 298.4C2100.5 287 2194 287 2264.1 298.4C2194 309.8 2100.5 309.8 2030.4 298.4ZM2255.8 298.2C2327.2 286.9 2422.3 286.9 2493.7 298.2C2422.3 309.6 2327.2 309.6 2255.8 298.2ZM2467.1 298.5C2540.7 287.3 2638.9 287.3 2712.6 298.5C2638.9 309.8 2540.7 309.8 2467.1 298.5ZM2715.2 298.8C2784.4 288.3 2876.6 288.3 2945.8 298.8C2876.6 309.4 2784.4 309.4 2715.2 298.8ZM2939.7 298.4C3011.2 287.2 3106.5 287.2 3177.9 298.4C3106.5 309.7 3011.2 309.7 2939.7 298.4Z" fill="#fcf1e9" stroke="#d9c2b5" stroke-width="2.7"/>
<path d="M-195.1 309.2C-121.8 297.6 -24.1 297.6 49.3 309.2C-24.1 320.8 -121.8 320.8 -195.1 309.2ZM41.7 309.2C110.8 298.2 203 298.2 272.1 309.2C203 320.1 110.8 320.1 41.7 309.2ZM276.5 308.7C348.9 296.9 445.3 296.9 517.6 308.7C445.3 320.6 348.9 320.6 276.5 308.7ZM513.2 308.9C581 296.4 671.5 296.4 739.4 308.9C671.5 321.4 581 321.4 513.2 308.9ZM740.4 308.2C812.8 296 909.3 296 981.7 308.2C909.3 320.4 812.8 320.4 740.4 308.2ZM984.6 308.3C1054.9 297.5 1148.7 297.5 1219 308.3C1148.7 319.1 1054.9 319.1 984.6 308.3ZM1201.8 308.1C1274.4 297 1371.3 297 1443.9 308.1C1371.3 319.2 1274.4 319.2 1201.8 308.1ZM1430.2 309C1499.6 298.1 1592.1 298.1 1661.5 309C1592.1 320 1499.6 320 1430.2 309ZM1671.3 308.6C1739.5 297.5 1830.6 297.5 1898.8 308.6C1830.6 319.6 1739.5 319.6 1671.3 308.6ZM1910 308.3C1979.4 296.5 2071.9 296.5 2141.3 308.3C2071.9 320.2 1979.4 320.2 1910 308.3ZM2121.1 309.3C2194.4 297 2292 297 2365.2 309.3C2292 321.5 2194.4 321.5 2121.1 309.3ZM2355.4 309.3C2428.5 297.1 2525.9 297.1 2598.9 309.3C2525.9 321.4 2428.5 321.4 2355.4 309.3ZM2587.8 309.5C2658.8 298.9 2753.4 298.9 2824.4 309.5C2753.4 320.1 2658.8 320.1 2587.8 309.5ZM2821.7 307.9C2892.8 296.8 2987.7 296.8 3058.8 307.9C2987.7 318.9 2892.8 318.9 2821.7 307.9ZM3064.9 307.9C3132.8 295.8 3223.4 295.8 3291.3 307.9C3223.4 320 3132.8 320 3064.9 307.9Z" fill="#fcf1e9" stroke="#d9c2b5" stroke-width="2.7"/>
<path d="M-281.8 318.4C-209.6 307.5 -113.4 307.5 -41.2 318.4C-113.4 329.3 -209.6 329.3 -281.8 318.4ZM-49.6 318.8C22.5 306.9 118.6 306.9 190.7 318.8C118.6 330.7 22.5 330.7 -49.6 318.8ZM176.8 318.3C249.4 307.3 346.1 307.3 418.7 318.3C346.1 329.2 249.4 329.2 176.8 318.3ZM414.6 318.3C486.4 306.9 582.2 306.9 654 318.3C582.2 329.7 486.4 329.7 414.6 318.3ZM634.9 318.2C703 307.2 793.9 307.2 862 318.2C793.9 329.2 703 329.2 634.9 318.2ZM869.6 318.2C936.2 306.7 1025 306.7 1091.5 318.2C1025 329.7 936.2 329.7 869.6 318.2ZM1113.3 317.2C1183.2 305.6 1276.5 305.6 1346.4 317.2C1276.5 328.9 1183.2 328.9 1113.3 317.2ZM1333.7 318.5C1406.3 307 1503 307 1575.6 318.5C1503 330 1406.3 330 1333.7 318.5ZM1562.3 319.1C1634.8 307.8 1731.5 307.8 1804.1 319.1C1731.5 330.4 1634.8 330.4 1562.3 319.1ZM1809.2 317.3C1875.9 305.4 1964.9 305.4 2031.6 317.3C1964.9 329.1 1875.9 329.1 1809.2 317.3ZM2041.5 317.9C2112.3 305.9 2206.7 305.9 2277.5 317.9C2206.7 329.8 2112.3 329.8 2041.5 317.9ZM2258 319C2331.7 307.4 2429.8 307.4 2503.5 319C2429.8 330.6 2331.7 330.6 2258 319ZM2505.5 317.9C2571.9 305.9 2660.4 305.9 2726.8 317.9C2660.4 329.9 2571.9 329.9 2505.5 317.9ZM2723.3 318.3C2796 307 2893 307 2965.7 318.3C2893 329.5 2796 329.5 2723.3 318.3ZM2955.5 318C3027.6 307.1 3123.6 307.1 3195.6 318C3123.6 329 3027.6 329 2955.5 318Z" fill="#fcf1e9" stroke="#d9c2b5" stroke-width="2.7"/>
<path d="M-192.1 327.6C-119.7 316.5 -23.1 316.5 49.4 327.6C-23.1 338.7 -119.7 338.7 -192.1 327.6ZM36.3 328.7C106.3 317.7 199.6 317.7 269.5 328.7C199.6 339.8 106.3 339.8 36.3 328.7ZM262.1 327.4C333.3 315.3 428.1 315.3 499.3 327.4C428.1 339.6 333.3 339.6 262.1 327.4ZM506 328.4C574.4 316.6 665.6 316.6 734 328.4C665.6 340.1 574.4 340.1 506 328.4ZM747.3 327.9C813.7 315.9 902.3 315.9 968.7 327.9C902.3 339.9 813.7 339.9 747.3 327.9ZM958.1 327.2C1024.6 316 1113.2 316 1179.7 327.2C1113.2 338.3 1024.6 338.3 958.1 327.2ZM1194.6 328.4C1267.8 316.6 1365.3 316.6 1438.5 328.4C1365.3 340.2 1267.8 340.2 1194.6 328.4ZM1425.8 328.1C1498.8 316.3 1596.3 316.3 1669.4 328.1C1596.3 339.8 1498.8 339.8 1425.8 328.1ZM1662 327.2C1733.5 315.5 1828.7 315.5 1900.2 327.2C1828.7 339 1733.5 339 1662 327.2ZM1896.4 327C1967.6 315.5 2062.5 315.5 2133.8 327C2062.5 338.5 1967.6 338.5 1896.4 327ZM2134.8 328.6C2202.3 318 2292.4 318 2359.9 328.6C2292.4 339.2 2202.3 339.2 2134.8 328.6ZM2361.9 328.4C2433.1 317.1 2527.9 317.1 2599.1 328.4C2527.9 339.7 2433.1 339.7 2361.9 328.4ZM2582.6 327.6C2653.1 316.6 2747 316.6 2817.4 327.6C2747 338.7 2653.1 338.7 2582.6 327.6ZM2825.9 328.7C2894.5 317.2 2985.9 317.2 3054.4 328.7C2985.9 340.1 2894.5 340.1 2825.9 328.7ZM3046.8 327C3113.3 315.3 3202.1 315.3 3268.6 327C3202.1 338.7 3113.3 338.7 3046.8 327Z" fill="#fcf1e9" stroke="#d9c2b5" stroke-width="2.7"/>
<rect x="33" y="338.5" width="2949" height="3.5" fill="#fdf8f4"/>
<path transform="rotate(0 546 174)" d="M506 174C530 165.8 562 165.8 586 174C562 182.2 530 182.2 506 174Z" fill="#fcf1e9" stroke="#d9c2b5" stroke-width="2.7"/>
<path transform="rotate(0 644 175)" d="M588 175C621.6 165.5 666.4 165.5 700 175C666.4 184.5 621.6 184.5 588 175Z" fill="#fcf1e9" stroke="#d9c2b5" stroke-width="2.7"/>
<path transform="rotate(-8 951 161)" d="M885 161C924.6 149.4 977.4 149.4 1017 161C977.4 172.6 924.6 172.6 885 161Z" fill="#fcf1e9" stroke="#d9c2b5" stroke-width="2.7"/>
<path transform="rotate(10 1130 171)" d="M1065 171C1104 161.5 1156 161.5 1195 171C1156 180.5 1104 180.5 1065 171Z" fill="#fcf1e9" stroke="#d9c2b5" stroke-width="2.7"/>
<path transform="rotate(-4 1277 175)" d="M1185 175C1240.2 164.1 1313.8 164.1 1369 175C1313.8 185.9 1240.2 185.9 1185 175Z" fill="#fcf1e9" stroke="#d9c2b5" stroke-width="2.7"/>
<path transform="rotate(0 1400 184)" d="M1334 184C1373.6 175.2 1426.4 175.2 1466 184C1426.4 192.8 1373.6 192.8 1334 184Z" fill="#fcf1e9" stroke="#d9c2b5" stroke-width="2.7"/>
<path transform="rotate(-2 1542 179)" d="M1453 179C1506.4 169.5 1577.6 169.5 1631 179C1577.6 188.5 1506.4 188.5 1453 179Z" fill="#fcf1e9" stroke="#d9c2b5" stroke-width="2.7"/>
<path transform="rotate(-8 1679 179)" d="M1597 179C1646.2 167.4 1711.8 167.4 1761 179C1711.8 190.6 1646.2 190.6 1597 179Z" fill="#fcf1e9" stroke="#d9c2b5" stroke-width="2.7"/>
<path transform="rotate(-6 1923 162)" d="M1858 162C1897 151.1 1949 151.1 1988 162C1949 172.9 1897 172.9 1858 162Z" fill="#fcf1e9" stroke="#d9c2b5" stroke-width="2.7"/>
<path transform="rotate(8 2112 169.5)" d="M2038 169.5C2082.4 160 2141.6 160 2186 169.5C2141.6 179 2082.4 179 2038 169.5Z" fill="#fcf1e9" stroke="#d9c2b5" stroke-width="2.7"/>
<path transform="rotate(-3 2244 174)" d="M2163 174C2211.6 164.5 2276.4 164.5 2325 174C2276.4 183.5 2211.6 183.5 2163 174Z" fill="#fcf1e9" stroke="#d9c2b5" stroke-width="2.7"/>
<path transform="rotate(0 2378 184)" d="M2307 184C2349.6 175.2 2406.4 175.2 2449 184C2406.4 192.8 2349.6 192.8 2307 184Z" fill="#fcf1e9" stroke="#d9c2b5" stroke-width="2.7"/>
<path transform="rotate(-2 2513 180)" d="M2432 180C2480.6 170.5 2545.4 170.5 2594 180C2545.4 189.5 2480.6 189.5 2432 180Z" fill="#fcf1e9" stroke="#d9c2b5" stroke-width="2.7"/>
<path transform="rotate(-8 2652 179)" d="M2571 179C2619.6 167.4 2684.4 167.4 2733 179C2684.4 190.6 2619.6 190.6 2571 179Z" fill="#fcf1e9" stroke="#d9c2b5" stroke-width="2.7"/>
<rect x="33" y="341" width="2949" height="83" fill="#f8e4ee"/>
<path d="M-170.3 352.3C-110.2 335.3 -30 335.3 30.2 352.3C-30 369.3 -110.2 369.3 -170.3 352.3ZM30.4 351.7C86.4 334.7 160.9 334.7 216.9 351.7C160.9 368.7 86.4 368.7 30.4 351.7ZM219 351.3C280 334.3 361.4 334.3 422.5 351.3C361.4 368.3 280 368.3 219 351.3ZM414.8 350.8C474 333.8 553.1 333.8 612.3 350.8C553.1 367.8 474 367.8 414.8 350.8ZM622.1 350.7C677.9 333.7 752.5 333.7 808.3 350.7C752.5 367.7 677.9 367.7 622.1 350.7ZM819.6 350.8C875.9 333.8 951 333.8 1007.3 350.8C951 367.8 875.9 367.8 819.6 350.8ZM1002.5 352C1062.1 335 1141.7 335 1201.4 352C1141.7 369 1062.1 369 1002.5 352ZM1210.7 351.9C1266.9 334.9 1341.7 334.9 1397.8 351.9C1341.7 368.9 1266.9 368.9 1210.7 351.9ZM1392.5 351.8C1452.2 334.8 1531.8 334.8 1591.5 351.8C1531.8 368.8 1452.2 368.8 1392.5 351.8ZM1601 351C1659.3 334 1737.1 334 1795.4 351C1737.1 368 1659.3 368 1601 351ZM1783.7 350.5C1843.4 333.5 1922.9 333.5 1982.6 350.5C1922.9 367.5 1843.4 367.5 1783.7 350.5ZM1979.6 351.1C2039.8 334.1 2120.1 334.1 2180.3 351.1C2120.1 368.1 2039.8 368.1 1979.6 351.1ZM2190.8 351.5C2247.5 334.5 2323.2 334.5 2379.9 351.5C2323.2 368.5 2247.5 368.5 2190.8 351.5ZM2381.6 351.4C2439.4 334.4 2516.4 334.4 2574.2 351.4C2516.4 368.4 2439.4 368.4 2381.6 351.4ZM2582.2 351.2C2638.8 334.2 2714.3 334.2 2770.9 351.2C2714.3 368.2 2638.8 368.2 2582.2 351.2ZM2769.4 351.3C2828.6 334.3 2907.5 334.3 2966.7 351.3C2907.5 368.3 2828.6 368.3 2769.4 351.3ZM2967 351.6C3027.8 334.6 3109 334.6 3169.8 351.6C3109 368.6 3027.8 368.6 2967 351.6Z" fill="#f8e5ef" stroke="#c79fba" stroke-width="2.8"/>
<g fill="#ecd2e3"><ellipse cx="-70.7" cy="351" rx="14.5" ry="7.5"/><ellipse cx="128.9" cy="351" rx="14.5" ry="7.5"/><ellipse cx="315.9" cy="351" rx="14.5" ry="7.5"/><ellipse cx="507.7" cy="351" rx="14.5" ry="7.5"/><ellipse cx="720.8" cy="351" rx="14.5" ry="7.5"/><ellipse cx="907.6" cy="351" rx="14.5" ry="7.5"/><ellipse cx="1098.2" cy="351" rx="14.5" ry="7.5"/><ellipse cx="1308.6" cy="351" rx="14.5" ry="7.5"/><ellipse cx="1494.5" cy="351" rx="14.5" ry="7.5"/><ellipse cx="1703.8" cy="351" rx="14.5" ry="7.5"/><ellipse cx="1884.9" cy="351" rx="14.5" ry="7.5"/><ellipse cx="2082.7" cy="351" rx="14.5" ry="7.5"/><ellipse cx="2280" cy="351" rx="14.5" ry="7.5"/><ellipse cx="2480" cy="351" rx="14.5" ry="7.5"/><ellipse cx="2678.3" cy="351" rx="14.5" ry="7.5"/><ellipse cx="2871.5" cy="351" rx="14.5" ry="7.5"/><ellipse cx="3065.9" cy="351" rx="14.5" ry="7.5"/></g>
<path d="M-60.9 362.4C-4.8 344 70.1 344 126.3 362.4C70.1 380.8 -4.8 380.8 -60.9 362.4ZM128.2 363C185.9 344.6 262.7 344.6 320.3 363C262.7 381.3 185.9 381.3 128.2 363ZM318.3 361.9C377.3 343.5 456.1 343.5 515.1 361.9C456.1 380.2 377.3 380.2 318.3 361.9ZM520.8 362.2C578.6 343.8 655.8 343.8 713.6 362.2C655.8 380.6 578.6 380.6 520.8 362.2ZM708.2 361C768.3 342.6 848.5 342.6 908.6 361C848.5 379.4 768.3 379.4 708.2 361ZM911.2 362.6C969.3 344.3 1046.8 344.3 1104.9 362.6C1046.8 381 969.3 381 911.2 362.6ZM1113.5 362.6C1169.6 344.3 1244.4 344.3 1300.5 362.6C1244.4 381 1169.6 381 1113.5 362.6ZM1298.1 362.7C1357 344.3 1435.5 344.3 1494.4 362.7C1435.5 381.1 1357 381.1 1298.1 362.7ZM1500.8 361.7C1560.3 343.3 1639.6 343.3 1699.1 361.7C1639.6 380.1 1560.3 380.1 1500.8 361.7ZM1696.6 361.4C1755.4 343 1833.8 343 1892.6 361.4C1833.8 379.8 1755.4 379.8 1696.6 361.4ZM1882.5 362.2C1943.3 343.9 2024.3 343.9 2085.1 362.2C2024.3 380.6 1943.3 380.6 1882.5 362.2ZM2082.3 361.5C2140.6 343.1 2218.4 343.1 2276.7 361.5C2218.4 379.9 2140.6 379.9 2082.3 361.5ZM2278.4 361.2C2338.5 342.8 2418.5 342.8 2478.6 361.2C2418.5 379.5 2338.5 379.5 2278.4 361.2ZM2471.9 362.2C2531.8 343.8 2611.8 343.8 2671.7 362.2C2611.8 380.5 2531.8 380.5 2471.9 362.2ZM2670.4 362C2730.9 343.6 2811.6 343.6 2872.2 362C2811.6 380.3 2730.9 380.3 2670.4 362ZM2868.5 361.4C2925.4 343 3001.2 343 3058.1 361.4C3001.2 379.7 2925.4 379.7 2868.5 361.4ZM3067.5 361.8C3125.3 343.4 3202.3 343.4 3260.1 361.8C3202.3 380.2 3125.3 380.2 3067.5 361.8Z" fill="#f8e5ef" stroke="#c79fba" stroke-width="2.8"/>
<g fill="#ecd2e3"><ellipse cx="36.6" cy="361.5" rx="14.5" ry="7.5"/><ellipse cx="228.2" cy="361.5" rx="14.5" ry="7.5"/><ellipse cx="421.4" cy="361.5" rx="14.5" ry="7.5"/><ellipse cx="622" cy="361.5" rx="14.5" ry="7.5"/><ellipse cx="805.6" cy="361.5" rx="14.5" ry="7.5"/><ellipse cx="1012.7" cy="361.5" rx="14.5" ry="7.5"/><ellipse cx="1211.4" cy="361.5" rx="14.5" ry="7.5"/><ellipse cx="1400" cy="361.5" rx="14.5" ry="7.5"/><ellipse cx="1595" cy="361.5" rx="14.5" ry="7.5"/><ellipse cx="1797.6" cy="361.5" rx="14.5" ry="7.5"/><ellipse cx="1985.9" cy="361.5" rx="14.5" ry="7.5"/><ellipse cx="2182.5" cy="361.5" rx="14.5" ry="7.5"/><ellipse cx="2382.2" cy="361.5" rx="14.5" ry="7.5"/><ellipse cx="2576.6" cy="361.5" rx="14.5" ry="7.5"/><ellipse cx="2772.3" cy="361.5" rx="14.5" ry="7.5"/><ellipse cx="2965.7" cy="361.5" rx="14.5" ry="7.5"/><ellipse cx="3164" cy="361.5" rx="14.5" ry="7.5"/></g>
<path d="M-167 385.5C-110.3 363.7 -34.8 363.7 21.9 385.5C-34.8 407.3 -110.3 407.3 -167 385.5ZM36.5 385.1C92.9 363.3 168.1 363.3 224.5 385.1C168.1 406.8 92.9 406.8 36.5 385.1ZM224.7 384.5C283.7 362.8 362.4 362.8 421.4 384.5C362.4 406.3 283.7 406.3 224.7 384.5ZM433.4 385.2C489.4 363.5 564.2 363.5 620.2 385.2C564.2 407 489.4 407 433.4 385.2ZM616 385.1C674.8 363.3 753.3 363.3 812.2 385.1C753.3 406.8 674.8 406.8 616 385.1ZM814.7 385.1C875.5 363.4 956.7 363.4 1017.6 385.1C956.7 406.9 875.5 406.9 814.7 385.1ZM1008 383.9C1065.2 362.1 1141.5 362.1 1198.7 383.9C1141.5 405.7 1065.2 405.7 1008 383.9ZM1205.7 384.6C1262 362.9 1337.1 362.9 1393.4 384.6C1337.1 406.4 1262 406.4 1205.7 384.6ZM1409.1 385.3C1467.4 363.6 1545.1 363.6 1603.4 385.3C1545.1 407.1 1467.4 407.1 1409.1 385.3ZM1597.3 383.7C1656.3 362 1735 362 1794.1 383.7C1735 405.5 1656.3 405.5 1597.3 383.7ZM1798.3 384.8C1855.5 363 1931.8 363 1989.1 384.8C1931.8 406.5 1855.5 406.5 1798.3 384.8ZM1988.6 384.4C2048 362.6 2127.2 362.6 2186.6 384.4C2127.2 406.2 2048 406.2 1988.6 384.4ZM2189.2 383.9C2250.2 362.2 2331.5 362.2 2392.4 383.9C2331.5 405.7 2250.2 405.7 2189.2 383.9ZM2383.8 385.3C2441 363.5 2517.3 363.5 2574.5 385.3C2517.3 407.1 2441 407.1 2383.8 385.3ZM2571 385.1C2631.3 363.3 2711.7 363.3 2772 385.1C2711.7 406.8 2631.3 406.8 2571 385.1ZM2779.9 383.6C2839.2 361.9 2918.3 361.9 2977.5 383.6C2918.3 405.4 2839.2 405.4 2779.9 383.6ZM2974.4 384.9C3034.3 363.1 3114.1 363.1 3174 384.9C3114.1 406.6 3034.3 406.6 2974.4 384.9Z" fill="#f8e5ef" stroke="#c79fba" stroke-width="2.8"/>
<g fill="#ecd2e3"><ellipse cx="-74.1" cy="384" rx="14.5" ry="7.5"/><ellipse cx="126.4" cy="384" rx="14.5" ry="7.5"/><ellipse cx="317.3" cy="384" rx="14.5" ry="7.5"/><ellipse cx="526.6" cy="384" rx="14.5" ry="7.5"/><ellipse cx="713.2" cy="384" rx="14.5" ry="7.5"/><ellipse cx="921.7" cy="384" rx="14.5" ry="7.5"/><ellipse cx="1099.5" cy="384" rx="14.5" ry="7.5"/><ellipse cx="1304" cy="384" rx="14.5" ry="7.5"/><ellipse cx="1501.1" cy="384" rx="14.5" ry="7.5"/><ellipse cx="1701.2" cy="384" rx="14.5" ry="7.5"/><ellipse cx="1899.2" cy="384" rx="14.5" ry="7.5"/><ellipse cx="2083.6" cy="384" rx="14.5" ry="7.5"/><ellipse cx="2285.3" cy="384" rx="14.5" ry="7.5"/><ellipse cx="2484" cy="384" rx="14.5" ry="7.5"/><ellipse cx="2674" cy="384" rx="14.5" ry="7.5"/><ellipse cx="2874.5" cy="384" rx="14.5" ry="7.5"/><ellipse cx="3071.8" cy="384" rx="14.5" ry="7.5"/></g>
<path d="M-68.2 403.2C-9.2 383.5 69.4 383.5 128.4 403.2C69.4 422.9 -9.2 422.9 -68.2 403.2ZM123.1 404C180.3 384.2 256.6 384.2 313.9 404C256.6 423.7 180.3 423.7 123.1 404ZM319.5 404.4C376.6 384.6 452.8 384.6 509.9 404.4C452.8 424.1 376.6 424.1 319.5 404.4ZM511.9 403.1C571.6 383.4 651.1 383.4 710.8 403.1C651.1 422.8 571.6 422.8 511.9 403.1ZM721.2 404.7C778.2 385 854.2 385 911.3 404.7C854.2 424.5 778.2 424.5 721.2 404.7ZM912 403.2C968.6 383.5 1044.1 383.5 1100.7 403.2C1044.1 422.9 968.6 422.9 912 403.2ZM1104 403.9C1164.3 384.2 1244.8 384.2 1305.1 403.9C1244.8 423.6 1164.3 423.6 1104 403.9ZM1298.4 404.3C1358.6 384.5 1438.9 384.5 1499.1 404.3C1438.9 424 1358.6 424 1298.4 404.3ZM1494.6 404.4C1551.7 384.7 1627.7 384.7 1684.7 404.4C1627.7 424.1 1551.7 424.1 1494.6 404.4ZM1701.1 403.5C1757.7 383.8 1833.2 383.8 1889.8 403.5C1833.2 423.3 1757.7 423.3 1701.1 403.5ZM1889.8 404.7C1946.5 385 2022 385 2078.7 404.7C2022 424.4 1946.5 424.4 1889.8 404.7ZM2088.3 403.6C2145.1 383.9 2220.7 383.9 2277.5 403.6C2220.7 423.4 2145.1 423.4 2088.3 403.6ZM2290.6 403.1C2347.1 383.4 2422.4 383.4 2478.9 403.1C2422.4 422.8 2347.1 422.8 2290.6 403.1ZM2472.5 404C2531.9 384.2 2611.1 384.2 2670.5 404C2611.1 423.7 2531.9 423.7 2472.5 404ZM2672 403.7C2729.3 384 2805.6 384 2862.8 403.7C2805.6 423.4 2729.3 423.4 2672 403.7ZM2870.2 403.2C2931.3 383.5 3012.9 383.5 3074 403.2C3012.9 422.9 2931.3 422.9 2870.2 403.2ZM3056.7 404.5C3117.3 384.7 3198.1 384.7 3258.7 404.5C3198.1 424.2 3117.3 424.2 3056.7 404.5Z" fill="#f8e5ef" stroke="#c79fba" stroke-width="2.8"/>
<g fill="#ecd2e3"><ellipse cx="28" cy="403.5" rx="14.5" ry="7.5"/><ellipse cx="214.5" cy="403.5" rx="14.5" ry="7.5"/><ellipse cx="408.9" cy="403.5" rx="14.5" ry="7.5"/><ellipse cx="616.5" cy="403.5" rx="14.5" ry="7.5"/><ellipse cx="820.9" cy="403.5" rx="14.5" ry="7.5"/><ellipse cx="1011.5" cy="403.5" rx="14.5" ry="7.5"/><ellipse cx="1202.6" cy="403.5" rx="14.5" ry="7.5"/><ellipse cx="1394.4" cy="403.5" rx="14.5" ry="7.5"/><ellipse cx="1590.3" cy="403.5" rx="14.5" ry="7.5"/><ellipse cx="1794.4" cy="403.5" rx="14.5" ry="7.5"/><ellipse cx="1982.3" cy="403.5" rx="14.5" ry="7.5"/><ellipse cx="2187.7" cy="403.5" rx="14.5" ry="7.5"/><ellipse cx="2389.5" cy="403.5" rx="14.5" ry="7.5"/><ellipse cx="2569" cy="403.5" rx="14.5" ry="7.5"/><ellipse cx="2773.3" cy="403.5" rx="14.5" ry="7.5"/><ellipse cx="2969.6" cy="403.5" rx="14.5" ry="7.5"/><ellipse cx="3155.2" cy="403.5" rx="14.5" ry="7.5"/></g>
<path d="M-166.8 415.1C-105.7 398.1 -24.4 398.1 36.7 415.1C-24.4 432.1 -105.7 432.1 -166.8 415.1ZM36.4 415.2C93 398.2 168.5 398.2 225.1 415.2C168.5 432.2 93 432.2 36.4 415.2ZM237.2 415.3C294.1 398.3 369.9 398.3 426.7 415.3C369.9 432.3 294.1 432.3 237.2 415.3ZM426.3 413.9C485.2 396.9 563.7 396.9 622.6 413.9C563.7 430.9 485.2 430.9 426.3 413.9ZM621.7 413.7C681.4 396.7 760.9 396.7 820.5 413.7C760.9 430.7 681.4 430.7 621.7 413.7ZM822.2 414C881.3 397 960.1 397 1019.2 414C960.1 431 881.3 431 822.2 414ZM1020.8 415.1C1079.9 398.1 1158.7 398.1 1217.8 415.1C1158.7 432.1 1079.9 432.1 1020.8 415.1ZM1212.7 415C1269.6 398 1345.5 398 1402.4 415C1345.5 432 1269.6 432 1212.7 415ZM1404 415.1C1463.6 398.1 1543.2 398.1 1602.9 415.1C1543.2 432.1 1463.6 432.1 1404 415.1ZM1608.6 414.5C1668.9 397.5 1749.3 397.5 1809.7 414.5C1749.3 431.5 1668.9 431.5 1608.6 414.5ZM1799.4 415.2C1860 398.2 1940.9 398.2 2001.6 415.2C1940.9 432.2 1860 432.2 1799.4 415.2ZM2006 414.2C2062.8 397.2 2138.6 397.2 2195.5 414.2C2138.6 431.2 2062.8 431.2 2006 414.2ZM2197.5 413.5C2255.3 396.5 2332.4 396.5 2390.3 413.5C2332.4 430.5 2255.3 430.5 2197.5 413.5ZM2391.9 413.7C2450.1 396.7 2527.8 396.7 2586 413.7C2527.8 430.7 2450.1 430.7 2391.9 413.7ZM2588.8 414.1C2649 397.1 2729.3 397.1 2789.4 414.1C2729.3 431.1 2649 431.1 2588.8 414.1ZM2787.3 413.6C2845.2 396.6 2922.4 396.6 2980.2 413.6C2922.4 430.6 2845.2 430.6 2787.3 413.6ZM2975.2 414.5C3036.1 397.5 3117.3 397.5 3178.2 414.5C3117.3 431.5 3036.1 431.5 2975.2 414.5Z" fill="#f8e5ef" stroke="#c79fba" stroke-width="2.8"/>
<g fill="#ecd2e3"><ellipse cx="-67" cy="414" rx="14.5" ry="7.5"/><ellipse cx="131.1" cy="414" rx="14.5" ry="7.5"/><ellipse cx="328.6" cy="414" rx="14.5" ry="7.5"/><ellipse cx="527.7" cy="414" rx="14.5" ry="7.5"/><ellipse cx="716.2" cy="414" rx="14.5" ry="7.5"/><ellipse cx="917.2" cy="414" rx="14.5" ry="7.5"/><ellipse cx="1120.2" cy="414" rx="14.5" ry="7.5"/><ellipse cx="1306.4" cy="414" rx="14.5" ry="7.5"/><ellipse cx="1501.4" cy="414" rx="14.5" ry="7.5"/><ellipse cx="1703.3" cy="414" rx="14.5" ry="7.5"/><ellipse cx="1897.7" cy="414" rx="14.5" ry="7.5"/><ellipse cx="2096.7" cy="414" rx="14.5" ry="7.5"/><ellipse cx="2294.1" cy="414" rx="14.5" ry="7.5"/><ellipse cx="2491.5" cy="414" rx="14.5" ry="7.5"/><ellipse cx="2691.7" cy="414" rx="14.5" ry="7.5"/><ellipse cx="2888.2" cy="414" rx="14.5" ry="7.5"/><ellipse cx="3077.1" cy="414" rx="14.5" ry="7.5"/></g>
<rect x="33" y="421" width="2949" height="95" fill="#e6daee"/>
<path d="M-129.8 429.4C-84.8 406.3 -24.8 406.3 20.2 429.4C-24.8 452.6 -84.8 452.6 -129.8 429.4ZM29.2 428C72.8 404.9 130.8 404.9 174.4 428C130.8 451.2 72.8 451.2 29.2 428ZM180 429.4C225.2 406.3 285.5 406.3 330.7 429.4C285.5 452.6 225.2 452.6 180 429.4ZM342 428.2C386.6 405.1 446.1 405.1 490.7 428.2C446.1 451.3 386.6 451.3 342 428.2ZM494.2 428.8C540.4 405.6 602.1 405.6 648.3 428.8C602.1 451.9 540.4 451.9 494.2 428.8ZM646.5 427.7C691.5 404.6 751.5 404.6 796.5 427.7C751.5 450.9 691.5 450.9 646.5 427.7ZM808.5 427.6C853.3 404.4 913.1 404.4 957.9 427.6C913.1 450.7 853.3 450.7 808.5 427.6ZM966.3 428.4C1009.7 405.3 1067.7 405.3 1111.2 428.4C1067.7 451.5 1009.7 451.5 966.3 428.4ZM1121 429.3C1164.5 406.2 1222.6 406.2 1266.2 429.3C1222.6 452.5 1164.5 452.5 1121 429.3ZM1268.4 428.4C1313.6 405.3 1373.9 405.3 1419.2 428.4C1373.9 451.5 1313.6 451.5 1268.4 428.4ZM1431.6 428.1C1475.2 405 1533.2 405 1576.8 428.1C1533.2 451.3 1475.2 451.3 1431.6 428.1ZM1578.1 428.2C1623.6 405.1 1684.2 405.1 1729.7 428.2C1684.2 451.3 1623.6 451.3 1578.1 428.2ZM1736.7 429C1781.8 405.9 1842 405.9 1887.2 429C1842 452.1 1781.8 452.1 1736.7 429ZM1887.1 427.9C1932 404.7 1991.8 404.7 2036.7 427.9C1991.8 451 1932 451 1887.1 427.9ZM2045.8 428C2090.6 404.9 2150.4 404.9 2195.3 428C2150.4 451.2 2090.6 451.2 2045.8 428ZM2197 428.9C2242.7 405.8 2303.7 405.8 2349.5 428.9C2303.7 452.1 2242.7 452.1 2197 428.9ZM2353.3 428.7C2397.3 405.6 2455.9 405.6 2499.9 428.7C2455.9 451.8 2397.3 451.8 2353.3 428.7ZM2506.1 427.8C2551.9 404.7 2613 404.7 2658.8 427.8C2613 451 2551.9 451 2506.1 427.8ZM2665.4 428.1C2709.8 404.9 2768.9 404.9 2813.3 428.1C2768.9 451.2 2709.8 451.2 2665.4 428.1ZM2821.1 427.9C2865.3 404.8 2924.2 404.8 2968.4 427.9C2924.2 451 2865.3 451 2821.1 427.9ZM2969.1 428.9C3014.8 405.8 3075.8 405.8 3121.5 428.9C3075.8 452.1 3014.8 452.1 2969.1 428.9Z" fill="#e6daee" stroke="#b9a3ce" stroke-width="2.8"/>
<g fill="#d7c9e5"><ellipse cx="-57.6" cy="428.5" rx="11.5" ry="10.5"/><ellipse cx="101.4" cy="428.5" rx="11.5" ry="10.5"/><ellipse cx="250.9" cy="428.5" rx="11.5" ry="10.5"/><ellipse cx="416.6" cy="428.5" rx="11.5" ry="10.5"/><ellipse cx="574.3" cy="428.5" rx="11.5" ry="10.5"/><ellipse cx="717.8" cy="428.5" rx="11.5" ry="10.5"/><ellipse cx="881.5" cy="428.5" rx="11.5" ry="10.5"/><ellipse cx="1034.3" cy="428.5" rx="11.5" ry="10.5"/><ellipse cx="1198.5" cy="428.5" rx="11.5" ry="10.5"/><ellipse cx="1343.4" cy="428.5" rx="11.5" ry="10.5"/><ellipse cx="1507.6" cy="428.5" rx="11.5" ry="10.5"/><ellipse cx="1654.8" cy="428.5" rx="11.5" ry="10.5"/><ellipse cx="1807.8" cy="428.5" rx="11.5" ry="10.5"/><ellipse cx="1963.2" cy="428.5" rx="11.5" ry="10.5"/><ellipse cx="2122" cy="428.5" rx="11.5" ry="10.5"/><ellipse cx="2271.8" cy="428.5" rx="11.5" ry="10.5"/><ellipse cx="2423.3" cy="428.5" rx="11.5" ry="10.5"/><ellipse cx="2581" cy="428.5" rx="11.5" ry="10.5"/><ellipse cx="2734.6" cy="428.5" rx="11.5" ry="10.5"/><ellipse cx="2898.3" cy="428.5" rx="11.5" ry="10.5"/><ellipse cx="3041.7" cy="428.5" rx="11.5" ry="10.5"/></g>
<g fill="#bfacd4"><circle cx="-80.1" cy="425.6" r="2.9"/><circle cx="-92.9" cy="433.8" r="2.9"/><circle cx="-75.2" cy="435.7" r="2.9"/><circle cx="-16.2" cy="426.1" r="2.9"/><circle cx="-12.9" cy="429.7" r="2.9"/><circle cx="-25.2" cy="425.2" r="2.9"/><circle cx="-89.2" cy="426.6" r="2.9"/><circle cx="80.8" cy="422.5" r="2.9"/><circle cx="55.3" cy="428.9" r="2.9"/><circle cx="76.9" cy="424.5" r="2.9"/><circle cx="140.5" cy="428.1" r="2.9"/><circle cx="131.5" cy="434.4" r="2.9"/><circle cx="119" cy="430.8" r="2.9"/><circle cx="141.3" cy="429.5" r="2.9"/><circle cx="222.7" cy="424.9" r="2.9"/><circle cx="222.8" cy="427.6" r="2.9"/><circle cx="201.5" cy="430.8" r="2.9"/><circle cx="298" cy="431.1" r="2.9"/><circle cx="295.9" cy="424.6" r="2.9"/><circle cx="285" cy="434" r="2.9"/><circle cx="298.7" cy="426.5" r="2.9"/><circle cx="388.9" cy="424.3" r="2.9"/><circle cx="377.6" cy="425.6" r="2.9"/><circle cx="385.8" cy="427.2" r="2.9"/><circle cx="466.6" cy="428.2" r="2.9"/><circle cx="435.2" cy="436.5" r="2.9"/><circle cx="465.8" cy="425" r="2.9"/><circle cx="371.1" cy="429.5" r="2.9"/><circle cx="536.8" cy="425.8" r="2.9"/><circle cx="540.1" cy="427.7" r="2.9"/><circle cx="525.9" cy="426.8" r="2.9"/><circle cx="601.4" cy="430.6" r="2.9"/><circle cx="595.3" cy="430" r="2.9"/><circle cx="622.8" cy="428.6" r="2.9"/><circle cx="548.4" cy="428" r="2.9"/><circle cx="670.6" cy="429.1" r="2.9"/><circle cx="691.8" cy="431.9" r="2.9"/><circle cx="676.4" cy="426.4" r="2.9"/><circle cx="749.8" cy="431" r="2.9"/><circle cx="742.1" cy="426.8" r="2.9"/><circle cx="752.9" cy="426.9" r="2.9"/><circle cx="764.2" cy="426.9" r="2.9"/><circle cx="847.6" cy="427.1" r="2.9"/><circle cx="845.2" cy="423" r="2.9"/><circle cx="852.9" cy="433.4" r="2.9"/><circle cx="906.4" cy="429.3" r="2.9"/><circle cx="914.7" cy="425.9" r="2.9"/><circle cx="931.1" cy="427" r="2.9"/><circle cx="839" cy="425.2" r="2.9"/><circle cx="989.8" cy="427.2" r="2.9"/><circle cx="992.2" cy="428.7" r="2.9"/><circle cx="984.7" cy="429.8" r="2.9"/><circle cx="1082.2" cy="427.8" r="2.9"/><circle cx="1073.4" cy="424.7" r="2.9"/><circle cx="1058" cy="430.2" r="2.9"/><circle cx="1060.5" cy="433.4" r="2.9"/><circle cx="1155.6" cy="430.5" r="2.9"/><circle cx="1151.3" cy="425.5" r="2.9"/><circle cx="1152.8" cy="424.2" r="2.9"/><circle cx="1240.8" cy="429.3" r="2.9"/><circle cx="1231.9" cy="434.1" r="2.9"/><circle cx="1234.4" cy="427.6" r="2.9"/><circle cx="1241.4" cy="432" r="2.9"/><circle cx="1316.7" cy="427" r="2.9"/><circle cx="1308" cy="427.2" r="2.9"/><circle cx="1315.7" cy="432.5" r="2.9"/><circle cx="1388.4" cy="428.5" r="2.9"/><circle cx="1375" cy="424.5" r="2.9"/><circle cx="1370.4" cy="423.5" r="2.9"/><circle cx="1379.4" cy="429.4" r="2.9"/><circle cx="1459" cy="426.2" r="2.9"/><circle cx="1476.6" cy="433.8" r="2.9"/><circle cx="1490.3" cy="420.8" r="2.9"/><circle cx="1543.3" cy="428.5" r="2.9"/><circle cx="1555" cy="430.7" r="2.9"/><circle cx="1542.4" cy="434.4" r="2.9"/><circle cx="1473.6" cy="428.7" r="2.9"/><circle cx="1622.9" cy="422.3" r="2.9"/><circle cx="1635.6" cy="424.1" r="2.9"/><circle cx="1624.3" cy="428.5" r="2.9"/><circle cx="1693.2" cy="433.1" r="2.9"/><circle cx="1676.9" cy="423.7" r="2.9"/><circle cx="1685.7" cy="427.2" r="2.9"/><circle cx="1697.2" cy="432.3" r="2.9"/><circle cx="1780.3" cy="435.2" r="2.9"/><circle cx="1763.6" cy="428.6" r="2.9"/><circle cx="1787.2" cy="434.8" r="2.9"/><circle cx="1847.6" cy="431.8" r="2.9"/><circle cx="1857.5" cy="431.4" r="2.9"/><circle cx="1838.7" cy="424.1" r="2.9"/><circle cx="1834.4" cy="428.7" r="2.9"/><circle cx="1934.5" cy="435.2" r="2.9"/><circle cx="1925.2" cy="423.5" r="2.9"/><circle cx="1932.6" cy="432.2" r="2.9"/><circle cx="1990.3" cy="431.2" r="2.9"/><circle cx="1980.3" cy="425.2" r="2.9"/><circle cx="2008" cy="429.3" r="2.9"/><circle cx="1924.1" cy="425.3" r="2.9"/><circle cx="2086" cy="427.5" r="2.9"/><circle cx="2101" cy="423.1" r="2.9"/><circle cx="2079.9" cy="424.7" r="2.9"/><circle cx="2142.3" cy="423.2" r="2.9"/><circle cx="2156.2" cy="432.4" r="2.9"/><circle cx="2159.2" cy="431.9" r="2.9"/><circle cx="2103" cy="420.5" r="2.9"/><circle cx="2253.7" cy="430.6" r="2.9"/><circle cx="2226.4" cy="432.4" r="2.9"/><circle cx="2252.7" cy="423.4" r="2.9"/><circle cx="2309.4" cy="423.2" r="2.9"/><circle cx="2296" cy="427" r="2.9"/><circle cx="2314" cy="424.1" r="2.9"/><circle cx="2253" cy="424.2" r="2.9"/><circle cx="2376.7" cy="431.1" r="2.9"/><circle cx="2396.3" cy="429.9" r="2.9"/><circle cx="2374.6" cy="428.5" r="2.9"/><circle cx="2471.7" cy="426.5" r="2.9"/><circle cx="2453.2" cy="431.4" r="2.9"/><circle cx="2447.6" cy="425.7" r="2.9"/><circle cx="2377.4" cy="428.4" r="2.9"/><circle cx="2563.8" cy="435" r="2.9"/><circle cx="2550.9" cy="426.7" r="2.9"/><circle cx="2553" cy="433.6" r="2.9"/><circle cx="2609.1" cy="430.6" r="2.9"/><circle cx="2629.7" cy="427.9" r="2.9"/><circle cx="2628.1" cy="428.9" r="2.9"/><circle cx="2551.2" cy="428.1" r="2.9"/><circle cx="2709.6" cy="423.1" r="2.9"/><circle cx="2711.1" cy="429.2" r="2.9"/><circle cx="2691.6" cy="429" r="2.9"/><circle cx="2767" cy="432.2" r="2.9"/><circle cx="2759.5" cy="426.6" r="2.9"/><circle cx="2758.8" cy="427.1" r="2.9"/><circle cx="2696.8" cy="429.4" r="2.9"/><circle cx="2850.3" cy="432.4" r="2.9"/><circle cx="2861.7" cy="427.8" r="2.9"/><circle cx="2848.7" cy="428.8" r="2.9"/><circle cx="2928.7" cy="428.6" r="2.9"/><circle cx="2919.5" cy="432.5" r="2.9"/><circle cx="2937.7" cy="424.2" r="2.9"/><circle cx="2853.2" cy="430.6" r="2.9"/><circle cx="3011.9" cy="423" r="2.9"/><circle cx="3018.9" cy="433.9" r="2.9"/><circle cx="3014.1" cy="430.8" r="2.9"/><circle cx="3062.3" cy="429.5" r="2.9"/><circle cx="3070.7" cy="428.5" r="2.9"/><circle cx="3068.5" cy="422.4" r="2.9"/><circle cx="3014.5" cy="424.7" r="2.9"/></g>
<path d="M-43.1 442.6C0.6 416.7 58.8 416.7 102.4 442.6C58.8 468.4 0.6 468.4 -43.1 442.6ZM109.8 442.4C154.2 416.5 213.4 416.5 257.8 442.4C213.4 468.2 154.2 468.2 109.8 442.4ZM263.4 443.4C307.5 417.5 366.2 417.5 410.3 443.4C366.2 469.2 307.5 469.2 263.4 443.4ZM420.6 444C465.2 418.2 524.7 418.2 569.3 444C524.7 469.8 465.2 469.8 420.6 444ZM566.7 443.5C612.9 417.7 674.6 417.7 720.9 443.5C674.6 469.4 612.9 469.4 566.7 443.5ZM721.7 443.4C767.2 417.5 827.9 417.5 873.5 443.4C827.9 469.2 767.2 469.2 721.7 443.4ZM886.2 442C930.1 416.2 988.7 416.2 1032.6 442C988.7 467.9 930.1 467.9 886.2 442ZM1042.1 444C1085.7 418.1 1143.7 418.1 1187.2 444C1143.7 469.8 1085.7 469.8 1042.1 444ZM1194.2 442.3C1237.6 416.5 1295.3 416.5 1338.7 442.3C1295.3 468.1 1237.6 468.1 1194.2 442.3ZM1350.3 444C1396.1 418.2 1457.3 418.2 1503.1 444C1457.3 469.8 1396.1 469.8 1350.3 444ZM1506.6 442C1550.5 416.2 1609 416.2 1652.8 442C1609 467.8 1550.5 467.8 1506.6 442ZM1657 443.1C1702.1 417.2 1762.2 417.2 1807.3 443.1C1762.2 468.9 1702.1 468.9 1657 443.1ZM1809.9 442.7C1855.3 416.8 1915.7 416.8 1961.1 442.7C1915.7 468.5 1855.3 468.5 1809.9 442.7ZM1971.8 442.4C2015.7 416.6 2074.3 416.6 2118.2 442.4C2074.3 468.3 2015.7 468.3 1971.8 442.4ZM2122.8 443.7C2167.7 417.8 2227.5 417.8 2272.4 443.7C2227.5 469.5 2167.7 469.5 2122.8 443.7ZM2274.1 442.3C2318.9 416.4 2378.5 416.4 2423.3 442.3C2378.5 468.1 2318.9 468.1 2274.1 442.3ZM2432.5 442.1C2478.8 416.2 2540.6 416.2 2586.9 442.1C2540.6 467.9 2478.8 467.9 2432.5 442.1ZM2585.5 443.9C2629.6 418 2688.4 418 2732.5 443.9C2688.4 469.7 2629.6 469.7 2585.5 443.9ZM2743.5 443.2C2788.8 417.4 2849.1 417.4 2894.4 443.2C2849.1 469 2788.8 469 2743.5 443.2ZM2902.3 442.6C2947 416.8 3006.7 416.8 3051.5 442.6C3006.7 468.5 2947 468.5 2902.3 442.6ZM3045.4 443.1C3091.9 417.3 3153.8 417.3 3200.3 443.1C3153.8 469 3091.9 469 3045.4 443.1Z" fill="#e6daee" stroke="#b9a3ce" stroke-width="2.8"/>
<g fill="#d7c9e5"><ellipse cx="28.7" cy="443" rx="11.5" ry="10.5"/><ellipse cx="179.9" cy="443" rx="11.5" ry="10.5"/><ellipse cx="335.3" cy="443" rx="11.5" ry="10.5"/><ellipse cx="496.1" cy="443" rx="11.5" ry="10.5"/><ellipse cx="639.2" cy="443" rx="11.5" ry="10.5"/><ellipse cx="793.9" cy="443" rx="11.5" ry="10.5"/><ellipse cx="959.3" cy="443" rx="11.5" ry="10.5"/><ellipse cx="1115.3" cy="443" rx="11.5" ry="10.5"/><ellipse cx="1265.1" cy="443" rx="11.5" ry="10.5"/><ellipse cx="1425.7" cy="443" rx="11.5" ry="10.5"/><ellipse cx="1583.1" cy="443" rx="11.5" ry="10.5"/><ellipse cx="1732.4" cy="443" rx="11.5" ry="10.5"/><ellipse cx="1889.3" cy="443" rx="11.5" ry="10.5"/><ellipse cx="2048.4" cy="443" rx="11.5" ry="10.5"/><ellipse cx="2202.1" cy="443" rx="11.5" ry="10.5"/><ellipse cx="2352.8" cy="443" rx="11.5" ry="10.5"/><ellipse cx="2510.8" cy="443" rx="11.5" ry="10.5"/><ellipse cx="2662.7" cy="443" rx="11.5" ry="10.5"/><ellipse cx="2822.4" cy="443" rx="11.5" ry="10.5"/><ellipse cx="2975.2" cy="443" rx="11.5" ry="10.5"/><ellipse cx="3125.6" cy="443" rx="11.5" ry="10.5"/></g>
<g fill="#bfacd4"><circle cx="-13.9" cy="446.6" r="2.9"/><circle cx="-16.7" cy="439.8" r="2.9"/><circle cx="2.6" cy="436.3" r="2.9"/><circle cx="68.1" cy="444.7" r="2.9"/><circle cx="57.3" cy="441.8" r="2.9"/><circle cx="67.4" cy="445.1" r="2.9"/><circle cx="53.9" cy="448.1" r="2.9"/><circle cx="139.4" cy="438.4" r="2.9"/><circle cx="161.6" cy="437.4" r="2.9"/><circle cx="156.4" cy="440" r="2.9"/><circle cx="209.5" cy="436.9" r="2.9"/><circle cx="207.2" cy="444.9" r="2.9"/><circle cx="202.9" cy="448.2" r="2.9"/><circle cx="144.1" cy="445.5" r="2.9"/><circle cx="314.6" cy="447.2" r="2.9"/><circle cx="296.7" cy="447.3" r="2.9"/><circle cx="289.5" cy="443.7" r="2.9"/><circle cx="375.3" cy="447.9" r="2.9"/><circle cx="374.8" cy="438.2" r="2.9"/><circle cx="362.9" cy="446.9" r="2.9"/><circle cx="306.9" cy="448.7" r="2.9"/><circle cx="469.8" cy="437.1" r="2.9"/><circle cx="447.9" cy="442.4" r="2.9"/><circle cx="448.4" cy="444.5" r="2.9"/><circle cx="537.5" cy="446.3" r="2.9"/><circle cx="533.8" cy="442.5" r="2.9"/><circle cx="514.9" cy="446.3" r="2.9"/><circle cx="465" cy="443.2" r="2.9"/><circle cx="616.5" cy="437.8" r="2.9"/><circle cx="596.4" cy="440.5" r="2.9"/><circle cx="613.6" cy="449.7" r="2.9"/><circle cx="661.8" cy="440.6" r="2.9"/><circle cx="659.3" cy="445.2" r="2.9"/><circle cx="660.7" cy="445.9" r="2.9"/><circle cx="672.3" cy="442.8" r="2.9"/><circle cx="753.9" cy="439.2" r="2.9"/><circle cx="753.5" cy="443.9" r="2.9"/><circle cx="768.9" cy="444.9" r="2.9"/><circle cx="814.8" cy="441.8" r="2.9"/><circle cx="841.9" cy="444.4" r="2.9"/><circle cx="816" cy="450.4" r="2.9"/><circle cx="838.6" cy="442.2" r="2.9"/><circle cx="940.3" cy="439.4" r="2.9"/><circle cx="935.8" cy="446" r="2.9"/><circle cx="927.5" cy="438.1" r="2.9"/><circle cx="987" cy="442.6" r="2.9"/><circle cx="988.2" cy="438.5" r="2.9"/><circle cx="978.6" cy="435" r="2.9"/><circle cx="909.5" cy="444.9" r="2.9"/><circle cx="1077" cy="447.9" r="2.9"/><circle cx="1082.2" cy="446.5" r="2.9"/><circle cx="1087.7" cy="441" r="2.9"/><circle cx="1135.3" cy="439.5" r="2.9"/><circle cx="1152.5" cy="445.6" r="2.9"/><circle cx="1155.4" cy="444.6" r="2.9"/><circle cx="1095.7" cy="447" r="2.9"/><circle cx="1244.8" cy="446.5" r="2.9"/><circle cx="1237.9" cy="444.6" r="2.9"/><circle cx="1235.6" cy="445" r="2.9"/><circle cx="1293.9" cy="439.3" r="2.9"/><circle cx="1286.6" cy="449.6" r="2.9"/><circle cx="1309.8" cy="440.8" r="2.9"/><circle cx="1246.2" cy="436.5" r="2.9"/><circle cx="1377.6" cy="443" r="2.9"/><circle cx="1392.3" cy="438.8" r="2.9"/><circle cx="1398.9" cy="444.1" r="2.9"/><circle cx="1445.4" cy="446.1" r="2.9"/><circle cx="1448.1" cy="442.1" r="2.9"/><circle cx="1474.7" cy="439.9" r="2.9"/><circle cx="1407.4" cy="442" r="2.9"/><circle cx="1561.4" cy="436.3" r="2.9"/><circle cx="1564.3" cy="446.5" r="2.9"/><circle cx="1536.7" cy="439.3" r="2.9"/><circle cx="1600.4" cy="450.7" r="2.9"/><circle cx="1606" cy="446.4" r="2.9"/><circle cx="1612.6" cy="436.4" r="2.9"/><circle cx="1626.7" cy="444.6" r="2.9"/><circle cx="1683.3" cy="446.1" r="2.9"/><circle cx="1686.8" cy="447.1" r="2.9"/><circle cx="1683.6" cy="443.9" r="2.9"/><circle cx="1776.1" cy="439" r="2.9"/><circle cx="1771.7" cy="444.1" r="2.9"/><circle cx="1759.2" cy="444" r="2.9"/><circle cx="1780.8" cy="442.8" r="2.9"/><circle cx="1844.4" cy="440.6" r="2.9"/><circle cx="1847.9" cy="444.9" r="2.9"/><circle cx="1867.5" cy="444.2" r="2.9"/><circle cx="1924.7" cy="448.2" r="2.9"/><circle cx="1918.2" cy="439.5" r="2.9"/><circle cx="1920.9" cy="440" r="2.9"/><circle cx="1864.8" cy="449.9" r="2.9"/><circle cx="2025.2" cy="445.6" r="2.9"/><circle cx="2008" cy="440.2" r="2.9"/><circle cx="2016.3" cy="443.5" r="2.9"/><circle cx="2088.4" cy="445.4" r="2.9"/><circle cx="2095.4" cy="443.5" r="2.9"/><circle cx="2093.5" cy="444.6" r="2.9"/><circle cx="2005" cy="439.6" r="2.9"/><circle cx="2169.9" cy="445.3" r="2.9"/><circle cx="2167.1" cy="448.5" r="2.9"/><circle cx="2178.7" cy="442.6" r="2.9"/><circle cx="2222.1" cy="441" r="2.9"/><circle cx="2239.5" cy="441.9" r="2.9"/><circle cx="2220.6" cy="435.4" r="2.9"/><circle cx="2161.9" cy="447.7" r="2.9"/><circle cx="2315.3" cy="447.1" r="2.9"/><circle cx="2317.2" cy="447.8" r="2.9"/><circle cx="2307.1" cy="440.2" r="2.9"/><circle cx="2394.4" cy="441.4" r="2.9"/><circle cx="2395" cy="444.7" r="2.9"/><circle cx="2397" cy="439.6" r="2.9"/><circle cx="2323.5" cy="446.2" r="2.9"/><circle cx="2482" cy="440.7" r="2.9"/><circle cx="2473.9" cy="437.8" r="2.9"/><circle cx="2463.7" cy="440.9" r="2.9"/><circle cx="2539.4" cy="445.6" r="2.9"/><circle cx="2528.5" cy="451.2" r="2.9"/><circle cx="2542.3" cy="446.7" r="2.9"/><circle cx="2477.7" cy="437.8" r="2.9"/><circle cx="2618.1" cy="443.8" r="2.9"/><circle cx="2637.5" cy="450.3" r="2.9"/><circle cx="2620.6" cy="440.8" r="2.9"/><circle cx="2694.4" cy="437" r="2.9"/><circle cx="2712.6" cy="442.9" r="2.9"/><circle cx="2695.7" cy="437.2" r="2.9"/><circle cx="2707.4" cy="439.2" r="2.9"/><circle cx="2782.5" cy="442.5" r="2.9"/><circle cx="2797.8" cy="449.8" r="2.9"/><circle cx="2788.3" cy="441.3" r="2.9"/><circle cx="2856.8" cy="440.8" r="2.9"/><circle cx="2843.7" cy="445" r="2.9"/><circle cx="2846.4" cy="447.8" r="2.9"/><circle cx="2781.4" cy="441.3" r="2.9"/><circle cx="2947.2" cy="436.4" r="2.9"/><circle cx="2943.1" cy="449.1" r="2.9"/><circle cx="2956.7" cy="437.1" r="2.9"/><circle cx="3014.4" cy="440.6" r="2.9"/><circle cx="3001.2" cy="443" r="2.9"/><circle cx="3000.9" cy="444" r="2.9"/><circle cx="3009.7" cy="448.4" r="2.9"/><circle cx="3083" cy="444.3" r="2.9"/><circle cx="3087.6" cy="441.5" r="2.9"/><circle cx="3099.3" cy="447.2" r="2.9"/><circle cx="3171.4" cy="446.8" r="2.9"/><circle cx="3165" cy="441" r="2.9"/><circle cx="3167.7" cy="445.3" r="2.9"/><circle cx="3091.8" cy="444.6" r="2.9"/></g>
<path d="M-123.5 472.8C-79.1 446.3 -19.9 446.3 24.5 472.8C-19.9 499.3 -79.1 499.3 -123.5 472.8ZM28.8 472.3C75 445.8 136.7 445.8 183 472.3C136.7 498.8 75 498.8 28.8 472.3ZM187.4 473.8C230.9 447.3 288.8 447.3 332.3 473.8C288.8 500.3 230.9 500.3 187.4 473.8ZM338.4 473.6C381.8 447.1 439.7 447.1 483.1 473.6C439.7 500.2 381.8 500.2 338.4 473.6ZM489.5 473.2C535.3 446.7 596.4 446.7 642.3 473.2C596.4 499.7 535.3 499.7 489.5 473.2ZM655.6 472.8C699.1 446.3 757.2 446.3 800.7 472.8C757.2 499.4 699.1 499.4 655.6 472.8ZM799.1 472C845.4 445.5 907.2 445.5 953.5 472C907.2 498.5 845.4 498.5 799.1 472ZM961.8 473.6C1007.8 447 1069.3 447 1115.4 473.6C1069.3 500.1 1007.8 500.1 961.8 473.6ZM1119.4 472.1C1163.9 445.6 1223.3 445.6 1267.9 472.1C1223.3 498.6 1163.9 498.6 1119.4 472.1ZM1270.5 473C1316.9 446.4 1378.9 446.4 1425.3 473C1378.9 499.5 1316.9 499.5 1270.5 473ZM1419.4 473.5C1465 447 1525.9 447 1571.5 473.5C1525.9 500.1 1465 500.1 1419.4 473.5ZM1585.3 473.4C1629.6 446.9 1688.8 446.9 1733.1 473.4C1688.8 500 1629.6 500 1585.3 473.4ZM1732.9 472C1779.3 445.5 1841.2 445.5 1887.6 472C1841.2 498.5 1779.3 498.5 1732.9 472ZM1896.1 472.4C1940.2 445.9 1999.1 445.9 2043.2 472.4C1999.1 498.9 1940.2 498.9 1896.1 472.4ZM2047.6 473.6C2093.3 447.1 2154.3 447.1 2200 473.6C2154.3 500.1 2093.3 500.1 2047.6 473.6ZM2198.6 473.3C2244.1 446.8 2304.7 446.8 2350.2 473.3C2304.7 499.9 2244.1 499.9 2198.6 473.3ZM2349.2 473.6C2395.1 447.1 2456.3 447.1 2502.3 473.6C2456.3 500.1 2395.1 500.1 2349.2 473.6ZM2513.7 472.4C2557.5 445.8 2615.8 445.8 2659.5 472.4C2615.8 498.9 2557.5 498.9 2513.7 472.4ZM2661.6 473.3C2706.3 446.7 2765.9 446.7 2810.6 473.3C2765.9 499.8 2706.3 499.8 2661.6 473.3ZM2816.8 472.6C2862.4 446.1 2923.1 446.1 2968.7 472.6C2923.1 499.2 2862.4 499.2 2816.8 472.6ZM2977.5 472.7C3022.9 446.2 3083.3 446.2 3128.7 472.7C3083.3 499.2 3022.9 499.2 2977.5 472.7Z" fill="#e6daee" stroke="#b9a3ce" stroke-width="2.8"/>
<g fill="#d7c9e5"><ellipse cx="-53.9" cy="473" rx="11.5" ry="10.5"/><ellipse cx="108.1" cy="473" rx="11.5" ry="10.5"/><ellipse cx="257.6" cy="473" rx="11.5" ry="10.5"/><ellipse cx="411.5" cy="473" rx="11.5" ry="10.5"/><ellipse cx="568.6" cy="473" rx="11.5" ry="10.5"/><ellipse cx="728.5" cy="473" rx="11.5" ry="10.5"/><ellipse cx="876.1" cy="473" rx="11.5" ry="10.5"/><ellipse cx="1038.8" cy="473" rx="11.5" ry="10.5"/><ellipse cx="1194.3" cy="473" rx="11.5" ry="10.5"/><ellipse cx="1352.2" cy="473" rx="11.5" ry="10.5"/><ellipse cx="1494.9" cy="473" rx="11.5" ry="10.5"/><ellipse cx="1663" cy="473" rx="11.5" ry="10.5"/><ellipse cx="1807.5" cy="473" rx="11.5" ry="10.5"/><ellipse cx="1965.1" cy="473" rx="11.5" ry="10.5"/><ellipse cx="2127.8" cy="473" rx="11.5" ry="10.5"/><ellipse cx="2274" cy="473" rx="11.5" ry="10.5"/><ellipse cx="2427.4" cy="473" rx="11.5" ry="10.5"/><ellipse cx="2591.1" cy="473" rx="11.5" ry="10.5"/><ellipse cx="2738.4" cy="473" rx="11.5" ry="10.5"/><ellipse cx="2890.2" cy="473" rx="11.5" ry="10.5"/><ellipse cx="3052" cy="473" rx="11.5" ry="10.5"/></g>
<g fill="#bfacd4"><circle cx="-93.1" cy="477" r="2.9"/><circle cx="-96.7" cy="473" r="2.9"/><circle cx="-100.4" cy="475.6" r="2.9"/><circle cx="-4" cy="470.4" r="2.9"/><circle cx="-30.1" cy="478.8" r="2.9"/><circle cx="-14.7" cy="472" r="2.9"/><circle cx="-23.8" cy="476.6" r="2.9"/><circle cx="67.1" cy="473.5" r="2.9"/><circle cx="60.1" cy="471.7" r="2.9"/><circle cx="60.7" cy="473.7" r="2.9"/><circle cx="127.7" cy="467.8" r="2.9"/><circle cx="144.2" cy="478.6" r="2.9"/><circle cx="136.8" cy="476.7" r="2.9"/><circle cx="139.2" cy="477.7" r="2.9"/><circle cx="222.6" cy="476" r="2.9"/><circle cx="219.9" cy="470.1" r="2.9"/><circle cx="239.9" cy="465.4" r="2.9"/><circle cx="289.4" cy="478" r="2.9"/><circle cx="283.9" cy="473" r="2.9"/><circle cx="277.9" cy="468.9" r="2.9"/><circle cx="276.5" cy="466.9" r="2.9"/><circle cx="394.3" cy="469.1" r="2.9"/><circle cx="373.3" cy="467.8" r="2.9"/><circle cx="383.8" cy="466.4" r="2.9"/><circle cx="439.1" cy="478.1" r="2.9"/><circle cx="429.4" cy="472.8" r="2.9"/><circle cx="448.6" cy="476.3" r="2.9"/><circle cx="388.7" cy="478.6" r="2.9"/><circle cx="543.2" cy="472.5" r="2.9"/><circle cx="551.2" cy="480.2" r="2.9"/><circle cx="533" cy="478.6" r="2.9"/><circle cx="587.5" cy="474.9" r="2.9"/><circle cx="609.5" cy="471.3" r="2.9"/><circle cx="588.7" cy="467.5" r="2.9"/><circle cx="590.3" cy="477.2" r="2.9"/><circle cx="689.8" cy="474.1" r="2.9"/><circle cx="700.6" cy="476.3" r="2.9"/><circle cx="703" cy="476.1" r="2.9"/><circle cx="770.7" cy="475.7" r="2.9"/><circle cx="755.7" cy="476.8" r="2.9"/><circle cx="777.8" cy="472.6" r="2.9"/><circle cx="702.3" cy="473.3" r="2.9"/><circle cx="854.1" cy="475" r="2.9"/><circle cx="845.8" cy="479.3" r="2.9"/><circle cx="828.2" cy="474" r="2.9"/><circle cx="897.1" cy="473.7" r="2.9"/><circle cx="899.8" cy="477.2" r="2.9"/><circle cx="901.6" cy="474.5" r="2.9"/><circle cx="917.4" cy="477" r="2.9"/><circle cx="996.2" cy="470.6" r="2.9"/><circle cx="989.4" cy="473" r="2.9"/><circle cx="1000.8" cy="471.3" r="2.9"/><circle cx="1082.3" cy="472.6" r="2.9"/><circle cx="1066.5" cy="478.6" r="2.9"/><circle cx="1059.4" cy="476.7" r="2.9"/><circle cx="1058" cy="475.4" r="2.9"/><circle cx="1147.4" cy="472" r="2.9"/><circle cx="1155.6" cy="476.8" r="2.9"/><circle cx="1176.3" cy="465" r="2.9"/><circle cx="1234.7" cy="470.4" r="2.9"/><circle cx="1223" cy="470.6" r="2.9"/><circle cx="1225.3" cy="470.1" r="2.9"/><circle cx="1240.3" cy="473" r="2.9"/><circle cx="1303.8" cy="470.2" r="2.9"/><circle cx="1325.3" cy="467.2" r="2.9"/><circle cx="1335.1" cy="479.3" r="2.9"/><circle cx="1377.5" cy="470.4" r="2.9"/><circle cx="1389.4" cy="478.1" r="2.9"/><circle cx="1376.2" cy="466.3" r="2.9"/><circle cx="1395.1" cy="476.3" r="2.9"/><circle cx="1449.3" cy="477.3" r="2.9"/><circle cx="1468" cy="466.3" r="2.9"/><circle cx="1474.2" cy="480.6" r="2.9"/><circle cx="1512.2" cy="480" r="2.9"/><circle cx="1516.8" cy="476.7" r="2.9"/><circle cx="1515.1" cy="467.7" r="2.9"/><circle cx="1534.4" cy="468.7" r="2.9"/><circle cx="1626.7" cy="469.6" r="2.9"/><circle cx="1625.3" cy="467.7" r="2.9"/><circle cx="1641.6" cy="474.5" r="2.9"/><circle cx="1699" cy="475.3" r="2.9"/><circle cx="1704" cy="468.5" r="2.9"/><circle cx="1709.5" cy="469.4" r="2.9"/><circle cx="1642.4" cy="480.3" r="2.9"/><circle cx="1769.6" cy="473.5" r="2.9"/><circle cx="1757.7" cy="473.2" r="2.9"/><circle cx="1762.8" cy="477.1" r="2.9"/><circle cx="1827" cy="480.7" r="2.9"/><circle cx="1852.6" cy="477.1" r="2.9"/><circle cx="1831.9" cy="466.7" r="2.9"/><circle cx="1767.3" cy="468.1" r="2.9"/><circle cx="1939.3" cy="470.5" r="2.9"/><circle cx="1946.8" cy="472.2" r="2.9"/><circle cx="1938.8" cy="470.6" r="2.9"/><circle cx="1995.7" cy="479.4" r="2.9"/><circle cx="2006.7" cy="470.7" r="2.9"/><circle cx="1996.1" cy="473.5" r="2.9"/><circle cx="1994.8" cy="468.4" r="2.9"/><circle cx="2102.9" cy="473" r="2.9"/><circle cx="2078.2" cy="474.4" r="2.9"/><circle cx="2086.7" cy="477.9" r="2.9"/><circle cx="2172" cy="474.5" r="2.9"/><circle cx="2147.7" cy="475" r="2.9"/><circle cx="2145.9" cy="476.6" r="2.9"/><circle cx="2097.4" cy="473.8" r="2.9"/><circle cx="2241.4" cy="474.8" r="2.9"/><circle cx="2241.4" cy="471" r="2.9"/><circle cx="2239" cy="471.6" r="2.9"/><circle cx="2318.2" cy="475.6" r="2.9"/><circle cx="2319.7" cy="471.8" r="2.9"/><circle cx="2293.1" cy="480.8" r="2.9"/><circle cx="2248.2" cy="475.3" r="2.9"/><circle cx="2401.7" cy="477.9" r="2.9"/><circle cx="2382.1" cy="471.7" r="2.9"/><circle cx="2390.9" cy="473.8" r="2.9"/><circle cx="2477.3" cy="469.8" r="2.9"/><circle cx="2469.4" cy="471.7" r="2.9"/><circle cx="2451.1" cy="468" r="2.9"/><circle cx="2456.4" cy="475.3" r="2.9"/><circle cx="2563.5" cy="471.1" r="2.9"/><circle cx="2545.6" cy="472.4" r="2.9"/><circle cx="2560.6" cy="475.6" r="2.9"/><circle cx="2620.5" cy="471.2" r="2.9"/><circle cx="2630" cy="473.2" r="2.9"/><circle cx="2618.1" cy="475.3" r="2.9"/><circle cx="2565" cy="470" r="2.9"/><circle cx="2696.4" cy="469.6" r="2.9"/><circle cx="2699" cy="471.6" r="2.9"/><circle cx="2704.2" cy="469.9" r="2.9"/><circle cx="2767.7" cy="470.9" r="2.9"/><circle cx="2768" cy="466.6" r="2.9"/><circle cx="2762.1" cy="474.1" r="2.9"/><circle cx="2719.5" cy="467.7" r="2.9"/><circle cx="2870.2" cy="475.2" r="2.9"/><circle cx="2844.8" cy="470.4" r="2.9"/><circle cx="2859.2" cy="476.8" r="2.9"/><circle cx="2927.6" cy="471.6" r="2.9"/><circle cx="2908.6" cy="472" r="2.9"/><circle cx="2919.3" cy="475.9" r="2.9"/><circle cx="2916.9" cy="471.7" r="2.9"/><circle cx="3004.4" cy="470.5" r="2.9"/><circle cx="3002.9" cy="474.6" r="2.9"/><circle cx="3022.7" cy="475.2" r="2.9"/><circle cx="3079.8" cy="467.1" r="2.9"/><circle cx="3093.9" cy="471.8" r="2.9"/><circle cx="3086.3" cy="473" r="2.9"/><circle cx="3005.2" cy="475.1" r="2.9"/></g>
<path d="M-43.8 499.4C-0.5 474.3 57.3 474.3 100.6 499.4C57.3 524.6 -0.5 524.6 -43.8 499.4ZM102.4 498.9C148.2 473.8 209.2 473.8 254.9 498.9C209.2 524.1 148.2 524.1 102.4 498.9ZM257.2 499.2C303.2 474 364.7 474 410.8 499.2C364.7 524.3 303.2 524.3 257.2 499.2ZM415.5 498.8C460.5 473.6 520.6 473.6 565.6 498.8C520.6 523.9 460.5 523.9 415.5 498.8ZM572.4 499.4C615.8 474.2 673.6 474.2 717 499.4C673.6 524.5 615.8 524.5 572.4 499.4ZM726 500.1C772.3 474.9 833.9 474.9 880.2 500.1C833.9 525.3 772.3 525.3 726 500.1ZM886.8 500.3C931.4 475.2 990.9 475.2 1035.6 500.3C990.9 525.5 931.4 525.5 886.8 500.3ZM1039 499.8C1082.4 474.6 1140.2 474.6 1183.6 499.8C1140.2 524.9 1082.4 524.9 1039 499.8ZM1195.1 500.3C1240.9 475.2 1301.9 475.2 1347.7 500.3C1301.9 525.5 1240.9 525.5 1195.1 500.3ZM1346.9 498.6C1393.2 473.4 1454.9 473.4 1501.3 498.6C1454.9 523.8 1393.2 523.8 1346.9 498.6ZM1501.4 499.9C1546.5 474.7 1606.7 474.7 1651.8 499.9C1606.7 525.1 1546.5 525.1 1501.4 499.9ZM1659.4 499.1C1703.5 474 1762.3 474 1806.5 499.1C1762.3 524.3 1703.5 524.3 1659.4 499.1ZM1814.2 499C1859.3 473.8 1919.5 473.8 1964.6 499C1919.5 524.1 1859.3 524.1 1814.2 499ZM1968.4 498.7C2011.9 473.5 2069.9 473.5 2113.3 498.7C2069.9 523.9 2011.9 523.9 1968.4 498.7ZM2120 498.9C2164.3 473.7 2223.5 473.7 2267.8 498.9C2223.5 524.1 2164.3 524.1 2120 498.9ZM2281.6 499.7C2327 474.5 2387.5 474.5 2432.8 499.7C2387.5 524.8 2327 524.8 2281.6 499.7ZM2438.4 499.6C2482.6 474.4 2541.6 474.4 2585.8 499.6C2541.6 524.7 2482.6 524.7 2438.4 499.6ZM2589.6 500C2634.1 474.9 2693.5 474.9 2738 500C2693.5 525.2 2634.1 525.2 2589.6 500ZM2741.7 499.2C2786.9 474 2847.2 474 2892.4 499.2C2847.2 524.3 2786.9 524.3 2741.7 499.2ZM2896.6 498.8C2941.2 473.6 3000.5 473.6 3045 498.8C3000.5 524 2941.2 524 2896.6 498.8ZM3049.8 500.1C3096.2 475 3157.9 475 3204.2 500.1C3157.9 525.3 3096.2 525.3 3049.8 500.1Z" fill="#e6daee" stroke="#b9a3ce" stroke-width="2.8"/>
<g fill="#d7c9e5"><ellipse cx="28" cy="499.5" rx="11.5" ry="10.5"/><ellipse cx="174.5" cy="499.5" rx="11.5" ry="10.5"/><ellipse cx="334.1" cy="499.5" rx="11.5" ry="10.5"/><ellipse cx="487.6" cy="499.5" rx="11.5" ry="10.5"/><ellipse cx="641.7" cy="499.5" rx="11.5" ry="10.5"/><ellipse cx="803.1" cy="499.5" rx="11.5" ry="10.5"/><ellipse cx="957.5" cy="499.5" rx="11.5" ry="10.5"/><ellipse cx="1108.5" cy="499.5" rx="11.5" ry="10.5"/><ellipse cx="1268.4" cy="499.5" rx="11.5" ry="10.5"/><ellipse cx="1422.4" cy="499.5" rx="11.5" ry="10.5"/><ellipse cx="1575.8" cy="499.5" rx="11.5" ry="10.5"/><ellipse cx="1730.4" cy="499.5" rx="11.5" ry="10.5"/><ellipse cx="1891.9" cy="499.5" rx="11.5" ry="10.5"/><ellipse cx="2038" cy="499.5" rx="11.5" ry="10.5"/><ellipse cx="2191.1" cy="499.5" rx="11.5" ry="10.5"/><ellipse cx="2360.2" cy="499.5" rx="11.5" ry="10.5"/><ellipse cx="2516.6" cy="499.5" rx="11.5" ry="10.5"/><ellipse cx="2662.2" cy="499.5" rx="11.5" ry="10.5"/><ellipse cx="2814.2" cy="499.5" rx="11.5" ry="10.5"/><ellipse cx="2967.5" cy="499.5" rx="11.5" ry="10.5"/><ellipse cx="3124.6" cy="499.5" rx="11.5" ry="10.5"/></g>
<g fill="#bfacd4"><circle cx="-2.6" cy="499.2" r="2.9"/><circle cx="-18.3" cy="499" r="2.9"/><circle cx="-5.2" cy="499.6" r="2.9"/><circle cx="72.3" cy="501" r="2.9"/><circle cx="69.5" cy="498.5" r="2.9"/><circle cx="46.4" cy="502.5" r="2.9"/><circle cx="63.3" cy="502.6" r="2.9"/><circle cx="154.1" cy="492.9" r="2.9"/><circle cx="132.6" cy="500.1" r="2.9"/><circle cx="155.6" cy="502.5" r="2.9"/><circle cx="214.9" cy="499.3" r="2.9"/><circle cx="193.3" cy="502.6" r="2.9"/><circle cx="205.2" cy="500.6" r="2.9"/><circle cx="124.5" cy="501.8" r="2.9"/><circle cx="311" cy="500.1" r="2.9"/><circle cx="300" cy="494.5" r="2.9"/><circle cx="304.5" cy="501.7" r="2.9"/><circle cx="361" cy="498" r="2.9"/><circle cx="380.4" cy="501" r="2.9"/><circle cx="361.3" cy="496" r="2.9"/><circle cx="304.6" cy="498.6" r="2.9"/><circle cx="439.9" cy="500.7" r="2.9"/><circle cx="447.2" cy="495.9" r="2.9"/><circle cx="439.9" cy="498.2" r="2.9"/><circle cx="519.7" cy="502.1" r="2.9"/><circle cx="526.5" cy="501.9" r="2.9"/><circle cx="504.9" cy="492.2" r="2.9"/><circle cx="536" cy="502" r="2.9"/><circle cx="598.2" cy="500.4" r="2.9"/><circle cx="609.7" cy="505" r="2.9"/><circle cx="610" cy="504.3" r="2.9"/><circle cx="660.6" cy="498.4" r="2.9"/><circle cx="679.8" cy="494.6" r="2.9"/><circle cx="687.2" cy="495.8" r="2.9"/><circle cx="605" cy="495.9" r="2.9"/><circle cx="759.6" cy="499.8" r="2.9"/><circle cx="780.8" cy="503.8" r="2.9"/><circle cx="762.5" cy="499.7" r="2.9"/><circle cx="835.5" cy="495.8" r="2.9"/><circle cx="823.1" cy="492.2" r="2.9"/><circle cx="827.5" cy="504.5" r="2.9"/><circle cx="843.4" cy="498.9" r="2.9"/><circle cx="912.9" cy="497.7" r="2.9"/><circle cx="932.8" cy="500.7" r="2.9"/><circle cx="930" cy="500.3" r="2.9"/><circle cx="979.6" cy="505.9" r="2.9"/><circle cx="985.2" cy="504.2" r="2.9"/><circle cx="979.5" cy="504.2" r="2.9"/><circle cx="908.2" cy="498.7" r="2.9"/><circle cx="1085" cy="494.2" r="2.9"/><circle cx="1085.5" cy="497" r="2.9"/><circle cx="1078.3" cy="493.4" r="2.9"/><circle cx="1137.1" cy="501.6" r="2.9"/><circle cx="1132.5" cy="501.8" r="2.9"/><circle cx="1142.8" cy="494.4" r="2.9"/><circle cx="1075.4" cy="493.6" r="2.9"/><circle cx="1222.9" cy="500.3" r="2.9"/><circle cx="1233.6" cy="494.7" r="2.9"/><circle cx="1246.8" cy="495.9" r="2.9"/><circle cx="1314.9" cy="502.4" r="2.9"/><circle cx="1292.9" cy="505.8" r="2.9"/><circle cx="1286.5" cy="501.1" r="2.9"/><circle cx="1317.3" cy="498.3" r="2.9"/><circle cx="1389.5" cy="497.4" r="2.9"/><circle cx="1393.4" cy="494.2" r="2.9"/><circle cx="1377.9" cy="502.3" r="2.9"/><circle cx="1463.3" cy="499" r="2.9"/><circle cx="1464" cy="495.7" r="2.9"/><circle cx="1444.7" cy="497.9" r="2.9"/><circle cx="1440.6" cy="491.8" r="2.9"/><circle cx="1556.3" cy="503.2" r="2.9"/><circle cx="1534.6" cy="498.1" r="2.9"/><circle cx="1536.9" cy="495.2" r="2.9"/><circle cx="1592.9" cy="502" r="2.9"/><circle cx="1620.4" cy="497.7" r="2.9"/><circle cx="1601.4" cy="493.8" r="2.9"/><circle cx="1600.7" cy="494.4" r="2.9"/><circle cx="1696.6" cy="497.9" r="2.9"/><circle cx="1706.8" cy="498" r="2.9"/><circle cx="1706.7" cy="493.9" r="2.9"/><circle cx="1755.3" cy="505" r="2.9"/><circle cx="1763.9" cy="504.2" r="2.9"/><circle cx="1747.9" cy="507" r="2.9"/><circle cx="1697.3" cy="503.1" r="2.9"/><circle cx="1847.1" cy="503.9" r="2.9"/><circle cx="1860.9" cy="501.1" r="2.9"/><circle cx="1871.3" cy="500.6" r="2.9"/><circle cx="1912.9" cy="502.1" r="2.9"/><circle cx="1916.1" cy="495.7" r="2.9"/><circle cx="1934.5" cy="499.6" r="2.9"/><circle cx="1847.9" cy="502.4" r="2.9"/><circle cx="1994.1" cy="498.1" r="2.9"/><circle cx="1994.3" cy="499.1" r="2.9"/><circle cx="1990.6" cy="495.5" r="2.9"/><circle cx="2086.1" cy="498.8" r="2.9"/><circle cx="2068.5" cy="494.1" r="2.9"/><circle cx="2063.1" cy="502.9" r="2.9"/><circle cx="1998.6" cy="495.9" r="2.9"/><circle cx="2150.7" cy="495.1" r="2.9"/><circle cx="2174" cy="506" r="2.9"/><circle cx="2172.9" cy="499.9" r="2.9"/><circle cx="2219" cy="493.5" r="2.9"/><circle cx="2228" cy="494.6" r="2.9"/><circle cx="2236.7" cy="495.6" r="2.9"/><circle cx="2220.2" cy="498.3" r="2.9"/><circle cx="2321" cy="502.1" r="2.9"/><circle cx="2338.8" cy="504.7" r="2.9"/><circle cx="2312.3" cy="502.7" r="2.9"/><circle cx="2401.8" cy="502.8" r="2.9"/><circle cx="2403.7" cy="500.3" r="2.9"/><circle cx="2391.6" cy="503.7" r="2.9"/><circle cx="2403.1" cy="503" r="2.9"/><circle cx="2497.3" cy="504.1" r="2.9"/><circle cx="2473.1" cy="501.8" r="2.9"/><circle cx="2471.6" cy="497.2" r="2.9"/><circle cx="2553" cy="500.2" r="2.9"/><circle cx="2562.5" cy="500.1" r="2.9"/><circle cx="2564.4" cy="502.6" r="2.9"/><circle cx="2497.9" cy="502.2" r="2.9"/><circle cx="2631.8" cy="494.1" r="2.9"/><circle cx="2623.7" cy="503.1" r="2.9"/><circle cx="2634" cy="500.8" r="2.9"/><circle cx="2706.8" cy="502.1" r="2.9"/><circle cx="2679.3" cy="499.3" r="2.9"/><circle cx="2679.7" cy="492.9" r="2.9"/><circle cx="2706" cy="498.8" r="2.9"/><circle cx="2784.2" cy="499.1" r="2.9"/><circle cx="2796.1" cy="496.8" r="2.9"/><circle cx="2764.5" cy="497.2" r="2.9"/><circle cx="2860.6" cy="498.7" r="2.9"/><circle cx="2849" cy="496.5" r="2.9"/><circle cx="2838.4" cy="501.4" r="2.9"/><circle cx="2843.6" cy="504.8" r="2.9"/><circle cx="2921.1" cy="500.4" r="2.9"/><circle cx="2921" cy="498.6" r="2.9"/><circle cx="2934" cy="505" r="2.9"/><circle cx="3001.2" cy="505.4" r="2.9"/><circle cx="2990.8" cy="504.5" r="2.9"/><circle cx="2989.9" cy="499.9" r="2.9"/><circle cx="2984.5" cy="494" r="2.9"/><circle cx="3085.2" cy="504.6" r="2.9"/><circle cx="3083.3" cy="502" r="2.9"/><circle cx="3085.6" cy="495.6" r="2.9"/><circle cx="3166.4" cy="497.1" r="2.9"/><circle cx="3155.3" cy="499.7" r="2.9"/><circle cx="3152.5" cy="496.3" r="2.9"/><circle cx="3151.3" cy="496.7" r="2.9"/></g>
<path d="M-111.7 513.4C-66.1 492.3 -5.4 492.3 40.2 513.4C-5.4 534.5 -66.1 534.5 -111.7 513.4ZM39.9 513.4C84.2 492.3 143.3 492.3 187.6 513.4C143.3 534.5 84.2 534.5 39.9 513.4ZM196.6 512.5C242.9 491.4 304.7 491.4 351 512.5C304.7 533.6 242.9 533.6 196.6 512.5ZM353 512.3C396.4 491.2 454.3 491.2 497.7 512.3C454.3 533.3 396.4 533.3 353 512.3ZM506.7 511.8C551.6 490.7 611.4 490.7 656.3 511.8C611.4 532.9 551.6 532.9 506.7 511.8ZM668.4 512.6C711.7 491.6 769.6 491.6 813 512.6C769.6 533.7 711.7 533.7 668.4 512.6ZM815.1 513.4C860.8 492.3 921.9 492.3 967.6 513.4C921.9 534.5 860.8 534.5 815.1 513.4ZM976 512C1019.3 490.9 1077 490.9 1120.2 512C1077 533.1 1019.3 533.1 976 512ZM1121.9 512.9C1168 491.8 1229.4 491.8 1275.6 512.9C1229.4 534 1168 534 1121.9 512.9ZM1277.3 512.4C1323.7 491.3 1385.5 491.3 1431.8 512.4C1385.5 533.5 1323.7 533.5 1277.3 512.4ZM1433.1 513.2C1478.9 492.1 1540 492.1 1585.9 513.2C1540 534.3 1478.9 534.3 1433.1 513.2ZM1593.7 512.6C1637.2 491.5 1695.1 491.5 1738.5 512.6C1695.1 533.6 1637.2 533.6 1593.7 512.6ZM1744.9 512.9C1789.6 491.8 1849.2 491.8 1893.8 512.9C1849.2 534 1789.6 534 1744.9 512.9ZM1903 512.8C1948 491.7 2008 491.7 2053 512.8C2008 533.8 1948 533.8 1903 512.8ZM2058.3 512.5C2104.5 491.4 2166.2 491.4 2212.4 512.5C2166.2 533.5 2104.5 533.5 2058.3 512.5ZM2209.8 511.8C2256 490.7 2317.5 490.7 2363.7 511.8C2317.5 532.9 2256 532.9 2209.8 511.8ZM2367.3 512.2C2410.6 491.1 2468.3 491.1 2511.6 512.2C2468.3 533.3 2410.6 533.3 2367.3 512.2ZM2518.9 512.8C2564.4 491.7 2625.2 491.7 2670.7 512.8C2625.2 533.9 2564.4 533.9 2518.9 512.8ZM2672.4 511.5C2718.6 490.4 2780.2 490.4 2826.4 511.5C2780.2 532.6 2718.6 532.6 2672.4 511.5ZM2837.4 511.8C2881.2 490.7 2939.7 490.7 2983.6 511.8C2939.7 532.9 2881.2 532.9 2837.4 511.8ZM2986.6 512.8C3031.8 491.8 3092.1 491.8 3137.4 512.8C3092.1 533.9 3031.8 533.9 2986.6 512.8Z" fill="#e6daee" stroke="#b9a3ce" stroke-width="2.8"/>
<g fill="#d7c9e5"><ellipse cx="-32.7" cy="512.5" rx="11.5" ry="10.5"/><ellipse cx="117.7" cy="512.5" rx="11.5" ry="10.5"/><ellipse cx="278.5" cy="512.5" rx="11.5" ry="10.5"/><ellipse cx="430" cy="512.5" rx="11.5" ry="10.5"/><ellipse cx="585.4" cy="512.5" rx="11.5" ry="10.5"/><ellipse cx="739.2" cy="512.5" rx="11.5" ry="10.5"/><ellipse cx="893.8" cy="512.5" rx="11.5" ry="10.5"/><ellipse cx="1047.5" cy="512.5" rx="11.5" ry="10.5"/><ellipse cx="1200.8" cy="512.5" rx="11.5" ry="10.5"/><ellipse cx="1357.2" cy="512.5" rx="11.5" ry="10.5"/><ellipse cx="1512.6" cy="512.5" rx="11.5" ry="10.5"/><ellipse cx="1667.7" cy="512.5" rx="11.5" ry="10.5"/><ellipse cx="1816.3" cy="512.5" rx="11.5" ry="10.5"/><ellipse cx="1978.6" cy="512.5" rx="11.5" ry="10.5"/><ellipse cx="2138.6" cy="512.5" rx="11.5" ry="10.5"/><ellipse cx="2282.9" cy="512.5" rx="11.5" ry="10.5"/><ellipse cx="2443.3" cy="512.5" rx="11.5" ry="10.5"/><ellipse cx="2596.7" cy="512.5" rx="11.5" ry="10.5"/><ellipse cx="2749.1" cy="512.5" rx="11.5" ry="10.5"/><ellipse cx="2910.6" cy="512.5" rx="11.5" ry="10.5"/><ellipse cx="3062.6" cy="512.5" rx="11.5" ry="10.5"/></g>
<g fill="#bfacd4"><circle cx="-79.6" cy="512.5" r="2.9"/><circle cx="-61.7" cy="518.9" r="2.9"/><circle cx="-51.5" cy="518" r="2.9"/><circle cx="6.9" cy="513.1" r="2.9"/><circle cx="-0.9" cy="515.7" r="2.9"/><circle cx="13.8" cy="514.4" r="2.9"/><circle cx="-74.4" cy="508" r="2.9"/><circle cx="94.5" cy="518.9" r="2.9"/><circle cx="83.9" cy="518.5" r="2.9"/><circle cx="95" cy="513.9" r="2.9"/><circle cx="167.1" cy="513.5" r="2.9"/><circle cx="142.7" cy="516.5" r="2.9"/><circle cx="135.5" cy="513.3" r="2.9"/><circle cx="87.2" cy="507.1" r="2.9"/><circle cx="238.7" cy="510.2" r="2.9"/><circle cx="256.2" cy="513.7" r="2.9"/><circle cx="234.3" cy="515.1" r="2.9"/><circle cx="307" cy="507.6" r="2.9"/><circle cx="312.6" cy="517" r="2.9"/><circle cx="300.9" cy="516.2" r="2.9"/><circle cx="301.2" cy="509.6" r="2.9"/><circle cx="404.1" cy="518.1" r="2.9"/><circle cx="397.4" cy="514" r="2.9"/><circle cx="382.4" cy="511.7" r="2.9"/><circle cx="469.5" cy="511.1" r="2.9"/><circle cx="457.6" cy="516.6" r="2.9"/><circle cx="462.6" cy="507.7" r="2.9"/><circle cx="382.5" cy="513.5" r="2.9"/><circle cx="563.4" cy="516.5" r="2.9"/><circle cx="552.9" cy="513.2" r="2.9"/><circle cx="546.3" cy="515.2" r="2.9"/><circle cx="611.5" cy="510.5" r="2.9"/><circle cx="632.7" cy="512.7" r="2.9"/><circle cx="611.9" cy="514.4" r="2.9"/><circle cx="559.8" cy="516.4" r="2.9"/><circle cx="713.4" cy="508.8" r="2.9"/><circle cx="719.9" cy="513.3" r="2.9"/><circle cx="697.3" cy="514.2" r="2.9"/><circle cx="769.8" cy="516.5" r="2.9"/><circle cx="759.9" cy="509.4" r="2.9"/><circle cx="777.5" cy="517.5" r="2.9"/><circle cx="777.1" cy="514.6" r="2.9"/><circle cx="863.6" cy="512.5" r="2.9"/><circle cx="865.7" cy="517.5" r="2.9"/><circle cx="853.3" cy="508.9" r="2.9"/><circle cx="935" cy="511.6" r="2.9"/><circle cx="941.4" cy="510.8" r="2.9"/><circle cx="917.8" cy="515.2" r="2.9"/><circle cx="941.3" cy="509" r="2.9"/><circle cx="1011.5" cy="509.9" r="2.9"/><circle cx="1002.6" cy="515" r="2.9"/><circle cx="1002.8" cy="509.4" r="2.9"/><circle cx="1086.6" cy="515.2" r="2.9"/><circle cx="1081" cy="517.3" r="2.9"/><circle cx="1094.1" cy="514.5" r="2.9"/><circle cx="1003.4" cy="513.8" r="2.9"/><circle cx="1160.3" cy="515.2" r="2.9"/><circle cx="1163.8" cy="512.6" r="2.9"/><circle cx="1163.7" cy="517" r="2.9"/><circle cx="1228" cy="510.5" r="2.9"/><circle cx="1236.5" cy="517" r="2.9"/><circle cx="1220.3" cy="504.8" r="2.9"/><circle cx="1234.8" cy="508" r="2.9"/><circle cx="1331.1" cy="506.2" r="2.9"/><circle cx="1325.5" cy="513.2" r="2.9"/><circle cx="1313.6" cy="508.3" r="2.9"/><circle cx="1401.5" cy="509" r="2.9"/><circle cx="1381.6" cy="514.4" r="2.9"/><circle cx="1385.4" cy="510.2" r="2.9"/><circle cx="1393" cy="509.3" r="2.9"/><circle cx="1488.2" cy="507.6" r="2.9"/><circle cx="1468.8" cy="510.4" r="2.9"/><circle cx="1483.2" cy="518.6" r="2.9"/><circle cx="1538.6" cy="506.6" r="2.9"/><circle cx="1533.3" cy="510.8" r="2.9"/><circle cx="1561.1" cy="511.8" r="2.9"/><circle cx="1473.6" cy="516.5" r="2.9"/><circle cx="1648.3" cy="512.1" r="2.9"/><circle cx="1646.3" cy="511.8" r="2.9"/><circle cx="1628.2" cy="514.7" r="2.9"/><circle cx="1699.7" cy="510.5" r="2.9"/><circle cx="1691" cy="511" r="2.9"/><circle cx="1694" cy="508.1" r="2.9"/><circle cx="1709" cy="512.7" r="2.9"/><circle cx="1792.7" cy="516.4" r="2.9"/><circle cx="1771.7" cy="510.7" r="2.9"/><circle cx="1773.4" cy="508" r="2.9"/><circle cx="1857.7" cy="513.6" r="2.9"/><circle cx="1833.9" cy="510" r="2.9"/><circle cx="1847.1" cy="516.9" r="2.9"/><circle cx="1854.5" cy="515.2" r="2.9"/><circle cx="1928.9" cy="511.1" r="2.9"/><circle cx="1960.2" cy="507.1" r="2.9"/><circle cx="1949.9" cy="517.9" r="2.9"/><circle cx="2022.2" cy="512.1" r="2.9"/><circle cx="1999" cy="506.2" r="2.9"/><circle cx="2000.7" cy="516.8" r="2.9"/><circle cx="2011.2" cy="518.6" r="2.9"/><circle cx="2093.5" cy="512.7" r="2.9"/><circle cx="2113.3" cy="510.9" r="2.9"/><circle cx="2109.9" cy="514.6" r="2.9"/><circle cx="2186.5" cy="510.1" r="2.9"/><circle cx="2164.8" cy="517" r="2.9"/><circle cx="2172.7" cy="515.8" r="2.9"/><circle cx="2097.6" cy="509.1" r="2.9"/><circle cx="2265" cy="517.7" r="2.9"/><circle cx="2233.8" cy="509.4" r="2.9"/><circle cx="2240.1" cy="509.7" r="2.9"/><circle cx="2318.8" cy="517.2" r="2.9"/><circle cx="2328.2" cy="511.1" r="2.9"/><circle cx="2318.3" cy="512.1" r="2.9"/><circle cx="2325.3" cy="516.4" r="2.9"/><circle cx="2406.7" cy="508.3" r="2.9"/><circle cx="2419.7" cy="511.8" r="2.9"/><circle cx="2406.9" cy="514" r="2.9"/><circle cx="2483.6" cy="511.9" r="2.9"/><circle cx="2462.5" cy="516.2" r="2.9"/><circle cx="2462" cy="512" r="2.9"/><circle cx="2413" cy="514.8" r="2.9"/><circle cx="2559.7" cy="508.2" r="2.9"/><circle cx="2563.3" cy="511.1" r="2.9"/><circle cx="2556.6" cy="515.6" r="2.9"/><circle cx="2643.1" cy="508.3" r="2.9"/><circle cx="2632.4" cy="515.3" r="2.9"/><circle cx="2621.1" cy="516" r="2.9"/><circle cx="2635.1" cy="509.7" r="2.9"/><circle cx="2724.1" cy="518.8" r="2.9"/><circle cx="2724.8" cy="515.1" r="2.9"/><circle cx="2701.4" cy="513.6" r="2.9"/><circle cx="2796.4" cy="510.6" r="2.9"/><circle cx="2771.1" cy="505" r="2.9"/><circle cx="2791.1" cy="508.7" r="2.9"/><circle cx="2798.2" cy="514.1" r="2.9"/><circle cx="2876.8" cy="518" r="2.9"/><circle cx="2881" cy="517.5" r="2.9"/><circle cx="2891.2" cy="504.8" r="2.9"/><circle cx="2949" cy="508.1" r="2.9"/><circle cx="2946.1" cy="513.8" r="2.9"/><circle cx="2953.7" cy="512.9" r="2.9"/><circle cx="2870.3" cy="514.1" r="2.9"/><circle cx="3044.8" cy="518" r="2.9"/><circle cx="3018.8" cy="512.1" r="2.9"/><circle cx="3041.5" cy="514.9" r="2.9"/><circle cx="3086.4" cy="511.4" r="2.9"/><circle cx="3083.2" cy="520.1" r="2.9"/><circle cx="3097.6" cy="510.8" r="2.9"/><circle cx="3042.5" cy="516.2" r="2.9"/></g>
</g>
<path d="M1169.5 338 V352 Q1169.5 393 1128 393 H836 Q772 393 772 460" stroke="#222" stroke-width="5" fill="none"/>
<path d="M772 481 l-12 -23.5 h24 Z" fill="#222"/>
<path d="M1278 338 V362 Q1278 391 1249 391 H1229 Q1199 391 1199 421 V460" stroke="#222" stroke-width="5" fill="none"/>
<path d="M1199 479 l-12 -23.5 h24 Z" fill="#222"/>
<path d="M1357.5 338 V364 Q1357.5 393 1387 393 H1408 Q1438 393 1438 423 V460" stroke="#222" stroke-width="5" fill="none"/>
<path d="M1438 480 l-12 -23.5 h24 Z" fill="#222"/>
<path d="M1467 338 V348 Q1467 393 1512 393 H1801 Q1865 393 1865 460" stroke="#222" stroke-width="5" fill="none"/>
<path d="M1865 481 l-12 -23.5 h24 Z" fill="#222"/>
<path d="M2241.5 337 V349 Q2241.5 391 2199 391 H1998 Q1934 391 1934 458" stroke="#222" stroke-width="5" fill="none"/>
<path d="M1934 476 l-12 -23.5 h24 Z" fill="#222"/>
<path d="M2350.5 337 V361 Q2350.5 391 2321 391 H2300 Q2270 391 2270 421 V460" stroke="#222" stroke-width="5" fill="none"/>
<path d="M2270 479 l-12 -23.5 h24 Z" fill="#222"/>
<path d="M2429.5 338 V364 Q2429.5 393 2459 393 H2480 Q2509.5 393 2509.5 423 V460" stroke="#222" stroke-width="5" fill="none"/>
<path d="M2509.5 480 l-12 -23.5 h24 Z" fill="#222"/>
<path d="M2539 338 V349 Q2539 393.5 2584 393.5 H2783 Q2847 393.5 2847 460" stroke="#222" stroke-width="5" fill="none"/>
<path d="M2847 482 l-12 -23.5 h24 Z" fill="#222"/>
<rect x="103.5" y="23" width="399.5" height="61.5" rx="1" fill="url(#gADX)" stroke="#3a7ec6" stroke-width="3"/>
<rect x="103.6" y="92.6" width="399.3" height="237.3" rx="1" fill="#edf3fc" stroke="#5b4a9a" stroke-width="3.2"/>
<rect x="102" y="89.5" width="402.5" height="6" fill="#5b4a9a"/>
<text x="227.4" y="66.8" font-size="36.1" textLength="151.2" lengthAdjust="spacingAndGlyphs" fill="#000">ADX-914</text>
<g transform="translate(80 0) scale(0.23846)">
<ellipse cx="440" cy="640" rx="170" ry="135" fill="url(#gCup)"/>
<path d="M440.3 741 L440.3 1272 Q440.3 1300 398 1300 Q354.6 1300 354.6 1272 L354.6 805 Q354.6 778 335 779 C300 790 270 794 238 794 C170 794 121.6 765 121.6 717 C121.6 670 190 630 317 617 C296 665 340 730 440.3 741 Z" fill="#6d6ab9"/>
<path d="M317 617 C190 630 121.6 670 123 720 C150 752 220 767 255 765 C300 762 350 745 375 737 L436 740 C340 730 296 665 317 617 Z" fill="#a5a3d9"/>
<rect x="368" y="776" width="44" height="512" rx="20" fill="#a5a3d9"/>
<path d="M440.3 741 L440.3 1272 Q440.3 1300 398 1300 Q354.6 1300 354.6 1272 L354.6 805 Q354.6 778 335 779 C300 790 270 794 238 794 C170 794 121.6 765 121.6 717 C121.6 670 190 630 317 617 C296 665 340 730 440.3 741 Z" fill="none" stroke="#2c2766" stroke-width="4.6" stroke-linejoin="round"/>
<g transform="translate(918.4 0) scale(-1 1)">
<path d="M440.3 741 L440.3 1272 Q440.3 1300 398 1300 Q354.6 1300 354.6 1272 L354.6 805 Q354.6 778 335 779 C300 790 270 794 238 794 C170 794 121.6 765 121.6 717 C121.6 670 190 630 317 617 C296 665 340 730 440.3 741 Z" fill="#6d6ab9"/>
<path d="M317 617 C190 630 121.6 670 123 720 C150 752 220 767 255 765 C300 762 350 745 375 737 L436 740 C340 730 296 665 317 617 Z" fill="#a5a3d9"/>
<rect x="368" y="776" width="44" height="512" rx="20" fill="#a5a3d9"/>
<path d="M440.3 741 L440.3 1272 Q440.3 1300 398 1300 Q354.6 1300 354.6 1272 L354.6 805 Q354.6 778 335 779 C300 790 270 794 238 794 C170 794 121.6 765 121.6 717 C121.6 670 190 630 317 617 C296 665 340 730 440.3 741 Z" fill="none" stroke="#2c2766" stroke-width="4.6" stroke-linejoin="round"/>
</g>
<path d="M500.3 475 L413 574.5 L320.4 605.5 M399.2 549 L306.5 572.8 M527.6 499 L440.3 603.9 L432 699.5 M471.4 614 L462.5 702.8" stroke="#2389b5" stroke-width="21" fill="none" stroke-linecap="butt" stroke-linejoin="round"/>
<circle cx="500.3" cy="475" r="10.5" fill="#2389b5"/><circle cx="527.6" cy="499" r="10.5" fill="#2389b5"/>
</g>
<g transform="translate(294 0) scale(0.23846)">
<ellipse cx="440" cy="640" rx="170" ry="135" fill="url(#gCup)"/>
<path d="M440.3 741 L440.3 1272 Q440.3 1300 398 1300 Q354.6 1300 354.6 1272 L354.6 805 Q354.6 778 335 779 C300 790 270 794 238 794 C170 794 121.6 765 121.6 717 C121.6 670 190 630 317 617 C296 665 340 730 440.3 741 Z" fill="#6d6ab9"/>
<path d="M317 617 C190 630 121.6 670 123 720 C150 752 220 767 255 765 C300 762 350 745 375 737 L436 740 C340 730 296 665 317 617 Z" fill="#a5a3d9"/>
<rect x="368" y="776" width="44" height="512" rx="20" fill="#a5a3d9"/>
<path d="M440.3 741 L440.3 1272 Q440.3 1300 398 1300 Q354.6 1300 354.6 1272 L354.6 805 Q354.6 778 335 779 C300 790 270 794 238 794 C170 794 121.6 765 121.6 717 C121.6 670 190 630 317 617 C296 665 340 730 440.3 741 Z" fill="none" stroke="#2c2766" stroke-width="4.6" stroke-linejoin="round"/>
<g transform="translate(918.4 0) scale(-1 1)">
<path d="M440.3 741 L440.3 1272 Q440.3 1300 398 1300 Q354.6 1300 354.6 1272 L354.6 805 Q354.6 778 335 779 C300 790 270 794 238 794 C170 794 121.6 765 121.6 717 C121.6 670 190 630 317 617 C296 665 340 730 440.3 741 Z" fill="#6d6ab9"/>
<path d="M317 617 C190 630 121.6 670 123 720 C150 752 220 767 255 765 C300 762 350 745 375 737 L436 740 C340 730 296 665 317 617 Z" fill="#a5a3d9"/>
<rect x="368" y="776" width="44" height="512" rx="20" fill="#a5a3d9"/>
<path d="M440.3 741 L440.3 1272 Q440.3 1300 398 1300 Q354.6 1300 354.6 1272 L354.6 805 Q354.6 778 335 779 C300 790 270 794 238 794 C170 794 121.6 765 121.6 717 C121.6 670 190 630 317 617 C296 665 340 730 440.3 741 Z" fill="none" stroke="#2c2766" stroke-width="4.6" stroke-linejoin="round"/>
</g>
<path d="M500.3 475 L413 574.5 L320.4 605.5 M399.2 549 L306.5 572.8 M527.6 499 L440.3 603.9 L432 699.5 M471.4 614 L462.5 702.8" stroke="#2389b5" stroke-width="21" fill="none" stroke-linecap="butt" stroke-linejoin="round"/>
<circle cx="500.3" cy="475" r="10.5" fill="#2389b5"/><circle cx="527.6" cy="499" r="10.5" fill="#2389b5"/>
</g>
<text transform="translate(160 295.1) rotate(-90)" x="0" y="0" font-size="36.1" textLength="93.7" lengthAdjust="spacingAndGlyphs">IL7Rα</text>
<text transform="translate(243.5 258.1) rotate(-90)" x="0" y="0" font-size="36.1" textLength="37.6" lengthAdjust="spacingAndGlyphs">γc</text>
<text transform="translate(370.5 295.1) rotate(-90)" x="0" y="0" font-size="36.1" textLength="93.7" lengthAdjust="spacingAndGlyphs">IL7Rα</text>
<text transform="translate(462.7 306.9) rotate(-90)" x="0" y="0" font-size="36.1" textLength="107" lengthAdjust="spacingAndGlyphs">TSLPR</text>
<rect x="885.5" y="222.5" width="244.5" height="56" rx="1.5" fill="#dce6f7" stroke="#3d6cb8" stroke-width="4"/>
<text x="889.1" y="261" font-size="36.1" textLength="238.4" lengthAdjust="spacingAndGlyphs" fill="#000">JAK inhibitors</text>
<path d="M1131 251 H1230" stroke="#5b4690" stroke-width="6.5" fill="none"/>
<path d="M1230 230 V271.5" stroke="#5b4690" stroke-width="6.5" fill="none"/>
<rect x="1241.5" y="200.5" width="151" height="101" rx="50" ry="50.5" fill="#f7f0f6" stroke="#7d57ae" stroke-width="7"/>
<text x="1264.8" y="264.9" font-size="45.8" textLength="106.2" lengthAdjust="spacingAndGlyphs" fill="#000">TSLP</text>
<path d="M1466 251 H1404" stroke="#5b4690" stroke-width="6.5" fill="none"/>
<path d="M1404 230 V271.5" stroke="#5b4690" stroke-width="6.5" fill="none"/>
<rect x="1466" y="218" width="240.5" height="65.5" rx="1.5" fill="#dce6f7" stroke="#3d6cb8" stroke-width="4"/>
<text x="1473" y="263.8" font-size="36.1" textLength="227.4" lengthAdjust="spacingAndGlyphs" fill="#000">Tezepelumab</text>
<rect x="1958.5" y="221.5" width="244" height="56" rx="1.5" fill="#dce6f7" stroke="#3d6cb8" stroke-width="4"/>
<text x="1962" y="259.6" font-size="36.1" textLength="238.6" lengthAdjust="spacingAndGlyphs" fill="#000">JAK inhibitors</text>
<path d="M2203 250 H2302" stroke="#5b4690" stroke-width="6.5" fill="none"/>
<path d="M2302 230 V271.5" stroke="#5b4690" stroke-width="6.5" fill="none"/>
<rect x="2310" y="200.5" width="159.5" height="100.5" rx="52" ry="50.2" fill="#dbeff6" stroke="#2e6f82" stroke-width="8"/>
<text x="2352" y="264.9" font-size="45.8" textLength="75.5" lengthAdjust="spacingAndGlyphs" fill="#000">IL-7</text>
<rect x="416" y="414.5" width="234" height="91" rx="1.5" fill="#dce6f7" stroke="#3d6cb8" stroke-width="4"/>
<text x="453.3" y="451" font-size="35" textLength="159.9" lengthAdjust="spacingAndGlyphs" fill="#000">KHK4083</text>
<text x="426.1" y="493" font-size="35" textLength="216.8" lengthAdjust="spacingAndGlyphs" fill="#000">Telazorlimab</text>
<path d="M534.8 507 V547.3" stroke="#5b4690" stroke-width="7" fill="none"/>
<path d="M513.5 547.3 H555" stroke="#5b4690" stroke-width="6.5" fill="none"/>
<circle cx="172.3" cy="689.7" r="74.9" fill="#8fcea3" stroke="#4faa72" stroke-width="2.2"/>
<circle cx="186.4" cy="692.8" r="42.5" fill="#4ea472"/>
<text x="127.1" y="700" font-size="43.3" textLength="91.8" lengthAdjust="spacingAndGlyphs" fill="#000">Treg</text>
<circle cx="468.2" cy="689.7" r="124" fill="url(#glTh2)"/>
<path d="M377 682 H303" stroke="#5b4690" stroke-width="7" fill="none"/>
<path d="M303 661.5 V703.7" stroke="#5b4690" stroke-width="7" fill="none"/>
<rect x="462" y="551.5" width="303" height="57.5" rx="9" fill="#eef3fb" fill-opacity="0.86" stroke="#a9bcdf" stroke-width="3.6"/>
<path d="M693.2 662.5 L688.1 661.7 L683 660.7 L678 659.4 L672.9 657.9 L668 656.1 L663.1 654.2 L658.2 652.1 L653.3 649.9 L648.5 647.5 L643.8 644.9 L639.1 642.2 L634.4 639.4 L629.7 636.5 L625.1 633.4 A5.5 5.5 0 0 0 618.9 642.6 L618.9 642.6 L623.8 645.7 L628.6 648.8 L633.4 651.7 L638.3 654.6 L643.1 657.4 L648 660.2 L652.8 662.9 L657.7 665.5 L662.5 668.2 L667.4 670.8 L672.2 673.4 L677.1 676.1 L681.9 678.7 L686.8 681.5ZM699.2 652.4 L696.5 649.8 L694.1 647.2 L691.7 644.5 L689.6 641.7 L687.5 639 L685.6 636.2 L683.8 633.4 L682.2 630.6 L680.6 627.9 L679.2 625.1 L677.8 622.3 L676.5 619.6 L675.3 616.9 L674.1 614.3 A4.5 4.5 0 0 0 665.9 617.7 L665.9 617.7 L667.1 620.5 L668.3 623.4 L669.6 626.2 L671 629.1 L672.3 632.1 L673.7 635 L675.2 638.1 L676.6 641.2 L678 644.4 L679.4 647.6 L680.8 651 L682.2 654.4 L683.5 657.9 L684.8 661.6ZM785.7 661.3 L786.8 659.1 L787.9 657.1 L789.1 655.1 L790.3 653.1 L791.5 651.3 L792.8 649.4 L794.1 647.6 L795.4 645.8 L796.7 644.1 L798 642.3 L799.3 640.5 L800.6 638.7 L801.9 636.9 L803.1 635.1 A4.5 4.5 0 0 0 795.7 630.1 L795.7 630.1 L794.5 631.8 L793.3 633.4 L792.1 635.1 L790.8 636.7 L789.5 638.2 L788.1 639.7 L786.6 641.2 L785.1 642.5 L783.5 643.8 L781.8 645 L780.1 646.1 L778.2 647.1 L776.3 648 L774.3 648.7ZM792.2 680.2 L794.2 678.8 L796.1 677.5 L798 676.3 L800 675.3 L801.9 674.3 L803.8 673.4 L805.6 672.5 L807.5 671.7 L809.3 671 L811.1 670.2 L812.9 669.5 L814.7 668.8 L816.4 668.1 L818.1 667.5 A4.5 4.5 0 0 0 814.7 659.1 L814.7 659.1 L813.1 659.8 L811.4 660.4 L809.8 661 L808 661.6 L806.3 662.2 L804.4 662.7 L802.6 663.1 L800.6 663.5 L798.6 663.8 L796.6 664 L794.5 664.2 L792.3 664.2 L790.1 664 L787.8 663.8ZM797.9 714 L801.3 711.9 L804.7 709.8 L808 707.8 L811.2 705.8 L814.3 703.9 L817.3 701.9 L820.2 700 L823.1 698.1 L825.9 696.1 L828.6 694.1 L831.2 692.1 L833.8 690 L836.2 687.8 L838.5 685.5 A5 5 0 0 0 831.5 678.5 L831.5 678.5 L829.4 680.4 L827.3 682.3 L825 684.2 L822.6 685.9 L820.1 687.5 L817.5 689.1 L814.8 690.5 L811.9 691.8 L808.9 692.9 L805.8 693.9 L802.5 694.7 L799.2 695.3 L795.7 695.8 L792.1 696ZM786.6 743.9 L791.3 744.7 L795.6 745.7 L799.6 747 L803.2 748.6 L806.5 750.4 L809.4 752.4 L812 754.6 L814.2 757 L816.1 759.5 L817.6 762.1 L818.8 764.9 L819.7 767.9 L820.2 770.9 L820.5 774.2 A4.5 4.5 0 0 0 829.5 773.8 L829.5 773.8 L829.2 769.8 L828.4 765.8 L827.3 762 L825.9 758.3 L824.1 754.7 L822 751.2 L819.5 747.9 L816.7 744.6 L813.6 741.5 L810.2 738.4 L806.5 735.3 L802.5 732.2 L798.1 729.2 L793.4 726.1ZM728.7 766.9 L730.6 771 L732.4 775.2 L734.2 779.4 L735.8 783.5 L737.4 787.7 L738.9 791.8 L740.4 796 L741.9 800.2 L743.3 804.3 L744.8 808.5 L746.2 812.6 L747.7 816.8 L749.2 820.9 L750.8 825 A4.5 4.5 0 0 0 759.2 821.8 L759.2 821.8 L757.7 817.8 L756.2 813.7 L754.8 809.7 L753.5 805.6 L752.2 801.5 L751.1 797.4 L750.1 793.2 L749.2 789 L748.4 784.8 L747.9 780.5 L747.4 776.2 L747.2 771.9 L747.1 767.5 L747.3 763.1ZM703.8 758.4 L701.2 763.9 L698.8 769.4 L696.6 774.7 L694.6 780 L692.8 785.3 L691.1 790.6 L689.7 796 L688.4 801.4 L687.4 806.8 L686.6 812.3 L686.1 817.9 L685.7 823.6 L685.7 829.4 L685.9 835.3 A4.5 4.5 0 0 0 694.9 834.7 L694.9 834.7 L694.7 829.3 L694.8 823.9 L695.1 818.7 L695.7 813.6 L696.7 808.6 L697.9 803.7 L699.5 799 L701.4 794.5 L703.7 790.1 L706.3 785.9 L709.2 781.9 L712.5 778.2 L716.2 774.7 L720.2 771.6Z" fill="#cfb9de" stroke="#b9a0cd" stroke-width="3.2" stroke-linejoin="round"/>
<path d="M693.2 662.5 L688.1 661.7 L683 660.7 L678 659.4 L672.9 657.9 L668 656.1 L663.1 654.2 L658.2 652.1 L653.3 649.9 L648.5 647.5 L643.8 644.9 L639.1 642.2 L634.4 639.4 L629.7 636.5 L625.1 633.4 A5.5 5.5 0 0 0 618.9 642.6 L618.9 642.6 L623.8 645.7 L628.6 648.8 L633.4 651.7 L638.3 654.6 L643.1 657.4 L648 660.2 L652.8 662.9 L657.7 665.5 L662.5 668.2 L667.4 670.8 L672.2 673.4 L677.1 676.1 L681.9 678.7 L686.8 681.5ZM699.2 652.4 L696.5 649.8 L694.1 647.2 L691.7 644.5 L689.6 641.7 L687.5 639 L685.6 636.2 L683.8 633.4 L682.2 630.6 L680.6 627.9 L679.2 625.1 L677.8 622.3 L676.5 619.6 L675.3 616.9 L674.1 614.3 A4.5 4.5 0 0 0 665.9 617.7 L665.9 617.7 L667.1 620.5 L668.3 623.4 L669.6 626.2 L671 629.1 L672.3 632.1 L673.7 635 L675.2 638.1 L676.6 641.2 L678 644.4 L679.4 647.6 L680.8 651 L682.2 654.4 L683.5 657.9 L684.8 661.6ZM785.7 661.3 L786.8 659.1 L787.9 657.1 L789.1 655.1 L790.3 653.1 L791.5 651.3 L792.8 649.4 L794.1 647.6 L795.4 645.8 L796.7 644.1 L798 642.3 L799.3 640.5 L800.6 638.7 L801.9 636.9 L803.1 635.1 A4.5 4.5 0 0 0 795.7 630.1 L795.7 630.1 L794.5 631.8 L793.3 633.4 L792.1 635.1 L790.8 636.7 L789.5 638.2 L788.1 639.7 L786.6 641.2 L785.1 642.5 L783.5 643.8 L781.8 645 L780.1 646.1 L778.2 647.1 L776.3 648 L774.3 648.7ZM792.2 680.2 L794.2 678.8 L796.1 677.5 L798 676.3 L800 675.3 L801.9 674.3 L803.8 673.4 L805.6 672.5 L807.5 671.7 L809.3 671 L811.1 670.2 L812.9 669.5 L814.7 668.8 L816.4 668.1 L818.1 667.5 A4.5 4.5 0 0 0 814.7 659.1 L814.7 659.1 L813.1 659.8 L811.4 660.4 L809.8 661 L808 661.6 L806.3 662.2 L804.4 662.7 L802.6 663.1 L800.6 663.5 L798.6 663.8 L796.6 664 L794.5 664.2 L792.3 664.2 L790.1 664 L787.8 663.8ZM797.9 714 L801.3 711.9 L804.7 709.8 L808 707.8 L811.2 705.8 L814.3 703.9 L817.3 701.9 L820.2 700 L823.1 698.1 L825.9 696.1 L828.6 694.1 L831.2 692.1 L833.8 690 L836.2 687.8 L838.5 685.5 A5 5 0 0 0 831.5 678.5 L831.5 678.5 L829.4 680.4 L827.3 682.3 L825 684.2 L822.6 685.9 L820.1 687.5 L817.5 689.1 L814.8 690.5 L811.9 691.8 L808.9 692.9 L805.8 693.9 L802.5 694.7 L799.2 695.3 L795.7 695.8 L792.1 696ZM786.6 743.9 L791.3 744.7 L795.6 745.7 L799.6 747 L803.2 748.6 L806.5 750.4 L809.4 752.4 L812 754.6 L814.2 757 L816.1 759.5 L817.6 762.1 L818.8 764.9 L819.7 767.9 L820.2 770.9 L820.5 774.2 A4.5 4.5 0 0 0 829.5 773.8 L829.5 773.8 L829.2 769.8 L828.4 765.8 L827.3 762 L825.9 758.3 L824.1 754.7 L822 751.2 L819.5 747.9 L816.7 744.6 L813.6 741.5 L810.2 738.4 L806.5 735.3 L802.5 732.2 L798.1 729.2 L793.4 726.1ZM728.7 766.9 L730.6 771 L732.4 775.2 L734.2 779.4 L735.8 783.5 L737.4 787.7 L738.9 791.8 L740.4 796 L741.9 800.2 L743.3 804.3 L744.8 808.5 L746.2 812.6 L747.7 816.8 L749.2 820.9 L750.8 825 A4.5 4.5 0 0 0 759.2 821.8 L759.2 821.8 L757.7 817.8 L756.2 813.7 L754.8 809.7 L753.5 805.6 L752.2 801.5 L751.1 797.4 L750.1 793.2 L749.2 789 L748.4 784.8 L747.9 780.5 L747.4 776.2 L747.2 771.9 L747.1 767.5 L747.3 763.1ZM703.8 758.4 L701.2 763.9 L698.8 769.4 L696.6 774.7 L694.6 780 L692.8 785.3 L691.1 790.6 L689.7 796 L688.4 801.4 L687.4 806.8 L686.6 812.3 L686.1 817.9 L685.7 823.6 L685.7 829.4 L685.9 835.3 A4.5 4.5 0 0 0 694.9 834.7 L694.9 834.7 L694.7 829.3 L694.8 823.9 L695.1 818.7 L695.7 813.6 L696.7 808.6 L697.9 803.7 L699.5 799 L701.4 794.5 L703.7 790.1 L706.3 785.9 L709.2 781.9 L712.5 778.2 L716.2 774.7 L720.2 771.6Z" fill="#cfb9de"/>
<path d="M732.8 652.5 L729.8 649.1 L727.1 645.8 L724.8 642.4 L722.9 639.2 L721.3 635.9 L720 632.8 L718.9 629.7 L718 626.7 L717.3 623.8 L716.7 621 L716.3 618.2 L716 615.6 L715.7 613 L715.5 610.6 A5 5 0 0 0 705.5 611.4 L705.5 611.4 L705.7 614 L706 616.6 L706.2 619.3 L706.4 622.1 L706.5 625 L706.5 628.1 L706.4 631.3 L706.1 634.6 L705.6 638 L704.9 641.6 L704 645.3 L702.7 649.2 L701.1 653.3 L699.2 657.5ZM759 652 L756.7 648.2 L754.7 644.5 L753.1 640.8 L751.7 637.3 L750.7 633.9 L749.8 630.5 L749.2 627.2 L748.7 624.1 L748.4 621 L748.2 618 L748.1 615.1 L748 612.3 L748 609.6 L748 607 A5 5 0 0 0 738 607 L738 607 L738 609.6 L738 612.3 L737.9 615.1 L737.8 618 L737.6 621 L737.3 624.1 L736.8 627.2 L736.2 630.5 L735.3 633.9 L734.3 637.3 L732.9 640.8 L731.3 644.5 L729.3 648.2 L727 652ZM784.9 661.8 L782.7 656.2 L781 650.7 L779.8 645.3 L779.1 640.2 L778.7 635.2 L778.7 630.4 L779 625.8 L779.6 621.4 L780.4 617.2 L781.5 613.2 L782.7 609.4 L784.1 605.8 L785.6 602.4 L787.2 599.2 A4.8 4.8 0 0 0 778.8 594.8 L778.8 594.8 L777 598.3 L775.3 602 L773.7 605.9 L772.1 609.9 L770.4 614 L768.8 618.3 L767 622.7 L765.1 627.3 L763.1 632 L760.8 636.9 L758.3 641.9 L755.6 647.2 L752.5 652.6 L749.1 658.2ZM680.5 706.7 L676.9 712.2 L673.3 716.9 L669.5 720.8 L665.8 724.1 L662 726.7 L658.3 728.6 L654.7 729.9 L651.2 730.6 L647.9 730.8 L644.8 730.4 L641.9 729.6 L639.2 728.3 L636.6 726.5 L634.2 724.4 A4.5 4.5 0 0 0 627.8 730.6 L627.8 730.6 L631 733.6 L634.5 736 L638.3 738 L642.3 739.6 L646.6 740.7 L651.1 741.4 L655.8 741.8 L660.8 741.9 L666.2 741.7 L671.9 741.2 L678.1 740.5 L684.7 739.6 L691.9 738.5 L699.5 737.3ZM688.6 724.8 L685.8 730.5 L682.6 735.8 L679.2 740.8 L675.4 745.5 L671.4 750 L667.2 754.2 L662.8 758.3 L658.2 762.2 L653.4 765.9 L648.5 769.5 L643.5 773.1 L638.4 776.5 L633.2 780 L628 783.4 A5.5 5.5 0 0 0 634 792.6 L634 792.6 L639.3 789.2 L644.5 785.8 L649.7 782.4 L654.9 779 L660.2 775.8 L665.4 772.7 L670.7 769.7 L676.1 766.9 L681.6 764.3 L687.2 761.9 L693 759.8 L698.9 757.9 L705 756.4 L711.4 755.2ZM744.9 751.5 L749.2 756 L753.2 760.2 L757 764.2 L760.6 767.9 L764 771.4 L767.2 774.7 L770.4 777.7 L773.5 780.6 L776.6 783.3 L779.7 785.7 L782.9 788 L786.2 790 L789.6 791.7 L793.1 793.2 A5.5 5.5 0 0 0 796.9 782.8 L796.9 782.8 L794.2 781.7 L791.7 780.4 L789.3 778.8 L787 776.9 L784.8 774.7 L782.9 772.1 L781.1 769.3 L779.7 766.1 L778.6 762.6 L777.8 758.7 L777.4 754.6 L777.5 750.1 L778 745.4 L779.1 740.5Z" fill="#a67dc1" stroke="#70498f" stroke-width="4.4" stroke-linejoin="round"/>
<circle cx="733.5" cy="706" r="74.6" fill="#70498f"/>
<path d="M732.8 652.5 L729.8 649.1 L727.1 645.8 L724.8 642.4 L722.9 639.2 L721.3 635.9 L720 632.8 L718.9 629.7 L718 626.7 L717.3 623.8 L716.7 621 L716.3 618.2 L716 615.6 L715.7 613 L715.5 610.6 A5 5 0 0 0 705.5 611.4 L705.5 611.4 L705.7 614 L706 616.6 L706.2 619.3 L706.4 622.1 L706.5 625 L706.5 628.1 L706.4 631.3 L706.1 634.6 L705.6 638 L704.9 641.6 L704 645.3 L702.7 649.2 L701.1 653.3 L699.2 657.5ZM759 652 L756.7 648.2 L754.7 644.5 L753.1 640.8 L751.7 637.3 L750.7 633.9 L749.8 630.5 L749.2 627.2 L748.7 624.1 L748.4 621 L748.2 618 L748.1 615.1 L748 612.3 L748 609.6 L748 607 A5 5 0 0 0 738 607 L738 607 L738 609.6 L738 612.3 L737.9 615.1 L737.8 618 L737.6 621 L737.3 624.1 L736.8 627.2 L736.2 630.5 L735.3 633.9 L734.3 637.3 L732.9 640.8 L731.3 644.5 L729.3 648.2 L727 652ZM784.9 661.8 L782.7 656.2 L781 650.7 L779.8 645.3 L779.1 640.2 L778.7 635.2 L778.7 630.4 L779 625.8 L779.6 621.4 L780.4 617.2 L781.5 613.2 L782.7 609.4 L784.1 605.8 L785.6 602.4 L787.2 599.2 A4.8 4.8 0 0 0 778.8 594.8 L778.8 594.8 L777 598.3 L775.3 602 L773.7 605.9 L772.1 609.9 L770.4 614 L768.8 618.3 L767 622.7 L765.1 627.3 L763.1 632 L760.8 636.9 L758.3 641.9 L755.6 647.2 L752.5 652.6 L749.1 658.2ZM680.5 706.7 L676.9 712.2 L673.3 716.9 L669.5 720.8 L665.8 724.1 L662 726.7 L658.3 728.6 L654.7 729.9 L651.2 730.6 L647.9 730.8 L644.8 730.4 L641.9 729.6 L639.2 728.3 L636.6 726.5 L634.2 724.4 A4.5 4.5 0 0 0 627.8 730.6 L627.8 730.6 L631 733.6 L634.5 736 L638.3 738 L642.3 739.6 L646.6 740.7 L651.1 741.4 L655.8 741.8 L660.8 741.9 L666.2 741.7 L671.9 741.2 L678.1 740.5 L684.7 739.6 L691.9 738.5 L699.5 737.3ZM688.6 724.8 L685.8 730.5 L682.6 735.8 L679.2 740.8 L675.4 745.5 L671.4 750 L667.2 754.2 L662.8 758.3 L658.2 762.2 L653.4 765.9 L648.5 769.5 L643.5 773.1 L638.4 776.5 L633.2 780 L628 783.4 A5.5 5.5 0 0 0 634 792.6 L634 792.6 L639.3 789.2 L644.5 785.8 L649.7 782.4 L654.9 779 L660.2 775.8 L665.4 772.7 L670.7 769.7 L676.1 766.9 L681.6 764.3 L687.2 761.9 L693 759.8 L698.9 757.9 L705 756.4 L711.4 755.2ZM744.9 751.5 L749.2 756 L753.2 760.2 L757 764.2 L760.6 767.9 L764 771.4 L767.2 774.7 L770.4 777.7 L773.5 780.6 L776.6 783.3 L779.7 785.7 L782.9 788 L786.2 790 L789.6 791.7 L793.1 793.2 A5.5 5.5 0 0 0 796.9 782.8 L796.9 782.8 L794.2 781.7 L791.7 780.4 L789.3 778.8 L787 776.9 L784.8 774.7 L782.9 772.1 L781.1 769.3 L779.7 766.1 L778.6 762.6 L777.8 758.7 L777.4 754.6 L777.5 750.1 L778 745.4 L779.1 740.5Z" fill="#a67dc1"/>
<circle cx="733.5" cy="706" r="72.4" fill="#a67dc1"/>
<circle cx="733" cy="705.8" r="37.6" fill="#734b90"/>
<circle cx="468.2" cy="689.7" r="74.9" fill="#8fcea3" stroke="#4faa72" stroke-width="2.2"/>
<circle cx="482.7" cy="694.5" r="42.5" fill="#3f9f68"/>
<g>
<rect x="524" y="658.5" width="27" height="13" rx="2" fill="#35a690" opacity="0.7" filter="url(#fBlur)"/>
<path d="M550 661.5 H682 M550 665.4 H682 M550 669.2 H682" stroke="#2a9aa5" stroke-width="1.4" fill="none"/>
<rect x="578" y="656.7" width="16.5" height="17" rx="5" fill="#1f9ba3"/>
<rect x="592.5" y="657.2" width="16.5" height="16" rx="5" fill="#1a929b"/>
<rect x="607" y="656.7" width="16.5" height="17" rx="5" fill="#1f9ba3"/>
<rect x="621.5" y="657.2" width="16.5" height="16" rx="5" fill="#1a929b"/>
<rect x="636" y="656.5" width="16.5" height="17.5" rx="5" fill="#1f9ba3"/>
<path d="M600 688 H672 M640 701 H672 M640 710 H672" stroke="#4a3a7a" stroke-width="1.6" fill="none"/>
<path d="M546 701 H572 M546 710.5 H572" stroke="#a04050" stroke-width="1.6" fill="none"/>
<rect x="570" y="684" width="16" height="12" rx="2" fill="#9a88b6"/><rect x="587" y="683" width="15" height="11" rx="2" fill="#9a82bd"/>
<rect x="610" y="683.5" width="16" height="9.5" rx="2" fill="#9b7fc2"/><rect x="628" y="683.5" width="16" height="9.5" rx="2" fill="#9b7fc2"/>
<rect x="572" y="696.5" width="30" height="8" rx="2" fill="#e0607c"/><rect x="572" y="706.5" width="30" height="8" rx="2" fill="#e0607c"/>
<rect x="604" y="696.5" width="17" height="8" rx="2" fill="#2a7fb2"/><rect x="622" y="696.5" width="17" height="8" rx="2" fill="#2a7fb2"/>
<rect x="604" y="706.5" width="17" height="8" rx="2" fill="#2a7fb2"/><rect x="622" y="706.5" width="17" height="8" rx="2" fill="#2a7fb2"/>
<circle cx="597.4" cy="704.8" r="4.2" fill="#c2185b" stroke="#fff" stroke-width="1.3"/>
</g>
<text x="425.6" y="703" font-size="43.3" textLength="77.7" lengthAdjust="spacingAndGlyphs" fill="#000">Th2</text>
<text x="706.9" y="718" font-size="41.2" textLength="59.1" lengthAdjust="spacingAndGlyphs" fill="#000">DC</text>
<text x="472.7" y="598" font-size="43.3" textLength="278.7" lengthAdjust="spacingAndGlyphs" fill="#111">OX40 - OX40L</text>
<path d="M792 581 H754" stroke="#5b4690" stroke-width="6.5" fill="none"/>
<path d="M754 561.4 V602" stroke="#5b4690" stroke-width="6.5" fill="none"/>
<rect x="792" y="553.7" width="212.5" height="51.3" rx="1.5" fill="#dce6f7" stroke="#3d6cb8" stroke-width="4"/>
<text x="797.2" y="589.6" font-size="35" textLength="203.7" lengthAdjust="spacingAndGlyphs" fill="#000">Amlitelimab</text>
<path d="M177 829 V798" stroke="#222" stroke-width="5" fill="none"/>
<path d="M177 779.6 L165.2 802.6 L188.8 802.6 Z" fill="#222"/>
<rect x="110" y="845.3" width="134.7" height="53.9" rx="1.5" fill="#d5efec" stroke="#1c9a94" stroke-width="4"/>
<text x="124.9" y="886.2" font-size="43.3" textLength="105.3" lengthAdjust="spacingAndGlyphs" fill="#000">IL-2R</text>
<path d="M177 958.4 V924.7" stroke="#222" stroke-width="5" fill="none"/>
<path d="M177 906.3 L165.2 929.3 L188.8 929.3 Z" fill="#222"/>
<rect x="60.7" y="971.6" width="232.7" height="55.6" rx="1.5" fill="#dce6f7" stroke="#3d6cb8" stroke-width="4"/>
<text x="83.4" y="1008.8" font-size="37.1" textLength="187" lengthAdjust="spacingAndGlyphs" fill="#000">LY3471851</text>
<path d="M491.8 794.5 V933.1" stroke="#222" stroke-width="5" fill="none"/>
<path d="M491.8 951.5 L480.1 928.5 L503.6 928.5 Z" fill="#222"/>
<rect x="466.7" y="971.4" width="368.8" height="72.2" rx="1.5" fill="url(#gIL4)" stroke="#55a846" stroke-width="4"/>
<rect x="517.6" y="858.7" width="207.1" height="65.4" rx="1.5" fill="#dce6f7" stroke="#3d6cb8" stroke-width="4"/>
<text x="529" y="902.5" font-size="36.1" textLength="181.8" lengthAdjust="spacingAndGlyphs" fill="#000">Dupilumab</text>
<path d="M579.6 925 V965.2" stroke="#5b4690" stroke-width="7" fill="none"/>
<path d="M510.6 965.2 H648.6" stroke="#5b4690" stroke-width="7" fill="none"/>
<rect x="743.1" y="855.9" width="245.5" height="64.3" rx="1.5" fill="#dce6f7" stroke="#3d6cb8" stroke-width="4"/>
<text x="745.9" y="899.7" font-size="36.1" textLength="234.3" lengthAdjust="spacingAndGlyphs" fill="#000">Nemolizumab</text>
<path d="M781.4 921 V976.5" stroke="#5b4690" stroke-width="7" fill="none"/>
<path d="M760.6 976.5 H802.2" stroke="#5b4690" stroke-width="7.5" fill="none"/>
<text x="492.6" y="1018.6" font-size="42.2" textLength="325.4" lengthAdjust="spacingAndGlyphs" fill="#000">IL-4, IL-13, IL-31</text>
<path d="M617 1084.5 H630.7 V1029" stroke="#5b4690" stroke-width="7" fill="none"/>
<path d="M610 1029 H651.7" stroke="#5b4690" stroke-width="7" fill="none"/>
<rect x="351.4" y="1063.7" width="264.4" height="99.3" rx="1.5" fill="#dce6f7" stroke="#3d6cb8" stroke-width="4"/>
<text x="365.1" y="1104.7" font-size="36.1" textLength="233.2" lengthAdjust="spacingAndGlyphs" fill="#000">Tralokinumab</text>
<text x="365.9" y="1147.8" font-size="36.1" textLength="228.9" lengthAdjust="spacingAndGlyphs" fill="#000">Lebrikizumab</text>
<circle cx="1193" cy="705" r="122" fill="url(#glTh22)"/>
<circle cx="1193" cy="705.2" r="70.9" fill="#8ccbe3" stroke="#4fa9cd" stroke-width="2.2"/>
<circle cx="1206" cy="707.8" r="40.5" fill="#4ea3c8"/>
<text x="1147.5" y="680.4" font-size="43.3" textLength="102.7" lengthAdjust="spacingAndGlyphs" fill="#000">Th22</text>
<path d="M1194.3 800.3 V939.3" stroke="#222" stroke-width="5" fill="none"/>
<path d="M1194.3 957.7 L1182.5 934.7 L1206 934.7 Z" fill="#222"/>
<rect x="1127.7" y="971.3" width="134.8" height="69" rx="1.5" fill="url(#gIL22)" stroke="#3f86c9" stroke-width="4.6" fill-opacity="0.88"/>
<text x="1140.9" y="1016" font-size="43.3" textLength="104" lengthAdjust="spacingAndGlyphs" fill="#000">IL-22</text>
<path d="M1191.2 1083.5 V1050" stroke="#5b4690" stroke-width="7" fill="none"/>
<path d="M1170.3 1050 H1212.6" stroke="#5b4690" stroke-width="7" fill="none"/>
<rect x="1097.7" y="1085.6" width="258.1" height="62.7" rx="1.5" fill="#dce6f7" stroke="#3d6cb8" stroke-width="4"/>
<text x="1107.7" y="1125.5" font-size="36.1" textLength="227.2" lengthAdjust="spacingAndGlyphs" fill="#000">Fezakinumab</text>
<text x="1420" y="571" font-size="41.2" textLength="161.5" lengthAdjust="spacingAndGlyphs" fill="#000">Sensory</text>
<text x="1420" y="620.5" font-size="41.2" textLength="137.5" lengthAdjust="spacingAndGlyphs" fill="#000">neuron</text>
<path d="M1463 792 C1463 760 1470 748 1478.4 738.4 C1490 726 1500 722 1509 718 C1522 712 1532 709 1539.7 704.3 C1550 697 1556 688 1560 680.5 C1565 671 1568 665 1568.6 656" stroke="url(#gNeu)" stroke-width="5.6" fill="none" stroke-linecap="round"/>
<path d="M1568.6 660 C1569 650 1569 646 1568.6 643 C1567 635 1565 631 1561.8 626 C1557 619 1552 614 1546.5 609 C1540 603 1534 598 1529.4 592 C1525 586 1522 580 1521 573.2 L1519 566.4" stroke="#d9565c" fill="none" stroke-linecap="round" stroke-linejoin="round" stroke-width="4.6"/>
<path d="M1568.6 643 C1571 636 1573 631 1575.4 626 C1578 620 1580 615 1580.5 609 C1581 603 1578 600 1573.7 597 L1566.9 592.6" stroke="#d9565c" fill="none" stroke-linecap="round" stroke-linejoin="round" stroke-width="4"/>
<path d="M1577 621 C1580 615 1583 612 1587.3 609 C1592 606 1597 604 1602.7 602" stroke="#d9565c" fill="none" stroke-linecap="round" stroke-linejoin="round" stroke-width="4"/>
<path d="M1566 664 C1572 659 1578 657.5 1584 656.6 C1592 655.5 1600 655.5 1607.8 656 C1615 656.5 1622 658 1628.2 660 C1636 663 1642 668 1648.6 673.7 C1654 678 1660 681 1665.7 683.9" stroke="#d9565c" fill="none" stroke-linecap="round" stroke-linejoin="round" stroke-width="4.6"/>
<path d="M1628.2 660 C1634 656 1638 653 1641.8 649.8 C1644 646 1644.5 643 1643.5 639.6 L1638.4 634.5" stroke="#d9565c" fill="none" stroke-linecap="round" stroke-linejoin="round" stroke-width="3.8"/>
<g fill="#d9565c"><circle cx="1519" cy="566" r="3.6"/><circle cx="1566.5" cy="592.3" r="4.2"/><circle cx="1603" cy="602" r="4.4"/><circle cx="1638" cy="634" r="4.2"/><circle cx="1666" cy="684" r="4.4"/></g>
<path d="M1518.6 959.4 V819.1" stroke="#222" stroke-width="5" fill="none"/>
<path d="M1518.6 800.7 L1506.8 823.7 L1530.3 823.7 Z" fill="#222"/>
<rect x="1445.3" y="971.3" width="147.8" height="73.3" rx="1.5" fill="url(#gIL33)" stroke="#d666b3" stroke-width="4.6" fill-opacity="0.9" stroke-opacity="0.92"/>
<text x="1470.9" y="1018.7" font-size="43.3" textLength="103.2" lengthAdjust="spacingAndGlyphs" fill="#000">IL-33</text>
<path d="M1519 1088 V1048.3" stroke="#5b4690" stroke-width="7" fill="none"/>
<path d="M1498 1048.3 H1539.6" stroke="#5b4690" stroke-width="7" fill="none"/>
<rect x="1421.7" y="1087" width="195.3" height="60.5" rx="1.5" fill="#dce6f7" stroke="#3d6cb8" stroke-width="4"/>
<text x="1432.4" y="1128.5" font-size="36.1" textLength="176.2" lengthAdjust="spacingAndGlyphs" fill="#000">MEDI3506</text>
<ellipse cx="1887.2" cy="692.6" rx="89" ry="85" fill="#44a5e0" stroke="#3b82c9" stroke-width="3.2"/>
<text x="1838.5" y="703.5" font-size="44.3" textLength="89.3" lengthAdjust="spacingAndGlyphs" fill="#2b2b2b">ILC2</text>
<path d="M1887.4 800.2 V939.2" stroke="#222" stroke-width="5" fill="none"/>
<path d="M1887.4 957.6 L1875.7 934.6 L1899.2 934.6 Z" fill="#222"/>
<rect x="1774.2" y="970.1" width="226" height="67.4" rx="1.5" fill="#dcf1ee" stroke="#256b5e" stroke-width="5"/>
<text x="1783.1" y="1016" font-size="43.3" textLength="204.3" lengthAdjust="spacingAndGlyphs" fill="#000">IL-5, IL-13</text>
<circle cx="2217" cy="696" r="116" fill="url(#glTh1)"/>
<circle cx="2219.4" cy="694.7" r="70.2" fill="#f0bd86" stroke="#e19c5c" stroke-width="2.2"/>
<circle cx="2231.8" cy="699" r="40" fill="#e8a070"/>
<text x="2175.4" y="691.7" font-size="43.3" textLength="73.5" lengthAdjust="spacingAndGlyphs" fill="#000">Th1</text>
<path d="M2219.6 800.2 V939.2" stroke="#222" stroke-width="5" fill="none"/>
<path d="M2219.6 957.6 L2207.8 934.6 L2231.3 934.6 Z" fill="#222"/>
<rect x="2096.5" y="972.6" width="246.6" height="71.9" rx="1.5" fill="url(#gTNF)" stroke="#e08a30" stroke-width="4" fill-opacity="0.95"/>
<text x="2110" y="1021.7" font-size="43.3" textLength="219.6" lengthAdjust="spacingAndGlyphs" fill="#000">TNFα, IFNγ</text>
<path d="M2502.8 624 C2495 608 2489 600 2482 591.6 C2473 581 2466 573 2462.5 565.4 C2459 558 2459 553 2464.5 552" stroke="#6e8fd6" stroke-width="13.5" fill="none" stroke-linecap="round" stroke-linejoin="round"/>
<path d="M2502.8 624 C2508 610 2512 604 2517 598 C2525 588 2531 577 2532.2 565.4 C2533 556 2529 547 2525.7 539.2 C2521 530 2516 523 2512.6 515.3" stroke="#6e8fd6" stroke-width="13.8" fill="none" stroke-linecap="round" stroke-linejoin="round"/>
<path d="M2533 563 C2540 557 2546 554 2551.8 552.3 C2557 550.5 2562 549.5 2567 549" stroke="#6e8fd6" stroke-width="12.4" fill="none" stroke-linecap="round" stroke-linejoin="round"/>
<path d="M2541 683 C2550 675 2558 668 2567 663.5 C2578 658 2589 655 2599.8 650.4 C2612 645 2623 639 2632.5 630.8 C2642 621 2649 610 2654.3 598 C2660 586 2665 575 2671.7 565.4 C2678 557 2687 552 2697.9 550" stroke="#6e8fd6" stroke-width="14.2" fill="none" stroke-linecap="round" stroke-linejoin="round"/>
<path d="M2599.8 648 C2600 634 2601 621 2602 609 C2603 597 2605 586 2606.3 576.3 C2607 567 2607.4 559 2607.4 551.2" stroke="#6e8fd6" stroke-width="12.8" fill="none" stroke-linecap="round" stroke-linejoin="round"/>
<path d="M2596 607 C2590 599 2584 593 2578 587.2 C2573 582.5 2569 578.5 2565 575.2" stroke="#6e8fd6" stroke-width="11.8" fill="none" stroke-linecap="round" stroke-linejoin="round"/>
<path d="M2671.7 572 C2679 577 2686 582 2691.3 587.2 C2698 594 2704 601 2708.8 609" stroke="#6e8fd6" stroke-width="12.8" fill="none" stroke-linecap="round" stroke-linejoin="round"/>
<path d="M2650 607 C2657 612 2662 617 2665.2 622 C2666.5 625 2666.5 628 2666.3 630.8" stroke="#6e8fd6" stroke-width="12" fill="none" stroke-linecap="round" stroke-linejoin="round"/>
<circle cx="2463.5" cy="552.5" r="7.9" fill="#6e8fd6"/>
<circle cx="2565" cy="575.2" r="7.7" fill="#6e8fd6"/>
<circle cx="2708.8" cy="609" r="8.5" fill="#6e8fd6"/>
<circle cx="2567" cy="549" r="6.7" fill="#6e8fd6"/>
<circle cx="2697.9" cy="550" r="7.5" fill="#6e8fd6"/>
<path d="M2518 701.5 L2515.9 694.9 L2514.2 688.5 L2512.6 682.1 L2511.2 675.8 L2510.1 669.5 L2509.2 663.4 L2508.5 657.2 L2507.9 651.2 L2507.6 645.3 L2507.5 639.4 L2507.5 633.6 L2507.7 627.8 L2508 622.2 L2508.5 616.6 A5.8 5.8 0 0 0 2497.1 615.4 L2497.1 615.4 L2496.5 621.1 L2495.8 626.7 L2494.9 632.4 L2493.9 638.2 L2492.8 644 L2491.4 649.8 L2489.9 655.8 L2488.3 661.7 L2486.4 667.7 L2484.3 673.8 L2482.1 679.9 L2479.6 686 L2476.9 692.3 L2474 698.5ZM2541.5 723.6 L2542.7 717.8 L2544.2 712.1 L2546 706.6 L2548.1 701.4 L2550.5 696.4 L2553.2 691.7 L2556.1 687.2 L2559.3 683 L2562.7 679.1 L2566.3 675.4 L2570.1 672.1 L2574.1 669.1 L2578.3 666.3 L2582.6 663.9 A5.5 5.5 0 0 0 2577.4 654.1 L2577.4 654.1 L2572.7 656.7 L2567.9 659.4 L2563.2 662.2 L2558.5 665.1 L2553.7 668.1 L2548.8 671.1 L2543.9 674.3 L2538.9 677.6 L2533.8 681 L2528.6 684.6 L2523.3 688.3 L2517.8 692.1 L2512.2 696.2 L2506.5 700.4Z" fill="#6e8fd6" stroke="#6e8fd6" stroke-width="4.2" stroke-linejoin="round"/>
<circle cx="2492.4" cy="730.6" r="58.4" fill="#6e8fd6"/>
<path d="M2502.8 624 C2495 608 2489 600 2482 591.6 C2473 581 2466 573 2462.5 565.4 C2459 558 2459 553 2464.5 552" stroke="#bcc7e5" stroke-width="9.3" fill="none" stroke-linecap="round" stroke-linejoin="round"/>
<path d="M2502.8 624 C2508 610 2512 604 2517 598 C2525 588 2531 577 2532.2 565.4 C2533 556 2529 547 2525.7 539.2 C2521 530 2516 523 2512.6 515.3" stroke="#bcc7e5" stroke-width="9.6" fill="none" stroke-linecap="round" stroke-linejoin="round"/>
<path d="M2533 563 C2540 557 2546 554 2551.8 552.3 C2557 550.5 2562 549.5 2567 549" stroke="#bcc7e5" stroke-width="8.2" fill="none" stroke-linecap="round" stroke-linejoin="round"/>
<path d="M2541 683 C2550 675 2558 668 2567 663.5 C2578 658 2589 655 2599.8 650.4 C2612 645 2623 639 2632.5 630.8 C2642 621 2649 610 2654.3 598 C2660 586 2665 575 2671.7 565.4 C2678 557 2687 552 2697.9 550" stroke="#bcc7e5" stroke-width="10" fill="none" stroke-linecap="round" stroke-linejoin="round"/>
<path d="M2599.8 648 C2600 634 2601 621 2602 609 C2603 597 2605 586 2606.3 576.3 C2607 567 2607.4 559 2607.4 551.2" stroke="#bcc7e5" stroke-width="8.6" fill="none" stroke-linecap="round" stroke-linejoin="round"/>
<path d="M2596 607 C2590 599 2584 593 2578 587.2 C2573 582.5 2569 578.5 2565 575.2" stroke="#bcc7e5" stroke-width="7.6" fill="none" stroke-linecap="round" stroke-linejoin="round"/>
<path d="M2671.7 572 C2679 577 2686 582 2691.3 587.2 C2698 594 2704 601 2708.8 609" stroke="#bcc7e5" stroke-width="8.6" fill="none" stroke-linecap="round" stroke-linejoin="round"/>
<path d="M2650 607 C2657 612 2662 617 2665.2 622 C2666.5 625 2666.5 628 2666.3 630.8" stroke="#bcc7e5" stroke-width="7.8" fill="none" stroke-linecap="round" stroke-linejoin="round"/>
<circle cx="2463.5" cy="552.5" r="5.8" fill="#bcc7e5"/>
<circle cx="2565" cy="575.2" r="5.6" fill="#bcc7e5"/>
<circle cx="2708.8" cy="609" r="6.4" fill="#bcc7e5"/>
<circle cx="2567" cy="549" r="4.6" fill="#bcc7e5"/>
<circle cx="2697.9" cy="550" r="5.4" fill="#bcc7e5"/>
<path d="M2518 701.5 L2515.9 694.9 L2514.2 688.5 L2512.6 682.1 L2511.2 675.8 L2510.1 669.5 L2509.2 663.4 L2508.5 657.2 L2507.9 651.2 L2507.6 645.3 L2507.5 639.4 L2507.5 633.6 L2507.7 627.8 L2508 622.2 L2508.5 616.6 A5.8 5.8 0 0 0 2497.1 615.4 L2497.1 615.4 L2496.5 621.1 L2495.8 626.7 L2494.9 632.4 L2493.9 638.2 L2492.8 644 L2491.4 649.8 L2489.9 655.8 L2488.3 661.7 L2486.4 667.7 L2484.3 673.8 L2482.1 679.9 L2479.6 686 L2476.9 692.3 L2474 698.5ZM2541.5 723.6 L2542.7 717.8 L2544.2 712.1 L2546 706.6 L2548.1 701.4 L2550.5 696.4 L2553.2 691.7 L2556.1 687.2 L2559.3 683 L2562.7 679.1 L2566.3 675.4 L2570.1 672.1 L2574.1 669.1 L2578.3 666.3 L2582.6 663.9 A5.5 5.5 0 0 0 2577.4 654.1 L2577.4 654.1 L2572.7 656.7 L2567.9 659.4 L2563.2 662.2 L2558.5 665.1 L2553.7 668.1 L2548.8 671.1 L2543.9 674.3 L2538.9 677.6 L2533.8 681 L2528.6 684.6 L2523.3 688.3 L2517.8 692.1 L2512.2 696.2 L2506.5 700.4Z" fill="#bcc7e5"/>
<circle cx="2492.4" cy="730.6" r="56.3" fill="#bcc7e5"/>
<circle cx="2495.1" cy="734.3" r="28.3" fill="#7f95d8"/>
<text x="2425.8" y="742.3" font-size="43.3" textLength="95.4" lengthAdjust="spacingAndGlyphs" fill="#000">TRM</text>
<circle cx="2857.5" cy="698.4" r="116" fill="url(#glTh17)"/>
<circle cx="2857.9" cy="698.4" r="66.7" fill="#c8cce9" stroke="#8e9cdf" stroke-width="2.2"/>
<circle cx="2869.7" cy="701" r="38" fill="#939fe0"/>
<text x="2826.4" y="705" font-size="43.3" textLength="99.2" lengthAdjust="spacingAndGlyphs" fill="#000">Th17</text>
<path d="M2859.3 800.5 V939.9" stroke="#222" stroke-width="5" fill="none"/>
<path d="M2859.3 958.3 L2847.6 935.3 L2871.1 935.3 Z" fill="#222"/>
<rect x="2794.5" y="974.2" width="131" height="68.9" rx="1.5" fill="#e6dcf1" stroke="#8a9bd9" stroke-width="4" fill-opacity="0.95"/>
<text x="2807.3" y="1023.7" font-size="43.3" textLength="103" lengthAdjust="spacingAndGlyphs" fill="#000">IL-17</text>
<path d="M2860.3 1084 V1053.5" stroke="#5b4690" stroke-width="7" fill="none"/>
<path d="M2838.8 1053.5 H2880.8" stroke="#5b4690" stroke-width="7" fill="none"/>
<rect x="2735" y="1085.3" width="251" height="65.2" rx="1.5" fill="#dce6f7" stroke="#3d6cb8" stroke-width="4"/>
<text x="2741.8" y="1129.6" font-size="36.1" textLength="231.2" lengthAdjust="spacingAndGlyphs" fill="#000">Secukinumab</text>
<path d="M179 1364 L2861 1264 L2861 1277 L179 1378 Z" fill="#ffffff"/>
<path d="M179 1262.5 H2861 L179 1363.5 Z" fill="url(#gBlueW)" stroke="#3a7ec6" stroke-width="4.5" stroke-linejoin="round"/>
<path d="M179 1378.5 L2857 1276.5 V1378.5 Z" fill="url(#gPurW)" stroke="#8457a8" stroke-width="4.5" stroke-linejoin="round"/>
<rect x="206.2" y="1414.8" width="631.5" height="98.5" rx="24" fill="#edf2fb" stroke="#3b6f83" stroke-width="4.5"/>
<text x="400.8" y="1479" font-size="45.3" textLength="245.1" lengthAdjust="spacingAndGlyphs" fill="#000">Healthy skin</text>
<rect x="880.2" y="1414.8" width="630.5" height="98.5" rx="24" fill="#ddf0f4" stroke="#3b6f83" stroke-width="4.5"/>
<text x="1024.7" y="1479" font-size="45.3" textLength="345.1" lengthAdjust="spacingAndGlyphs" fill="#000">Non-lesional skin</text>
<rect x="1554.8" y="1414.8" width="629" height="98.5" rx="24" fill="#bbdcf5" stroke="#3b6f83" stroke-width="4.5"/>
<text x="1668.8" y="1479" font-size="45.3" textLength="402.4" lengthAdjust="spacingAndGlyphs" fill="#000">Acute lesional stage</text>
<rect x="2228.2" y="1414.8" width="629.5" height="98.5" rx="24" fill="#98acd6" stroke="#3b6f83" stroke-width="4.5"/>
<text x="2324.8" y="1479" font-size="45.3" textLength="438.4" lengthAdjust="spacingAndGlyphs" fill="#000">Chronic lesional stage</text>
<rect x="1100.8" y="1541.2" width="1761.5" height="85.5" rx="2" fill="url(#gBar1)" stroke="#3a7ec6" stroke-width="4.5"/>
<rect x="1554.2" y="1655.8" width="1308" height="86.5" rx="2" fill="url(#gBar2)" stroke="#3d66b6" stroke-width="4.5"/>
</svg>
</body></html>
